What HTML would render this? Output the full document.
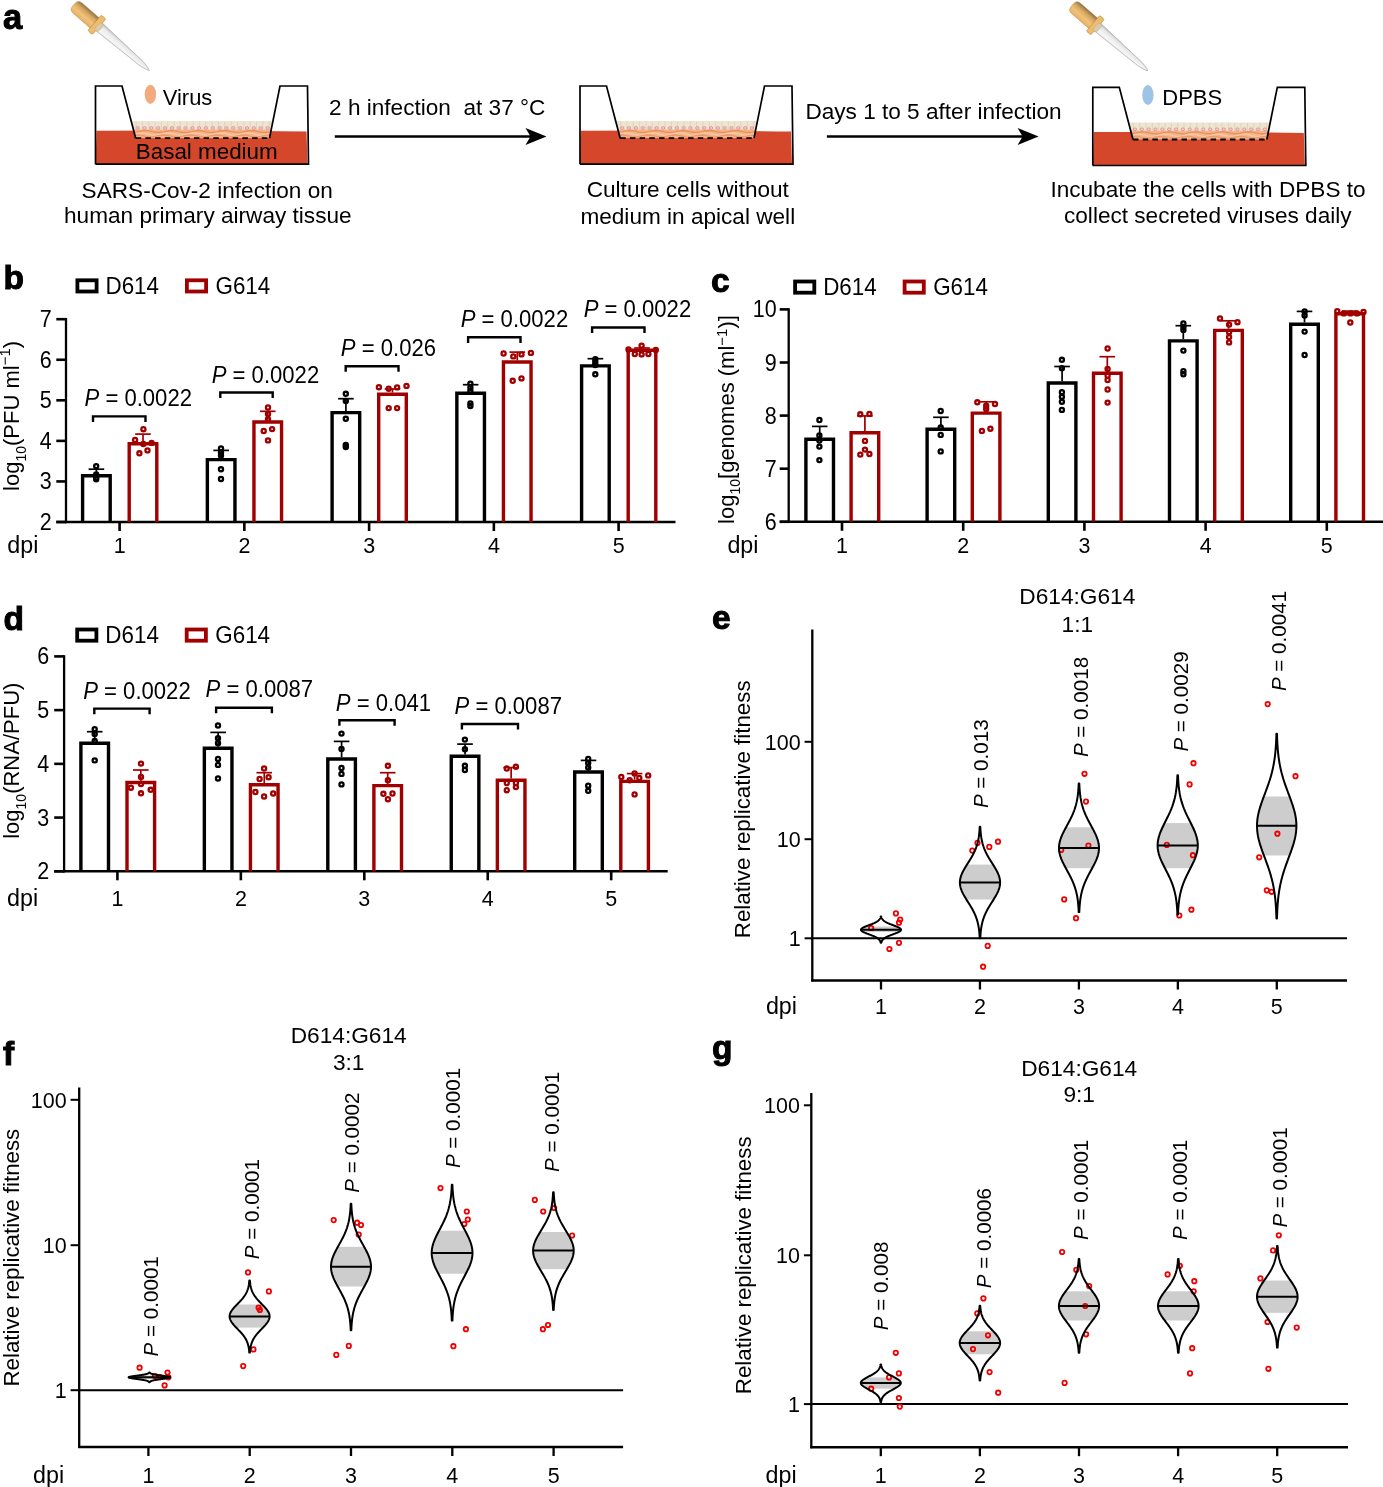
<!DOCTYPE html><html><head><meta charset="utf-8"><style>html,body{margin:0;padding:0;background:#fff;overflow:hidden}svg text{font-family:"Liberation Sans",sans-serif}</style></head><body><svg width="1383" height="1487" viewBox="0 0 1383 1487" style="display:block;will-change:transform" font-family='"Liberation Sans", sans-serif'>
<defs><linearGradient id="bulb" x1="0" y1="0" x2="0" y2="1"><stop offset="0" stop-color="#8e7048"/><stop offset="0.3" stop-color="#d4a660"/><stop offset="0.65" stop-color="#f2c278"/><stop offset="1" stop-color="#e4b066"/></linearGradient><linearGradient id="glass" x1="0" y1="0" x2="0" y2="1"><stop offset="0" stop-color="#bdbdbd"/><stop offset="0.3" stop-color="#e8e8e8"/><stop offset="0.7" stop-color="#f6f6f6"/><stop offset="1" stop-color="#ececec"/></linearGradient><linearGradient id="cells" x1="0" y1="0" x2="0" y2="1"><stop offset="0" stop-color="#efe7d6"/><stop offset="0.5" stop-color="#ece0c8"/><stop offset="0.62" stop-color="#f0a070"/><stop offset="0.8" stop-color="#eec0a0"/><stop offset="1" stop-color="#f08a55"/></linearGradient></defs>
<rect width="1383" height="1487" fill="#fff"/>
<text x="3.00" y="28.50" font-size="34.5" text-anchor="start" font-weight="bold" font-style="normal" fill="#000"  stroke="#000" stroke-width="1.0">a</text>
<g transform="translate(73.80,4.80) rotate(41.0)">
<path d="M32,-5.0 L90,-2.6 Q100,-0.8 100,0 Q100,0.8 90,2.6 L32,5.0 Z" fill="url(#glass)" stroke="#9a9a9a" stroke-width="0.6"/>
<path d="M5,-6.8 L29,-6.8 L29,6.8 L5,6.8 Q0,6.8 0,1.8 L0,-1.8 Q0,-6.8 5,-6.8 Z" fill="url(#bulb)" stroke="#b48a4a" stroke-width="0.5"/>
<path d="M27.5,-9.8 Q30.5,-11.2 33.5,-9.8 L33.5,9.8 Q30.5,11.2 27.5,9.8 Z" fill="#eebc6c" stroke="#b8893e" stroke-width="0.6"/>
<ellipse cx="33.6" cy="0.4" rx="2.6" ry="5.2" fill="#dccaa6" stroke="#b9a27a" stroke-width="0.4"/>
</g>
<g transform="translate(1072.30,5.20) rotate(41.0)">
<path d="M32,-5.0 L90,-2.6 Q100,-0.8 100,0 Q100,0.8 90,2.6 L32,5.0 Z" fill="url(#glass)" stroke="#9a9a9a" stroke-width="0.6"/>
<path d="M5,-6.8 L29,-6.8 L29,6.8 L5,6.8 Q0,6.8 0,1.8 L0,-1.8 Q0,-6.8 5,-6.8 Z" fill="url(#bulb)" stroke="#b48a4a" stroke-width="0.5"/>
<path d="M27.5,-9.8 Q30.5,-11.2 33.5,-9.8 L33.5,9.8 Q30.5,11.2 27.5,9.8 Z" fill="#eebc6c" stroke="#b8893e" stroke-width="0.6"/>
<ellipse cx="33.6" cy="0.4" rx="2.6" ry="5.2" fill="#dccaa6" stroke="#b9a27a" stroke-width="0.4"/>
</g>
<path d="M96.50,130.80 Q201.50,130.20 306.50,131.60 L307.50,164.20 L95.50,164.20 Z" fill="#d4472b"/>
<clipPath id="cl95"><path d="M131.19,121.00 L272.96,121.00 L269.50,138.20 L135.70,138.20 Z"/></clipPath>
<g clip-path="url(#cl95)">
<rect x="115.50" y="121.00" width="172.00" height="17.20" fill="#ede4d2"/>
<rect x="115.50" y="129.50" width="172.00" height="8.70" fill="#f3b48a"/>
<polyline points="125.50,131.50 129.30,132.28 133.10,132.47 136.90,131.93 140.70,131.06 144.50,130.52 148.30,130.73 152.10,131.52 155.90,132.29 159.70,132.47 163.50,131.91 167.30,131.04 171.10,130.52 174.90,130.74 178.70,131.53 182.50,132.30 186.30,132.47 190.10,131.90 193.90,131.03 197.70,130.52 201.50,130.75 205.30,131.55 209.10,132.31 212.90,132.46 216.70,131.88 220.50,131.01 224.30,130.51 228.10,130.76 231.90,131.57 235.70,132.32 239.50,132.46 243.30,131.87 247.10,131.00 250.90,130.51 254.70,130.77 258.50,131.58 262.30,132.33 266.10,132.45 269.90,131.85 273.70,130.98 277.50,130.51" fill="none" stroke="#ee8f55" stroke-width="1.3"/>
<polyline points="125.50,135.01 129.30,135.14 133.10,134.40 136.90,133.36 140.70,132.81 144.50,133.15 148.30,134.14 152.10,135.02 155.90,135.13 159.70,134.38 163.50,133.35 167.30,132.81 171.10,133.17 174.90,134.16 178.70,135.03 182.50,135.12 186.30,134.36 190.10,133.33 193.90,132.80 197.70,133.18 201.50,134.18 205.30,135.04 209.10,135.11 212.90,134.34 216.70,133.31 220.50,132.80 224.30,133.20 228.10,134.20 231.90,135.05 235.70,135.11 239.50,134.33 243.30,133.30 247.10,132.80 250.90,133.21 254.70,134.22 258.50,135.06 262.30,135.10 266.10,134.31 269.90,133.28 273.70,132.80 277.50,133.23" fill="none" stroke="#f5c9ae" stroke-width="1.3"/>
<polyline points="125.50,136.91 129.30,136.24 133.10,135.39 136.90,135.00 140.70,135.37 144.50,136.22 148.30,136.90 152.10,136.90 155.90,136.22 159.70,135.37 163.50,135.00 167.30,135.38 171.10,136.23 174.90,136.91 178.70,136.89 182.50,136.21 186.30,135.36 190.10,135.00 193.90,135.40 197.70,136.25 201.50,136.91 205.30,136.89 209.10,136.19 212.90,135.35 216.70,135.00 220.50,135.41 224.30,136.26 228.10,136.92 231.90,136.88 235.70,136.17 239.50,135.34 243.30,135.00 247.10,135.42 250.90,136.28 254.70,136.93 258.50,136.87 262.30,136.16 266.10,135.32 269.90,135.00 273.70,135.44 277.50,136.30" fill="none" stroke="#ef9a66" stroke-width="1.3"/>
<line x1="129.70" y1="121.50" x2="129.70" y2="129.50" stroke="#d6c9ae" stroke-width="0.6"/>
<line x1="136.04" y1="121.50" x2="136.04" y2="129.50" stroke="#d6c9ae" stroke-width="0.6"/>
<line x1="142.38" y1="121.50" x2="142.38" y2="129.50" stroke="#d6c9ae" stroke-width="0.6"/>
<line x1="148.72" y1="121.50" x2="148.72" y2="129.50" stroke="#d6c9ae" stroke-width="0.6"/>
<line x1="155.06" y1="121.50" x2="155.06" y2="129.50" stroke="#d6c9ae" stroke-width="0.6"/>
<line x1="161.40" y1="121.50" x2="161.40" y2="129.50" stroke="#d6c9ae" stroke-width="0.6"/>
<line x1="167.73" y1="121.50" x2="167.73" y2="129.50" stroke="#d6c9ae" stroke-width="0.6"/>
<line x1="174.07" y1="121.50" x2="174.07" y2="129.50" stroke="#d6c9ae" stroke-width="0.6"/>
<line x1="180.41" y1="121.50" x2="180.41" y2="129.50" stroke="#d6c9ae" stroke-width="0.6"/>
<line x1="186.75" y1="121.50" x2="186.75" y2="129.50" stroke="#d6c9ae" stroke-width="0.6"/>
<line x1="193.09" y1="121.50" x2="193.09" y2="129.50" stroke="#d6c9ae" stroke-width="0.6"/>
<line x1="199.43" y1="121.50" x2="199.43" y2="129.50" stroke="#d6c9ae" stroke-width="0.6"/>
<line x1="205.77" y1="121.50" x2="205.77" y2="129.50" stroke="#d6c9ae" stroke-width="0.6"/>
<line x1="212.11" y1="121.50" x2="212.11" y2="129.50" stroke="#d6c9ae" stroke-width="0.6"/>
<line x1="218.45" y1="121.50" x2="218.45" y2="129.50" stroke="#d6c9ae" stroke-width="0.6"/>
<line x1="224.79" y1="121.50" x2="224.79" y2="129.50" stroke="#d6c9ae" stroke-width="0.6"/>
<line x1="231.13" y1="121.50" x2="231.13" y2="129.50" stroke="#d6c9ae" stroke-width="0.6"/>
<line x1="237.47" y1="121.50" x2="237.47" y2="129.50" stroke="#d6c9ae" stroke-width="0.6"/>
<line x1="243.80" y1="121.50" x2="243.80" y2="129.50" stroke="#d6c9ae" stroke-width="0.6"/>
<line x1="250.14" y1="121.50" x2="250.14" y2="129.50" stroke="#d6c9ae" stroke-width="0.6"/>
<line x1="256.48" y1="121.50" x2="256.48" y2="129.50" stroke="#d6c9ae" stroke-width="0.6"/>
<line x1="262.82" y1="121.50" x2="262.82" y2="129.50" stroke="#d6c9ae" stroke-width="0.6"/>
<line x1="269.16" y1="121.50" x2="269.16" y2="129.50" stroke="#d6c9ae" stroke-width="0.6"/>
<line x1="275.50" y1="121.50" x2="275.50" y2="129.50" stroke="#d6c9ae" stroke-width="0.6"/>
<ellipse cx="137.70" cy="128.00" rx="1.7" ry="1.4" fill="#f0d0cc" stroke="#dd8088" stroke-width="0.7"/>
<ellipse cx="144.53" cy="128.00" rx="1.7" ry="1.4" fill="#f0d0cc" stroke="#dd8088" stroke-width="0.7"/>
<ellipse cx="151.36" cy="128.00" rx="1.7" ry="1.4" fill="#f0d0cc" stroke="#dd8088" stroke-width="0.7"/>
<ellipse cx="158.19" cy="128.00" rx="1.7" ry="1.4" fill="#f0d0cc" stroke="#dd8088" stroke-width="0.7"/>
<ellipse cx="165.03" cy="128.00" rx="1.7" ry="1.4" fill="#f0d0cc" stroke="#dd8088" stroke-width="0.7"/>
<ellipse cx="171.86" cy="128.00" rx="1.7" ry="1.4" fill="#f0d0cc" stroke="#dd8088" stroke-width="0.7"/>
<ellipse cx="178.69" cy="128.00" rx="1.7" ry="1.4" fill="#f0d0cc" stroke="#dd8088" stroke-width="0.7"/>
<ellipse cx="185.52" cy="128.00" rx="1.7" ry="1.4" fill="#f0d0cc" stroke="#dd8088" stroke-width="0.7"/>
<ellipse cx="192.35" cy="128.00" rx="1.7" ry="1.4" fill="#f0d0cc" stroke="#dd8088" stroke-width="0.7"/>
<ellipse cx="199.18" cy="128.00" rx="1.7" ry="1.4" fill="#f0d0cc" stroke="#dd8088" stroke-width="0.7"/>
<ellipse cx="206.02" cy="128.00" rx="1.7" ry="1.4" fill="#f0d0cc" stroke="#dd8088" stroke-width="0.7"/>
<ellipse cx="212.85" cy="128.00" rx="1.7" ry="1.4" fill="#f0d0cc" stroke="#dd8088" stroke-width="0.7"/>
<ellipse cx="219.68" cy="128.00" rx="1.7" ry="1.4" fill="#f0d0cc" stroke="#dd8088" stroke-width="0.7"/>
<ellipse cx="226.51" cy="128.00" rx="1.7" ry="1.4" fill="#f0d0cc" stroke="#dd8088" stroke-width="0.7"/>
<ellipse cx="233.34" cy="128.00" rx="1.7" ry="1.4" fill="#f0d0cc" stroke="#dd8088" stroke-width="0.7"/>
<ellipse cx="240.17" cy="128.00" rx="1.7" ry="1.4" fill="#f0d0cc" stroke="#dd8088" stroke-width="0.7"/>
<ellipse cx="247.01" cy="128.00" rx="1.7" ry="1.4" fill="#f0d0cc" stroke="#dd8088" stroke-width="0.7"/>
<ellipse cx="253.84" cy="128.00" rx="1.7" ry="1.4" fill="#f0d0cc" stroke="#dd8088" stroke-width="0.7"/>
<ellipse cx="260.67" cy="128.00" rx="1.7" ry="1.4" fill="#f0d0cc" stroke="#dd8088" stroke-width="0.7"/>
<ellipse cx="267.50" cy="128.00" rx="1.7" ry="1.4" fill="#f0d0cc" stroke="#dd8088" stroke-width="0.7"/>
</g>
<path d="M95.50,164.20 L95.50,86.00 L122.00,86.00 L135.70,138.20" fill="none" stroke="#000" stroke-width="1.7" stroke-linejoin="miter"/>
<path d="M269.50,138.20 L280.00,86.00 L307.50,86.00 L308.50,164.20 L95.50,164.20" fill="none" stroke="#000" stroke-width="1.7" stroke-linejoin="miter"/>
<line x1="135.70" y1="138.20" x2="269.50" y2="138.20" stroke="#000" stroke-width="1.8" stroke-dasharray="5.5,4.2"/>
<path d="M581.00,130.80 Q686.00,130.20 791.00,131.60 L792.00,164.20 L580.00,164.20 Z" fill="#d4472b"/>
<clipPath id="cl580"><path d="M615.69,121.00 L757.46,121.00 L754.00,138.20 L620.20,138.20 Z"/></clipPath>
<g clip-path="url(#cl580)">
<rect x="600.00" y="121.00" width="172.00" height="17.20" fill="#ede4d2"/>
<rect x="600.00" y="129.50" width="172.00" height="8.70" fill="#f3b48a"/>
<polyline points="610.00,131.50 613.80,132.28 617.60,132.47 621.40,131.93 625.20,131.06 629.00,130.52 632.80,130.73 636.60,131.52 640.40,132.29 644.20,132.47 648.00,131.91 651.80,131.04 655.60,130.52 659.40,130.74 663.20,131.53 667.00,132.30 670.80,132.47 674.60,131.90 678.40,131.03 682.20,130.52 686.00,130.75 689.80,131.55 693.60,132.31 697.40,132.46 701.20,131.88 705.00,131.01 708.80,130.51 712.60,130.76 716.40,131.57 720.20,132.32 724.00,132.46 727.80,131.87 731.60,131.00 735.40,130.51 739.20,130.77 743.00,131.58 746.80,132.33 750.60,132.45 754.40,131.85 758.20,130.98 762.00,130.51" fill="none" stroke="#ee8f55" stroke-width="1.3"/>
<polyline points="610.00,135.01 613.80,135.14 617.60,134.40 621.40,133.36 625.20,132.81 629.00,133.15 632.80,134.14 636.60,135.02 640.40,135.13 644.20,134.38 648.00,133.35 651.80,132.81 655.60,133.17 659.40,134.16 663.20,135.03 667.00,135.12 670.80,134.36 674.60,133.33 678.40,132.80 682.20,133.18 686.00,134.18 689.80,135.04 693.60,135.11 697.40,134.34 701.20,133.31 705.00,132.80 708.80,133.20 712.60,134.20 716.40,135.05 720.20,135.11 724.00,134.33 727.80,133.30 731.60,132.80 735.40,133.21 739.20,134.22 743.00,135.06 746.80,135.10 750.60,134.31 754.40,133.28 758.20,132.80 762.00,133.23" fill="none" stroke="#f5c9ae" stroke-width="1.3"/>
<polyline points="610.00,136.91 613.80,136.24 617.60,135.39 621.40,135.00 625.20,135.37 629.00,136.22 632.80,136.90 636.60,136.90 640.40,136.22 644.20,135.37 648.00,135.00 651.80,135.38 655.60,136.23 659.40,136.91 663.20,136.89 667.00,136.21 670.80,135.36 674.60,135.00 678.40,135.40 682.20,136.25 686.00,136.91 689.80,136.89 693.60,136.19 697.40,135.35 701.20,135.00 705.00,135.41 708.80,136.26 712.60,136.92 716.40,136.88 720.20,136.17 724.00,135.34 727.80,135.00 731.60,135.42 735.40,136.28 739.20,136.93 743.00,136.87 746.80,136.16 750.60,135.32 754.40,135.00 758.20,135.44 762.00,136.30" fill="none" stroke="#ef9a66" stroke-width="1.3"/>
<line x1="614.20" y1="121.50" x2="614.20" y2="129.50" stroke="#d6c9ae" stroke-width="0.6"/>
<line x1="620.54" y1="121.50" x2="620.54" y2="129.50" stroke="#d6c9ae" stroke-width="0.6"/>
<line x1="626.88" y1="121.50" x2="626.88" y2="129.50" stroke="#d6c9ae" stroke-width="0.6"/>
<line x1="633.22" y1="121.50" x2="633.22" y2="129.50" stroke="#d6c9ae" stroke-width="0.6"/>
<line x1="639.56" y1="121.50" x2="639.56" y2="129.50" stroke="#d6c9ae" stroke-width="0.6"/>
<line x1="645.90" y1="121.50" x2="645.90" y2="129.50" stroke="#d6c9ae" stroke-width="0.6"/>
<line x1="652.23" y1="121.50" x2="652.23" y2="129.50" stroke="#d6c9ae" stroke-width="0.6"/>
<line x1="658.57" y1="121.50" x2="658.57" y2="129.50" stroke="#d6c9ae" stroke-width="0.6"/>
<line x1="664.91" y1="121.50" x2="664.91" y2="129.50" stroke="#d6c9ae" stroke-width="0.6"/>
<line x1="671.25" y1="121.50" x2="671.25" y2="129.50" stroke="#d6c9ae" stroke-width="0.6"/>
<line x1="677.59" y1="121.50" x2="677.59" y2="129.50" stroke="#d6c9ae" stroke-width="0.6"/>
<line x1="683.93" y1="121.50" x2="683.93" y2="129.50" stroke="#d6c9ae" stroke-width="0.6"/>
<line x1="690.27" y1="121.50" x2="690.27" y2="129.50" stroke="#d6c9ae" stroke-width="0.6"/>
<line x1="696.61" y1="121.50" x2="696.61" y2="129.50" stroke="#d6c9ae" stroke-width="0.6"/>
<line x1="702.95" y1="121.50" x2="702.95" y2="129.50" stroke="#d6c9ae" stroke-width="0.6"/>
<line x1="709.29" y1="121.50" x2="709.29" y2="129.50" stroke="#d6c9ae" stroke-width="0.6"/>
<line x1="715.63" y1="121.50" x2="715.63" y2="129.50" stroke="#d6c9ae" stroke-width="0.6"/>
<line x1="721.97" y1="121.50" x2="721.97" y2="129.50" stroke="#d6c9ae" stroke-width="0.6"/>
<line x1="728.30" y1="121.50" x2="728.30" y2="129.50" stroke="#d6c9ae" stroke-width="0.6"/>
<line x1="734.64" y1="121.50" x2="734.64" y2="129.50" stroke="#d6c9ae" stroke-width="0.6"/>
<line x1="740.98" y1="121.50" x2="740.98" y2="129.50" stroke="#d6c9ae" stroke-width="0.6"/>
<line x1="747.32" y1="121.50" x2="747.32" y2="129.50" stroke="#d6c9ae" stroke-width="0.6"/>
<line x1="753.66" y1="121.50" x2="753.66" y2="129.50" stroke="#d6c9ae" stroke-width="0.6"/>
<line x1="760.00" y1="121.50" x2="760.00" y2="129.50" stroke="#d6c9ae" stroke-width="0.6"/>
<ellipse cx="622.20" cy="128.00" rx="1.7" ry="1.4" fill="#f0d0cc" stroke="#dd8088" stroke-width="0.7"/>
<ellipse cx="629.03" cy="128.00" rx="1.7" ry="1.4" fill="#f0d0cc" stroke="#dd8088" stroke-width="0.7"/>
<ellipse cx="635.86" cy="128.00" rx="1.7" ry="1.4" fill="#f0d0cc" stroke="#dd8088" stroke-width="0.7"/>
<ellipse cx="642.69" cy="128.00" rx="1.7" ry="1.4" fill="#f0d0cc" stroke="#dd8088" stroke-width="0.7"/>
<ellipse cx="649.53" cy="128.00" rx="1.7" ry="1.4" fill="#f0d0cc" stroke="#dd8088" stroke-width="0.7"/>
<ellipse cx="656.36" cy="128.00" rx="1.7" ry="1.4" fill="#f0d0cc" stroke="#dd8088" stroke-width="0.7"/>
<ellipse cx="663.19" cy="128.00" rx="1.7" ry="1.4" fill="#f0d0cc" stroke="#dd8088" stroke-width="0.7"/>
<ellipse cx="670.02" cy="128.00" rx="1.7" ry="1.4" fill="#f0d0cc" stroke="#dd8088" stroke-width="0.7"/>
<ellipse cx="676.85" cy="128.00" rx="1.7" ry="1.4" fill="#f0d0cc" stroke="#dd8088" stroke-width="0.7"/>
<ellipse cx="683.68" cy="128.00" rx="1.7" ry="1.4" fill="#f0d0cc" stroke="#dd8088" stroke-width="0.7"/>
<ellipse cx="690.52" cy="128.00" rx="1.7" ry="1.4" fill="#f0d0cc" stroke="#dd8088" stroke-width="0.7"/>
<ellipse cx="697.35" cy="128.00" rx="1.7" ry="1.4" fill="#f0d0cc" stroke="#dd8088" stroke-width="0.7"/>
<ellipse cx="704.18" cy="128.00" rx="1.7" ry="1.4" fill="#f0d0cc" stroke="#dd8088" stroke-width="0.7"/>
<ellipse cx="711.01" cy="128.00" rx="1.7" ry="1.4" fill="#f0d0cc" stroke="#dd8088" stroke-width="0.7"/>
<ellipse cx="717.84" cy="128.00" rx="1.7" ry="1.4" fill="#f0d0cc" stroke="#dd8088" stroke-width="0.7"/>
<ellipse cx="724.67" cy="128.00" rx="1.7" ry="1.4" fill="#f0d0cc" stroke="#dd8088" stroke-width="0.7"/>
<ellipse cx="731.51" cy="128.00" rx="1.7" ry="1.4" fill="#f0d0cc" stroke="#dd8088" stroke-width="0.7"/>
<ellipse cx="738.34" cy="128.00" rx="1.7" ry="1.4" fill="#f0d0cc" stroke="#dd8088" stroke-width="0.7"/>
<ellipse cx="745.17" cy="128.00" rx="1.7" ry="1.4" fill="#f0d0cc" stroke="#dd8088" stroke-width="0.7"/>
<ellipse cx="752.00" cy="128.00" rx="1.7" ry="1.4" fill="#f0d0cc" stroke="#dd8088" stroke-width="0.7"/>
</g>
<path d="M580.00,164.20 L580.00,86.00 L606.50,86.00 L620.20,138.20" fill="none" stroke="#000" stroke-width="1.7" stroke-linejoin="miter"/>
<path d="M754.00,138.20 L764.50,86.00 L792.00,86.00 L793.00,164.20 L580.00,164.20" fill="none" stroke="#000" stroke-width="1.7" stroke-linejoin="miter"/>
<line x1="620.20" y1="138.20" x2="754.00" y2="138.20" stroke="#000" stroke-width="1.8" stroke-dasharray="5.5,4.2"/>
<path d="M1093.80,132.10 Q1198.80,131.50 1303.80,132.90 L1304.80,165.50 L1092.80,165.50 Z" fill="#d4472b"/>
<clipPath id="cl1092"><path d="M1128.49,122.30 L1270.26,122.30 L1266.80,139.50 L1133.00,139.50 Z"/></clipPath>
<g clip-path="url(#cl1092)">
<rect x="1112.80" y="122.30" width="172.00" height="17.20" fill="#ede4d2"/>
<rect x="1112.80" y="130.80" width="172.00" height="8.70" fill="#f3b48a"/>
<polyline points="1122.80,132.80 1126.60,133.58 1130.40,133.77 1134.20,133.23 1138.00,132.36 1141.80,131.82 1145.60,132.03 1149.40,132.82 1153.20,133.59 1157.00,133.77 1160.80,133.21 1164.60,132.34 1168.40,131.82 1172.20,132.04 1176.00,132.83 1179.80,133.60 1183.60,133.77 1187.40,133.20 1191.20,132.33 1195.00,131.82 1198.80,132.05 1202.60,132.85 1206.40,133.61 1210.20,133.76 1214.00,133.18 1217.80,132.31 1221.60,131.81 1225.40,132.06 1229.20,132.87 1233.00,133.62 1236.80,133.76 1240.60,133.17 1244.40,132.30 1248.20,131.81 1252.00,132.07 1255.80,132.88 1259.60,133.63 1263.40,133.75 1267.20,133.15 1271.00,132.28 1274.80,131.81" fill="none" stroke="#ee8f55" stroke-width="1.3"/>
<polyline points="1122.80,136.31 1126.60,136.44 1130.40,135.70 1134.20,134.66 1138.00,134.11 1141.80,134.45 1145.60,135.44 1149.40,136.32 1153.20,136.43 1157.00,135.68 1160.80,134.65 1164.60,134.11 1168.40,134.47 1172.20,135.46 1176.00,136.33 1179.80,136.42 1183.60,135.66 1187.40,134.63 1191.20,134.10 1195.00,134.48 1198.80,135.48 1202.60,136.34 1206.40,136.41 1210.20,135.64 1214.00,134.61 1217.80,134.10 1221.60,134.50 1225.40,135.50 1229.20,136.35 1233.00,136.41 1236.80,135.63 1240.60,134.60 1244.40,134.10 1248.20,134.51 1252.00,135.52 1255.80,136.36 1259.60,136.40 1263.40,135.61 1267.20,134.58 1271.00,134.10 1274.80,134.53" fill="none" stroke="#f5c9ae" stroke-width="1.3"/>
<polyline points="1122.80,138.21 1126.60,137.54 1130.40,136.69 1134.20,136.30 1138.00,136.67 1141.80,137.52 1145.60,138.20 1149.40,138.20 1153.20,137.52 1157.00,136.67 1160.80,136.30 1164.60,136.68 1168.40,137.53 1172.20,138.21 1176.00,138.19 1179.80,137.51 1183.60,136.66 1187.40,136.30 1191.20,136.70 1195.00,137.55 1198.80,138.21 1202.60,138.19 1206.40,137.49 1210.20,136.65 1214.00,136.30 1217.80,136.71 1221.60,137.56 1225.40,138.22 1229.20,138.18 1233.00,137.47 1236.80,136.64 1240.60,136.30 1244.40,136.72 1248.20,137.58 1252.00,138.23 1255.80,138.17 1259.60,137.46 1263.40,136.62 1267.20,136.30 1271.00,136.74 1274.80,137.60" fill="none" stroke="#ef9a66" stroke-width="1.3"/>
<line x1="1127.00" y1="122.80" x2="1127.00" y2="130.80" stroke="#d6c9ae" stroke-width="0.6"/>
<line x1="1133.34" y1="122.80" x2="1133.34" y2="130.80" stroke="#d6c9ae" stroke-width="0.6"/>
<line x1="1139.68" y1="122.80" x2="1139.68" y2="130.80" stroke="#d6c9ae" stroke-width="0.6"/>
<line x1="1146.02" y1="122.80" x2="1146.02" y2="130.80" stroke="#d6c9ae" stroke-width="0.6"/>
<line x1="1152.36" y1="122.80" x2="1152.36" y2="130.80" stroke="#d6c9ae" stroke-width="0.6"/>
<line x1="1158.70" y1="122.80" x2="1158.70" y2="130.80" stroke="#d6c9ae" stroke-width="0.6"/>
<line x1="1165.03" y1="122.80" x2="1165.03" y2="130.80" stroke="#d6c9ae" stroke-width="0.6"/>
<line x1="1171.37" y1="122.80" x2="1171.37" y2="130.80" stroke="#d6c9ae" stroke-width="0.6"/>
<line x1="1177.71" y1="122.80" x2="1177.71" y2="130.80" stroke="#d6c9ae" stroke-width="0.6"/>
<line x1="1184.05" y1="122.80" x2="1184.05" y2="130.80" stroke="#d6c9ae" stroke-width="0.6"/>
<line x1="1190.39" y1="122.80" x2="1190.39" y2="130.80" stroke="#d6c9ae" stroke-width="0.6"/>
<line x1="1196.73" y1="122.80" x2="1196.73" y2="130.80" stroke="#d6c9ae" stroke-width="0.6"/>
<line x1="1203.07" y1="122.80" x2="1203.07" y2="130.80" stroke="#d6c9ae" stroke-width="0.6"/>
<line x1="1209.41" y1="122.80" x2="1209.41" y2="130.80" stroke="#d6c9ae" stroke-width="0.6"/>
<line x1="1215.75" y1="122.80" x2="1215.75" y2="130.80" stroke="#d6c9ae" stroke-width="0.6"/>
<line x1="1222.09" y1="122.80" x2="1222.09" y2="130.80" stroke="#d6c9ae" stroke-width="0.6"/>
<line x1="1228.43" y1="122.80" x2="1228.43" y2="130.80" stroke="#d6c9ae" stroke-width="0.6"/>
<line x1="1234.77" y1="122.80" x2="1234.77" y2="130.80" stroke="#d6c9ae" stroke-width="0.6"/>
<line x1="1241.10" y1="122.80" x2="1241.10" y2="130.80" stroke="#d6c9ae" stroke-width="0.6"/>
<line x1="1247.44" y1="122.80" x2="1247.44" y2="130.80" stroke="#d6c9ae" stroke-width="0.6"/>
<line x1="1253.78" y1="122.80" x2="1253.78" y2="130.80" stroke="#d6c9ae" stroke-width="0.6"/>
<line x1="1260.12" y1="122.80" x2="1260.12" y2="130.80" stroke="#d6c9ae" stroke-width="0.6"/>
<line x1="1266.46" y1="122.80" x2="1266.46" y2="130.80" stroke="#d6c9ae" stroke-width="0.6"/>
<line x1="1272.80" y1="122.80" x2="1272.80" y2="130.80" stroke="#d6c9ae" stroke-width="0.6"/>
<ellipse cx="1135.00" cy="129.30" rx="1.7" ry="1.4" fill="#f0d0cc" stroke="#dd8088" stroke-width="0.7"/>
<ellipse cx="1141.83" cy="129.30" rx="1.7" ry="1.4" fill="#f0d0cc" stroke="#dd8088" stroke-width="0.7"/>
<ellipse cx="1148.66" cy="129.30" rx="1.7" ry="1.4" fill="#f0d0cc" stroke="#dd8088" stroke-width="0.7"/>
<ellipse cx="1155.49" cy="129.30" rx="1.7" ry="1.4" fill="#f0d0cc" stroke="#dd8088" stroke-width="0.7"/>
<ellipse cx="1162.33" cy="129.30" rx="1.7" ry="1.4" fill="#f0d0cc" stroke="#dd8088" stroke-width="0.7"/>
<ellipse cx="1169.16" cy="129.30" rx="1.7" ry="1.4" fill="#f0d0cc" stroke="#dd8088" stroke-width="0.7"/>
<ellipse cx="1175.99" cy="129.30" rx="1.7" ry="1.4" fill="#f0d0cc" stroke="#dd8088" stroke-width="0.7"/>
<ellipse cx="1182.82" cy="129.30" rx="1.7" ry="1.4" fill="#f0d0cc" stroke="#dd8088" stroke-width="0.7"/>
<ellipse cx="1189.65" cy="129.30" rx="1.7" ry="1.4" fill="#f0d0cc" stroke="#dd8088" stroke-width="0.7"/>
<ellipse cx="1196.48" cy="129.30" rx="1.7" ry="1.4" fill="#f0d0cc" stroke="#dd8088" stroke-width="0.7"/>
<ellipse cx="1203.32" cy="129.30" rx="1.7" ry="1.4" fill="#f0d0cc" stroke="#dd8088" stroke-width="0.7"/>
<ellipse cx="1210.15" cy="129.30" rx="1.7" ry="1.4" fill="#f0d0cc" stroke="#dd8088" stroke-width="0.7"/>
<ellipse cx="1216.98" cy="129.30" rx="1.7" ry="1.4" fill="#f0d0cc" stroke="#dd8088" stroke-width="0.7"/>
<ellipse cx="1223.81" cy="129.30" rx="1.7" ry="1.4" fill="#f0d0cc" stroke="#dd8088" stroke-width="0.7"/>
<ellipse cx="1230.64" cy="129.30" rx="1.7" ry="1.4" fill="#f0d0cc" stroke="#dd8088" stroke-width="0.7"/>
<ellipse cx="1237.47" cy="129.30" rx="1.7" ry="1.4" fill="#f0d0cc" stroke="#dd8088" stroke-width="0.7"/>
<ellipse cx="1244.31" cy="129.30" rx="1.7" ry="1.4" fill="#f0d0cc" stroke="#dd8088" stroke-width="0.7"/>
<ellipse cx="1251.14" cy="129.30" rx="1.7" ry="1.4" fill="#f0d0cc" stroke="#dd8088" stroke-width="0.7"/>
<ellipse cx="1257.97" cy="129.30" rx="1.7" ry="1.4" fill="#f0d0cc" stroke="#dd8088" stroke-width="0.7"/>
<ellipse cx="1264.80" cy="129.30" rx="1.7" ry="1.4" fill="#f0d0cc" stroke="#dd8088" stroke-width="0.7"/>
</g>
<path d="M1092.80,165.50 L1092.80,87.30 L1119.30,87.30 L1133.00,139.50" fill="none" stroke="#000" stroke-width="1.7" stroke-linejoin="miter"/>
<path d="M1266.80,139.50 L1277.30,87.30 L1304.80,87.30 L1305.80,165.50 L1092.80,165.50" fill="none" stroke="#000" stroke-width="1.7" stroke-linejoin="miter"/>
<line x1="1133.00" y1="139.50" x2="1266.80" y2="139.50" stroke="#000" stroke-width="1.8" stroke-dasharray="5.5,4.2"/>
<ellipse cx="150.4" cy="94.3" rx="5.7" ry="9.6" fill="#f2ab7c"/>
<text x="162.80" y="104.60" font-size="21.9" text-anchor="start" font-weight="normal" font-style="normal" fill="#000" >Virus</text>
<text x="135.80" y="158.80" font-size="22.4" text-anchor="start" font-weight="normal" font-style="normal" fill="#000" >Basal medium</text>
<ellipse cx="1147.9" cy="95.0" rx="5.7" ry="9.9" fill="#9dc3e6"/>
<text x="1162.30" y="105.00" font-size="22.0" text-anchor="start" font-weight="normal" font-style="normal" fill="#000" >DPBS</text>
<text x="437.20" y="115.30" font-size="22.6" text-anchor="middle" font-weight="normal" font-style="normal" fill="#000" xml:space="preserve">2 h infection  at 37 °C</text>
<line x1="334.80" y1="136.50" x2="532.50" y2="136.50" stroke="#000" stroke-width="2.4" />
<path d="M546.50,136.50 L525.50,128.10 L530.50,136.50 L525.50,144.90 Z" fill="#000"/>
<text x="933.50" y="118.70" font-size="22.6" text-anchor="middle" font-weight="normal" font-style="normal" fill="#000" >Days 1 to 5 after infection</text>
<line x1="826.90" y1="136.50" x2="1024.60" y2="136.50" stroke="#000" stroke-width="2.4" />
<path d="M1038.60,136.50 L1017.60,128.10 L1022.60,136.50 L1017.60,144.90 Z" fill="#000"/>
<text x="207.20" y="197.70" font-size="22.6" text-anchor="middle" font-weight="normal" font-style="normal" fill="#000" >SARS-Cov-2 infection on</text>
<text x="207.80" y="222.90" font-size="22.6" text-anchor="middle" font-weight="normal" font-style="normal" fill="#000" >human primary airway tissue</text>
<text x="687.80" y="196.70" font-size="22.6" text-anchor="middle" font-weight="normal" font-style="normal" fill="#000" >Culture cells without</text>
<text x="687.80" y="224.20" font-size="22.6" text-anchor="middle" font-weight="normal" font-style="normal" fill="#000" >medium in apical well</text>
<text x="1208.00" y="196.70" font-size="22.6" text-anchor="middle" font-weight="normal" font-style="normal" fill="#000" >Incubate the cells with DPBS to</text>
<text x="1207.80" y="222.80" font-size="22.6" text-anchor="middle" font-weight="normal" font-style="normal" fill="#000" >collect secreted viruses daily</text>
<text x="3.50" y="288.60" font-size="33.5" text-anchor="start" font-weight="bold" font-style="normal" fill="#000"  stroke="#000" stroke-width="1.0">b</text>
<rect x="77.40" y="280.30" width="19.2" height="11.2" fill="none" stroke="#000" stroke-width="3.8"/>
<text transform="translate(105.50,293.90) scale(1,1.04)" font-size="22.4" text-anchor="start" font-weight="normal" font-style="normal" fill="#000" >D614</text>
<rect x="186.90" y="280.30" width="19.2" height="11.2" fill="none" stroke="#a00000" stroke-width="3.8"/>
<text transform="translate(215.50,293.90) scale(1,1.04)" font-size="22.4" text-anchor="start" font-weight="normal" font-style="normal" fill="#000" >G614</text>
<line x1="66.00" y1="318.00" x2="66.00" y2="523.20" stroke="#000" stroke-width="2.3" stroke-linecap="butt"/>
<line x1="56.30" y1="522.00" x2="66.00" y2="522.00" stroke="#000" stroke-width="2.6" />
<text transform="translate(51.60,530.00) scale(1,1.08)" font-size="21.5" text-anchor="end" font-weight="normal" font-style="normal" fill="#000" >2</text>
<line x1="56.30" y1="481.44" x2="66.00" y2="481.44" stroke="#000" stroke-width="2.6" />
<text transform="translate(51.60,489.44) scale(1,1.08)" font-size="21.5" text-anchor="end" font-weight="normal" font-style="normal" fill="#000" >3</text>
<line x1="56.30" y1="440.88" x2="66.00" y2="440.88" stroke="#000" stroke-width="2.6" />
<text transform="translate(51.60,448.88) scale(1,1.08)" font-size="21.5" text-anchor="end" font-weight="normal" font-style="normal" fill="#000" >4</text>
<line x1="56.30" y1="400.32" x2="66.00" y2="400.32" stroke="#000" stroke-width="2.6" />
<text transform="translate(51.60,408.32) scale(1,1.08)" font-size="21.5" text-anchor="end" font-weight="normal" font-style="normal" fill="#000" >5</text>
<line x1="56.30" y1="359.76" x2="66.00" y2="359.76" stroke="#000" stroke-width="2.6" />
<text transform="translate(51.60,367.76) scale(1,1.08)" font-size="21.5" text-anchor="end" font-weight="normal" font-style="normal" fill="#000" >6</text>
<line x1="56.30" y1="319.20" x2="66.00" y2="319.20" stroke="#000" stroke-width="2.6" />
<text transform="translate(51.60,327.20) scale(1,1.08)" font-size="21.5" text-anchor="end" font-weight="normal" font-style="normal" fill="#000" >7</text>
<line x1="56.30" y1="522.00" x2="675.50" y2="522.00" stroke="#000" stroke-width="2.6" />
<line x1="119.60" y1="522.00" x2="119.60" y2="531.00" stroke="#000" stroke-width="2.6" />
<text transform="translate(119.60,553.10) scale(1,1.04)" font-size="21.5" text-anchor="middle" font-weight="normal" font-style="normal" fill="#000" >1</text>
<line x1="244.35" y1="522.00" x2="244.35" y2="531.00" stroke="#000" stroke-width="2.6" />
<text transform="translate(244.35,553.10) scale(1,1.04)" font-size="21.5" text-anchor="middle" font-weight="normal" font-style="normal" fill="#000" >2</text>
<line x1="369.10" y1="522.00" x2="369.10" y2="531.00" stroke="#000" stroke-width="2.6" />
<text transform="translate(369.10,553.10) scale(1,1.04)" font-size="21.5" text-anchor="middle" font-weight="normal" font-style="normal" fill="#000" >3</text>
<line x1="493.85" y1="522.00" x2="493.85" y2="531.00" stroke="#000" stroke-width="2.6" />
<text transform="translate(493.85,553.10) scale(1,1.04)" font-size="21.5" text-anchor="middle" font-weight="normal" font-style="normal" fill="#000" >4</text>
<line x1="618.60" y1="522.00" x2="618.60" y2="531.00" stroke="#000" stroke-width="2.6" />
<text transform="translate(618.60,553.10) scale(1,1.04)" font-size="21.5" text-anchor="middle" font-weight="normal" font-style="normal" fill="#000" >5</text>
<text x="7.30" y="553.10" font-size="23.3" text-anchor="start" font-weight="normal" font-style="normal" fill="#000" >dpi</text>
<line x1="96.40" y1="474.00" x2="96.40" y2="469.20" stroke="#000" stroke-width="1.7" />
<line x1="88.60" y1="469.20" x2="104.20" y2="469.20" stroke="#000" stroke-width="1.7" />
<path d="M82.60,522.00 L82.60,475.70 L110.20,475.70 L110.20,522.00" fill="none" stroke="#000" stroke-width="3.4"/>
<circle cx="96.20" cy="466.10" r="2.05" fill="none" stroke="#000" stroke-width="2.3"/>
<circle cx="96.20" cy="474.50" r="2.05" fill="none" stroke="#000" stroke-width="2.3"/>
<circle cx="96.20" cy="477.50" r="2.05" fill="none" stroke="#000" stroke-width="2.3"/>
<circle cx="96.20" cy="479.20" r="2.05" fill="none" stroke="#000" stroke-width="2.3"/>
<line x1="143.00" y1="442.10" x2="143.00" y2="434.10" stroke="#a00000" stroke-width="1.7" />
<line x1="135.20" y1="434.10" x2="150.80" y2="434.10" stroke="#a00000" stroke-width="1.7" />
<path d="M129.20,522.00 L129.20,443.80 L156.80,443.80 L156.80,522.00" fill="none" stroke="#a00000" stroke-width="3.4"/>
<circle cx="143.40" cy="429.20" r="2.05" fill="none" stroke="#a00000" stroke-width="2.3"/>
<circle cx="135.10" cy="440.00" r="2.05" fill="none" stroke="#a00000" stroke-width="2.3"/>
<circle cx="143.30" cy="444.00" r="2.05" fill="none" stroke="#a00000" stroke-width="2.3"/>
<circle cx="151.60" cy="442.90" r="2.05" fill="none" stroke="#a00000" stroke-width="2.3"/>
<circle cx="147.50" cy="450.40" r="2.05" fill="none" stroke="#a00000" stroke-width="2.3"/>
<circle cx="139.40" cy="453.30" r="2.05" fill="none" stroke="#a00000" stroke-width="2.3"/>
<line x1="221.15" y1="457.90" x2="221.15" y2="450.40" stroke="#000" stroke-width="1.7" />
<line x1="213.35" y1="450.40" x2="228.95" y2="450.40" stroke="#000" stroke-width="1.7" />
<path d="M207.35,522.00 L207.35,459.60 L234.95,459.60 L234.95,522.00" fill="none" stroke="#000" stroke-width="3.4"/>
<circle cx="221.00" cy="448.50" r="2.05" fill="none" stroke="#000" stroke-width="2.3"/>
<circle cx="221.00" cy="452.50" r="2.05" fill="none" stroke="#000" stroke-width="2.3"/>
<circle cx="221.00" cy="455.40" r="2.05" fill="none" stroke="#000" stroke-width="2.3"/>
<circle cx="221.00" cy="469.20" r="2.05" fill="none" stroke="#000" stroke-width="2.3"/>
<circle cx="221.00" cy="479.00" r="2.05" fill="none" stroke="#000" stroke-width="2.3"/>
<line x1="267.75" y1="420.30" x2="267.75" y2="411.30" stroke="#a00000" stroke-width="1.7" />
<line x1="259.95" y1="411.30" x2="275.55" y2="411.30" stroke="#a00000" stroke-width="1.7" />
<path d="M253.95,522.00 L253.95,422.00 L281.55,422.00 L281.55,522.00" fill="none" stroke="#a00000" stroke-width="3.4"/>
<circle cx="268.00" cy="407.50" r="2.05" fill="none" stroke="#a00000" stroke-width="2.3"/>
<circle cx="268.00" cy="414.00" r="2.05" fill="none" stroke="#a00000" stroke-width="2.3"/>
<circle cx="268.00" cy="419.30" r="2.05" fill="none" stroke="#a00000" stroke-width="2.3"/>
<circle cx="263.70" cy="431.00" r="2.05" fill="none" stroke="#a00000" stroke-width="2.3"/>
<circle cx="272.10" cy="429.10" r="2.05" fill="none" stroke="#a00000" stroke-width="2.3"/>
<circle cx="268.00" cy="440.40" r="2.05" fill="none" stroke="#a00000" stroke-width="2.3"/>
<line x1="345.90" y1="410.90" x2="345.90" y2="398.70" stroke="#000" stroke-width="1.7" />
<line x1="338.10" y1="398.70" x2="353.70" y2="398.70" stroke="#000" stroke-width="1.7" />
<path d="M332.10,522.00 L332.10,412.60 L359.70,412.60 L359.70,522.00" fill="none" stroke="#000" stroke-width="3.4"/>
<circle cx="345.80" cy="393.80" r="2.05" fill="none" stroke="#000" stroke-width="2.3"/>
<circle cx="345.80" cy="400.90" r="2.05" fill="none" stroke="#000" stroke-width="2.3"/>
<circle cx="345.80" cy="418.80" r="2.05" fill="none" stroke="#000" stroke-width="2.3"/>
<circle cx="345.80" cy="447.00" r="2.05" fill="none" stroke="#000" stroke-width="2.3"/>
<circle cx="345.80" cy="445.00" r="2.05" fill="none" stroke="#000" stroke-width="2.3"/>
<line x1="392.50" y1="392.50" x2="392.50" y2="389.00" stroke="#a00000" stroke-width="1.7" />
<line x1="384.70" y1="389.00" x2="400.30" y2="389.00" stroke="#a00000" stroke-width="1.7" />
<path d="M378.70,522.00 L378.70,394.20 L406.30,394.20 L406.30,522.00" fill="none" stroke="#a00000" stroke-width="3.4"/>
<circle cx="378.90" cy="387.20" r="2.05" fill="none" stroke="#a00000" stroke-width="2.3"/>
<circle cx="388.70" cy="388.70" r="2.05" fill="none" stroke="#a00000" stroke-width="2.3"/>
<circle cx="397.10" cy="387.40" r="2.05" fill="none" stroke="#a00000" stroke-width="2.3"/>
<circle cx="406.50" cy="385.90" r="2.05" fill="none" stroke="#a00000" stroke-width="2.3"/>
<circle cx="388.70" cy="408.10" r="2.05" fill="none" stroke="#a00000" stroke-width="2.3"/>
<circle cx="397.10" cy="408.10" r="2.05" fill="none" stroke="#a00000" stroke-width="2.3"/>
<line x1="470.65" y1="391.50" x2="470.65" y2="384.70" stroke="#000" stroke-width="1.7" />
<line x1="462.85" y1="384.70" x2="478.45" y2="384.70" stroke="#000" stroke-width="1.7" />
<path d="M456.85,522.00 L456.85,393.20 L484.45,393.20 L484.45,522.00" fill="none" stroke="#000" stroke-width="3.4"/>
<circle cx="470.40" cy="383.70" r="2.05" fill="none" stroke="#000" stroke-width="2.3"/>
<circle cx="470.40" cy="387.60" r="2.05" fill="none" stroke="#000" stroke-width="2.3"/>
<circle cx="470.40" cy="391.00" r="2.05" fill="none" stroke="#000" stroke-width="2.3"/>
<circle cx="470.40" cy="403.50" r="2.05" fill="none" stroke="#000" stroke-width="2.3"/>
<circle cx="470.40" cy="406.00" r="2.05" fill="none" stroke="#000" stroke-width="2.3"/>
<line x1="517.25" y1="360.30" x2="517.25" y2="352.10" stroke="#a00000" stroke-width="1.7" />
<line x1="509.45" y1="352.10" x2="525.05" y2="352.10" stroke="#a00000" stroke-width="1.7" />
<path d="M503.45,522.00 L503.45,362.00 L531.05,362.00 L531.05,522.00" fill="none" stroke="#a00000" stroke-width="3.4"/>
<circle cx="503.60" cy="353.50" r="2.05" fill="none" stroke="#a00000" stroke-width="2.3"/>
<circle cx="513.30" cy="356.40" r="2.05" fill="none" stroke="#a00000" stroke-width="2.3"/>
<circle cx="521.50" cy="354.40" r="2.05" fill="none" stroke="#a00000" stroke-width="2.3"/>
<circle cx="530.90" cy="352.90" r="2.05" fill="none" stroke="#a00000" stroke-width="2.3"/>
<circle cx="512.70" cy="380.80" r="2.05" fill="none" stroke="#a00000" stroke-width="2.3"/>
<circle cx="521.50" cy="378.40" r="2.05" fill="none" stroke="#a00000" stroke-width="2.3"/>
<line x1="595.40" y1="364.20" x2="595.40" y2="358.70" stroke="#000" stroke-width="1.7" />
<line x1="587.60" y1="358.70" x2="603.20" y2="358.70" stroke="#000" stroke-width="1.7" />
<path d="M581.60,522.00 L581.60,365.90 L609.20,365.90 L609.20,522.00" fill="none" stroke="#000" stroke-width="3.4"/>
<circle cx="595.30" cy="359.30" r="2.05" fill="none" stroke="#000" stroke-width="2.3"/>
<circle cx="595.30" cy="362.20" r="2.05" fill="none" stroke="#000" stroke-width="2.3"/>
<circle cx="595.30" cy="365.00" r="2.05" fill="none" stroke="#000" stroke-width="2.3"/>
<circle cx="595.30" cy="374.30" r="2.05" fill="none" stroke="#000" stroke-width="2.3"/>
<line x1="642.00" y1="348.60" x2="642.00" y2="348.00" stroke="#a00000" stroke-width="1.7" />
<line x1="634.20" y1="348.00" x2="649.80" y2="348.00" stroke="#a00000" stroke-width="1.7" />
<path d="M628.20,522.00 L628.20,350.30 L655.80,350.30 L655.80,522.00" fill="none" stroke="#a00000" stroke-width="3.4"/>
<circle cx="628.50" cy="349.50" r="2.05" fill="none" stroke="#a00000" stroke-width="2.3"/>
<circle cx="641.60" cy="345.60" r="2.05" fill="none" stroke="#a00000" stroke-width="2.3"/>
<circle cx="634.80" cy="354.00" r="2.05" fill="none" stroke="#a00000" stroke-width="2.3"/>
<circle cx="641.60" cy="354.40" r="2.05" fill="none" stroke="#a00000" stroke-width="2.3"/>
<circle cx="648.40" cy="354.00" r="2.05" fill="none" stroke="#a00000" stroke-width="2.3"/>
<circle cx="655.80" cy="350.00" r="2.05" fill="none" stroke="#a00000" stroke-width="2.3"/>
<text transform="translate(84.50,405.80) scale(1,1.07)" font-size="22.1"><tspan font-style="italic">P</tspan> = 0.0022</text>
<path d="M93.00,422.00 L93.00,416.40 L145.50,416.40 L145.50,422.00" fill="none" stroke="#000" stroke-width="2.4"/>
<text transform="translate(211.70,382.50) scale(1,1.07)" font-size="22.1"><tspan font-style="italic">P</tspan> = 0.0022</text>
<path d="M220.30,398.10 L220.30,392.50 L272.70,392.50 L272.70,398.10" fill="none" stroke="#000" stroke-width="2.4"/>
<text transform="translate(340.80,356.10) scale(1,1.07)" font-size="22.1"><tspan font-style="italic">P</tspan> = 0.026</text>
<path d="M345.70,371.80 L345.70,366.20 L398.50,366.20 L398.50,371.80" fill="none" stroke="#000" stroke-width="2.4"/>
<text transform="translate(460.70,327.40) scale(1,1.07)" font-size="22.1"><tspan font-style="italic">P</tspan> = 0.0022</text>
<path d="M468.10,342.90 L468.10,337.30 L520.50,337.30 L520.50,342.90" fill="none" stroke="#000" stroke-width="2.4"/>
<text transform="translate(583.70,317.30) scale(1,1.07)" font-size="22.1"><tspan font-style="italic">P</tspan> = 0.0022</text>
<path d="M592.10,333.10 L592.10,327.50 L644.50,327.50 L644.50,333.10" fill="none" stroke="#000" stroke-width="2.4"/>
<text transform="translate(19.00,490.90) rotate(-90)" font-size="22.0">log<tspan font-size="14" dy="6.5">10</tspan><tspan dy="-6.5">(PFU ml<tspan font-size="15" dy="-9">−1</tspan><tspan dy="9">)</tspan></tspan></text>
<text x="711.00" y="292.30" font-size="33.5" text-anchor="start" font-weight="bold" font-style="normal" fill="#000"  stroke="#000" stroke-width="1.0">c</text>
<rect x="795.10" y="281.50" width="19.2" height="11.2" fill="none" stroke="#000" stroke-width="3.8"/>
<text transform="translate(823.20,295.10) scale(1,1.04)" font-size="22.4" text-anchor="start" font-weight="normal" font-style="normal" fill="#000" >D614</text>
<rect x="904.60" y="281.50" width="19.2" height="11.2" fill="none" stroke="#a00000" stroke-width="3.8"/>
<text transform="translate(933.20,295.10) scale(1,1.04)" font-size="22.4" text-anchor="start" font-weight="normal" font-style="normal" fill="#000" >G614</text>
<line x1="788.70" y1="308.20" x2="788.70" y2="523.00" stroke="#000" stroke-width="2.3" stroke-linecap="butt"/>
<line x1="779.70" y1="521.80" x2="788.70" y2="521.80" stroke="#000" stroke-width="2.6" />
<text transform="translate(776.70,529.80) scale(1,1.08)" font-size="21.5" text-anchor="end" font-weight="normal" font-style="normal" fill="#000" >6</text>
<line x1="779.70" y1="468.70" x2="788.70" y2="468.70" stroke="#000" stroke-width="2.6" />
<text transform="translate(776.70,476.70) scale(1,1.08)" font-size="21.5" text-anchor="end" font-weight="normal" font-style="normal" fill="#000" >7</text>
<line x1="779.70" y1="415.60" x2="788.70" y2="415.60" stroke="#000" stroke-width="2.6" />
<text transform="translate(776.70,423.60) scale(1,1.08)" font-size="21.5" text-anchor="end" font-weight="normal" font-style="normal" fill="#000" >8</text>
<line x1="779.70" y1="362.50" x2="788.70" y2="362.50" stroke="#000" stroke-width="2.6" />
<text transform="translate(776.70,370.50) scale(1,1.08)" font-size="21.5" text-anchor="end" font-weight="normal" font-style="normal" fill="#000" >9</text>
<line x1="779.70" y1="309.40" x2="788.70" y2="309.40" stroke="#000" stroke-width="2.6" />
<text transform="translate(776.70,317.40) scale(1,1.08)" font-size="21.5" text-anchor="end" font-weight="normal" font-style="normal" fill="#000" >10</text>
<line x1="779.70" y1="521.80" x2="1383.00" y2="521.80" stroke="#000" stroke-width="2.6" />
<line x1="842.00" y1="521.80" x2="842.00" y2="530.80" stroke="#000" stroke-width="2.6" />
<text transform="translate(842.00,552.80) scale(1,1.04)" font-size="21.5" text-anchor="middle" font-weight="normal" font-style="normal" fill="#000" >1</text>
<line x1="963.20" y1="521.80" x2="963.20" y2="530.80" stroke="#000" stroke-width="2.6" />
<text transform="translate(963.20,552.80) scale(1,1.04)" font-size="21.5" text-anchor="middle" font-weight="normal" font-style="normal" fill="#000" >2</text>
<line x1="1084.40" y1="521.80" x2="1084.40" y2="530.80" stroke="#000" stroke-width="2.6" />
<text transform="translate(1084.40,552.80) scale(1,1.04)" font-size="21.5" text-anchor="middle" font-weight="normal" font-style="normal" fill="#000" >3</text>
<line x1="1205.60" y1="521.80" x2="1205.60" y2="530.80" stroke="#000" stroke-width="2.6" />
<text transform="translate(1205.60,552.80) scale(1,1.04)" font-size="21.5" text-anchor="middle" font-weight="normal" font-style="normal" fill="#000" >4</text>
<line x1="1326.80" y1="521.80" x2="1326.80" y2="530.80" stroke="#000" stroke-width="2.6" />
<text transform="translate(1326.80,552.80) scale(1,1.04)" font-size="21.5" text-anchor="middle" font-weight="normal" font-style="normal" fill="#000" >5</text>
<text x="727.40" y="552.80" font-size="23.3" text-anchor="start" font-weight="normal" font-style="normal" fill="#000" >dpi</text>
<line x1="819.70" y1="437.50" x2="819.70" y2="426.40" stroke="#000" stroke-width="1.7" />
<line x1="811.90" y1="426.40" x2="827.50" y2="426.40" stroke="#000" stroke-width="1.7" />
<path d="M805.90,521.80 L805.90,439.20 L833.50,439.20 L833.50,521.80" fill="none" stroke="#000" stroke-width="3.4"/>
<circle cx="819.40" cy="420.00" r="2.05" fill="none" stroke="#000" stroke-width="2.3"/>
<circle cx="819.40" cy="435.50" r="2.05" fill="none" stroke="#000" stroke-width="2.3"/>
<circle cx="819.40" cy="440.50" r="2.05" fill="none" stroke="#000" stroke-width="2.3"/>
<circle cx="819.40" cy="446.60" r="2.05" fill="none" stroke="#000" stroke-width="2.3"/>
<circle cx="819.40" cy="460.10" r="2.05" fill="none" stroke="#000" stroke-width="2.3"/>
<line x1="864.90" y1="431.00" x2="864.90" y2="415.90" stroke="#a00000" stroke-width="1.7" />
<line x1="857.10" y1="415.90" x2="872.70" y2="415.90" stroke="#a00000" stroke-width="1.7" />
<path d="M851.10,521.80 L851.10,432.70 L878.70,432.70 L878.70,521.80" fill="none" stroke="#a00000" stroke-width="3.4"/>
<circle cx="860.30" cy="414.30" r="2.05" fill="none" stroke="#a00000" stroke-width="2.3"/>
<circle cx="869.40" cy="413.90" r="2.05" fill="none" stroke="#a00000" stroke-width="2.3"/>
<circle cx="865.00" cy="440.90" r="2.05" fill="none" stroke="#a00000" stroke-width="2.3"/>
<circle cx="865.00" cy="449.60" r="2.05" fill="none" stroke="#a00000" stroke-width="2.3"/>
<circle cx="860.30" cy="454.60" r="2.05" fill="none" stroke="#a00000" stroke-width="2.3"/>
<circle cx="869.40" cy="454.00" r="2.05" fill="none" stroke="#a00000" stroke-width="2.3"/>
<line x1="940.90" y1="427.50" x2="940.90" y2="417.30" stroke="#000" stroke-width="1.7" />
<line x1="933.10" y1="417.30" x2="948.70" y2="417.30" stroke="#000" stroke-width="1.7" />
<path d="M927.10,521.80 L927.10,429.20 L954.70,429.20 L954.70,521.80" fill="none" stroke="#000" stroke-width="3.4"/>
<circle cx="940.70" cy="411.00" r="2.05" fill="none" stroke="#000" stroke-width="2.3"/>
<circle cx="940.70" cy="427.50" r="2.05" fill="none" stroke="#000" stroke-width="2.3"/>
<circle cx="940.70" cy="434.90" r="2.05" fill="none" stroke="#000" stroke-width="2.3"/>
<circle cx="940.70" cy="451.40" r="2.05" fill="none" stroke="#000" stroke-width="2.3"/>
<line x1="986.10" y1="411.40" x2="986.10" y2="401.80" stroke="#a00000" stroke-width="1.7" />
<line x1="978.30" y1="401.80" x2="993.90" y2="401.80" stroke="#a00000" stroke-width="1.7" />
<path d="M972.30,521.80 L972.30,413.10 L999.90,413.10 L999.90,521.80" fill="none" stroke="#a00000" stroke-width="3.4"/>
<circle cx="977.30" cy="402.30" r="2.05" fill="none" stroke="#a00000" stroke-width="2.3"/>
<circle cx="986.20" cy="405.70" r="2.05" fill="none" stroke="#a00000" stroke-width="2.3"/>
<circle cx="995.00" cy="404.00" r="2.05" fill="none" stroke="#a00000" stroke-width="2.3"/>
<circle cx="986.20" cy="409.00" r="2.05" fill="none" stroke="#a00000" stroke-width="2.3"/>
<circle cx="981.90" cy="430.90" r="2.05" fill="none" stroke="#a00000" stroke-width="2.3"/>
<circle cx="990.40" cy="428.70" r="2.05" fill="none" stroke="#a00000" stroke-width="2.3"/>
<line x1="1062.10" y1="381.30" x2="1062.10" y2="366.50" stroke="#000" stroke-width="1.7" />
<line x1="1054.30" y1="366.50" x2="1069.90" y2="366.50" stroke="#000" stroke-width="1.7" />
<path d="M1048.30,521.80 L1048.30,383.00 L1075.90,383.00 L1075.90,521.80" fill="none" stroke="#000" stroke-width="3.4"/>
<circle cx="1061.90" cy="359.80" r="2.05" fill="none" stroke="#000" stroke-width="2.3"/>
<circle cx="1061.90" cy="368.20" r="2.05" fill="none" stroke="#000" stroke-width="2.3"/>
<circle cx="1061.90" cy="392.20" r="2.05" fill="none" stroke="#000" stroke-width="2.3"/>
<circle cx="1061.90" cy="396.80" r="2.05" fill="none" stroke="#000" stroke-width="2.3"/>
<circle cx="1061.90" cy="401.80" r="2.05" fill="none" stroke="#000" stroke-width="2.3"/>
<circle cx="1061.90" cy="409.90" r="2.05" fill="none" stroke="#000" stroke-width="2.3"/>
<line x1="1107.30" y1="371.50" x2="1107.30" y2="356.70" stroke="#a00000" stroke-width="1.7" />
<line x1="1099.50" y1="356.70" x2="1115.10" y2="356.70" stroke="#a00000" stroke-width="1.7" />
<path d="M1093.50,521.80 L1093.50,373.20 L1121.10,373.20 L1121.10,521.80" fill="none" stroke="#a00000" stroke-width="3.4"/>
<circle cx="1107.60" cy="348.50" r="2.05" fill="none" stroke="#a00000" stroke-width="2.3"/>
<circle cx="1107.60" cy="369.00" r="2.05" fill="none" stroke="#a00000" stroke-width="2.3"/>
<circle cx="1107.60" cy="375.70" r="2.05" fill="none" stroke="#a00000" stroke-width="2.3"/>
<circle cx="1107.60" cy="380.00" r="2.05" fill="none" stroke="#a00000" stroke-width="2.3"/>
<circle cx="1107.60" cy="389.50" r="2.05" fill="none" stroke="#a00000" stroke-width="2.3"/>
<circle cx="1107.60" cy="402.60" r="2.05" fill="none" stroke="#a00000" stroke-width="2.3"/>
<line x1="1183.30" y1="339.20" x2="1183.30" y2="325.70" stroke="#000" stroke-width="1.7" />
<line x1="1175.50" y1="325.70" x2="1191.10" y2="325.70" stroke="#000" stroke-width="1.7" />
<path d="M1169.50,521.80 L1169.50,340.90 L1197.10,340.90 L1197.10,521.80" fill="none" stroke="#000" stroke-width="3.4"/>
<circle cx="1183.40" cy="323.40" r="2.05" fill="none" stroke="#000" stroke-width="2.3"/>
<circle cx="1183.40" cy="326.90" r="2.05" fill="none" stroke="#000" stroke-width="2.3"/>
<circle cx="1183.40" cy="330.10" r="2.05" fill="none" stroke="#000" stroke-width="2.3"/>
<circle cx="1183.40" cy="350.60" r="2.05" fill="none" stroke="#000" stroke-width="2.3"/>
<circle cx="1183.40" cy="371.20" r="2.05" fill="none" stroke="#000" stroke-width="2.3"/>
<circle cx="1183.40" cy="374.30" r="2.05" fill="none" stroke="#000" stroke-width="2.3"/>
<line x1="1228.50" y1="328.70" x2="1228.50" y2="320.80" stroke="#a00000" stroke-width="1.7" />
<line x1="1220.70" y1="320.80" x2="1236.30" y2="320.80" stroke="#a00000" stroke-width="1.7" />
<path d="M1214.70,521.80 L1214.70,330.40 L1242.30,330.40 L1242.30,521.80" fill="none" stroke="#a00000" stroke-width="3.4"/>
<circle cx="1220.00" cy="318.50" r="2.05" fill="none" stroke="#a00000" stroke-width="2.3"/>
<circle cx="1229.10" cy="324.60" r="2.05" fill="none" stroke="#a00000" stroke-width="2.3"/>
<circle cx="1237.50" cy="322.20" r="2.05" fill="none" stroke="#a00000" stroke-width="2.3"/>
<circle cx="1229.10" cy="332.20" r="2.05" fill="none" stroke="#a00000" stroke-width="2.3"/>
<circle cx="1229.10" cy="337.10" r="2.05" fill="none" stroke="#a00000" stroke-width="2.3"/>
<circle cx="1229.10" cy="342.40" r="2.05" fill="none" stroke="#a00000" stroke-width="2.3"/>
<line x1="1304.50" y1="322.50" x2="1304.50" y2="311.40" stroke="#000" stroke-width="1.7" />
<line x1="1296.70" y1="311.40" x2="1312.30" y2="311.40" stroke="#000" stroke-width="1.7" />
<path d="M1290.70,521.80 L1290.70,324.20 L1318.30,324.20 L1318.30,521.80" fill="none" stroke="#000" stroke-width="3.4"/>
<circle cx="1304.60" cy="311.40" r="2.05" fill="none" stroke="#000" stroke-width="2.3"/>
<circle cx="1304.60" cy="315.50" r="2.05" fill="none" stroke="#000" stroke-width="2.3"/>
<circle cx="1304.60" cy="331.60" r="2.05" fill="none" stroke="#000" stroke-width="2.3"/>
<circle cx="1304.60" cy="355.00" r="2.05" fill="none" stroke="#000" stroke-width="2.3"/>
<line x1="1349.70" y1="312.00" x2="1349.70" y2="311.10" stroke="#a00000" stroke-width="1.7" />
<line x1="1341.90" y1="311.10" x2="1357.50" y2="311.10" stroke="#a00000" stroke-width="1.7" />
<path d="M1335.90,521.80 L1335.90,313.70 L1363.50,313.70 L1363.50,521.80" fill="none" stroke="#a00000" stroke-width="3.4"/>
<circle cx="1337.30" cy="311.10" r="2.05" fill="none" stroke="#a00000" stroke-width="2.3"/>
<circle cx="1343.80" cy="313.40" r="2.05" fill="none" stroke="#a00000" stroke-width="2.3"/>
<circle cx="1350.50" cy="313.40" r="2.05" fill="none" stroke="#a00000" stroke-width="2.3"/>
<circle cx="1357.00" cy="313.40" r="2.05" fill="none" stroke="#a00000" stroke-width="2.3"/>
<circle cx="1363.50" cy="312.00" r="2.05" fill="none" stroke="#a00000" stroke-width="2.3"/>
<circle cx="1350.30" cy="322.50" r="2.05" fill="none" stroke="#a00000" stroke-width="2.3"/>
<text transform="translate(733.50,523.90) rotate(-90)" font-size="22.0">log<tspan font-size="14" dy="6.5">10</tspan><tspan dy="-6.5">[genomes (ml<tspan font-size="15" dy="-7">−1</tspan><tspan dy="7">)]</tspan></tspan></text>
<text x="3.50" y="629.50" font-size="33.5" text-anchor="start" font-weight="bold" font-style="normal" fill="#000"  stroke="#000" stroke-width="1.0">d</text>
<rect x="77.20" y="629.50" width="19.2" height="11.2" fill="none" stroke="#000" stroke-width="3.8"/>
<text transform="translate(105.30,643.10) scale(1,1.04)" font-size="22.4" text-anchor="start" font-weight="normal" font-style="normal" fill="#000" >D614</text>
<rect x="186.70" y="629.50" width="19.2" height="11.2" fill="none" stroke="#a00000" stroke-width="3.8"/>
<text transform="translate(215.30,643.10) scale(1,1.04)" font-size="22.4" text-anchor="start" font-weight="normal" font-style="normal" fill="#000" >G614</text>
<line x1="64.10" y1="655.20" x2="64.10" y2="872.50" stroke="#000" stroke-width="2.3" stroke-linecap="butt"/>
<line x1="54.20" y1="871.30" x2="64.10" y2="871.30" stroke="#000" stroke-width="2.6" />
<text transform="translate(49.20,879.30) scale(1,1.08)" font-size="21.5" text-anchor="end" font-weight="normal" font-style="normal" fill="#000" >2</text>
<line x1="54.20" y1="817.57" x2="64.10" y2="817.57" stroke="#000" stroke-width="2.6" />
<text transform="translate(49.20,825.57) scale(1,1.08)" font-size="21.5" text-anchor="end" font-weight="normal" font-style="normal" fill="#000" >3</text>
<line x1="54.20" y1="763.85" x2="64.10" y2="763.85" stroke="#000" stroke-width="2.6" />
<text transform="translate(49.20,771.85) scale(1,1.08)" font-size="21.5" text-anchor="end" font-weight="normal" font-style="normal" fill="#000" >4</text>
<line x1="54.20" y1="710.12" x2="64.10" y2="710.12" stroke="#000" stroke-width="2.6" />
<text transform="translate(49.20,718.12) scale(1,1.08)" font-size="21.5" text-anchor="end" font-weight="normal" font-style="normal" fill="#000" >5</text>
<line x1="54.20" y1="656.40" x2="64.10" y2="656.40" stroke="#000" stroke-width="2.6" />
<text transform="translate(49.20,664.40) scale(1,1.08)" font-size="21.5" text-anchor="end" font-weight="normal" font-style="normal" fill="#000" >6</text>
<line x1="54.20" y1="871.30" x2="667.70" y2="871.30" stroke="#000" stroke-width="2.6" />
<line x1="117.40" y1="871.30" x2="117.40" y2="880.30" stroke="#000" stroke-width="2.6" />
<text transform="translate(117.40,905.70) scale(1,1.04)" font-size="21.5" text-anchor="middle" font-weight="normal" font-style="normal" fill="#000" >1</text>
<line x1="240.85" y1="871.30" x2="240.85" y2="880.30" stroke="#000" stroke-width="2.6" />
<text transform="translate(240.85,905.70) scale(1,1.04)" font-size="21.5" text-anchor="middle" font-weight="normal" font-style="normal" fill="#000" >2</text>
<line x1="364.30" y1="871.30" x2="364.30" y2="880.30" stroke="#000" stroke-width="2.6" />
<text transform="translate(364.30,905.70) scale(1,1.04)" font-size="21.5" text-anchor="middle" font-weight="normal" font-style="normal" fill="#000" >3</text>
<line x1="487.75" y1="871.30" x2="487.75" y2="880.30" stroke="#000" stroke-width="2.6" />
<text transform="translate(487.75,905.70) scale(1,1.04)" font-size="21.5" text-anchor="middle" font-weight="normal" font-style="normal" fill="#000" >4</text>
<line x1="611.20" y1="871.30" x2="611.20" y2="880.30" stroke="#000" stroke-width="2.6" />
<text transform="translate(611.20,905.70) scale(1,1.04)" font-size="21.5" text-anchor="middle" font-weight="normal" font-style="normal" fill="#000" >5</text>
<text x="7.00" y="905.70" font-size="23.3" text-anchor="start" font-weight="normal" font-style="normal" fill="#000" >dpi</text>
<line x1="94.70" y1="741.60" x2="94.70" y2="731.70" stroke="#000" stroke-width="1.7" />
<line x1="86.90" y1="731.70" x2="102.50" y2="731.70" stroke="#000" stroke-width="1.7" />
<path d="M80.90,871.30 L80.90,743.30 L108.50,743.30 L108.50,871.30" fill="none" stroke="#000" stroke-width="3.4"/>
<circle cx="94.70" cy="729.10" r="2.05" fill="none" stroke="#000" stroke-width="2.3"/>
<circle cx="94.70" cy="733.90" r="2.05" fill="none" stroke="#000" stroke-width="2.3"/>
<circle cx="94.70" cy="741.00" r="2.05" fill="none" stroke="#000" stroke-width="2.3"/>
<circle cx="94.70" cy="760.40" r="2.05" fill="none" stroke="#000" stroke-width="2.3"/>
<line x1="140.80" y1="780.80" x2="140.80" y2="770.00" stroke="#a00000" stroke-width="1.7" />
<line x1="133.00" y1="770.00" x2="148.60" y2="770.00" stroke="#a00000" stroke-width="1.7" />
<path d="M127.00,871.30 L127.00,782.50 L154.60,782.50 L154.60,871.30" fill="none" stroke="#a00000" stroke-width="3.4"/>
<circle cx="141.00" cy="763.60" r="2.05" fill="none" stroke="#a00000" stroke-width="2.3"/>
<circle cx="141.00" cy="776.90" r="2.05" fill="none" stroke="#a00000" stroke-width="2.3"/>
<circle cx="130.90" cy="787.70" r="2.05" fill="none" stroke="#a00000" stroke-width="2.3"/>
<circle cx="141.00" cy="793.30" r="2.05" fill="none" stroke="#a00000" stroke-width="2.3"/>
<circle cx="150.70" cy="789.80" r="2.05" fill="none" stroke="#a00000" stroke-width="2.3"/>
<circle cx="141.00" cy="784.00" r="2.05" fill="none" stroke="#a00000" stroke-width="2.3"/>
<line x1="218.15" y1="746.50" x2="218.15" y2="732.40" stroke="#000" stroke-width="1.7" />
<line x1="210.35" y1="732.40" x2="225.95" y2="732.40" stroke="#000" stroke-width="1.7" />
<path d="M204.35,871.30 L204.35,748.20 L231.95,748.20 L231.95,871.30" fill="none" stroke="#000" stroke-width="3.4"/>
<circle cx="218.00" cy="725.50" r="2.05" fill="none" stroke="#000" stroke-width="2.3"/>
<circle cx="218.00" cy="738.30" r="2.05" fill="none" stroke="#000" stroke-width="2.3"/>
<circle cx="218.00" cy="743.20" r="2.05" fill="none" stroke="#000" stroke-width="2.3"/>
<circle cx="218.00" cy="758.90" r="2.05" fill="none" stroke="#000" stroke-width="2.3"/>
<circle cx="218.00" cy="764.90" r="2.05" fill="none" stroke="#000" stroke-width="2.3"/>
<circle cx="218.00" cy="778.50" r="2.05" fill="none" stroke="#000" stroke-width="2.3"/>
<line x1="264.25" y1="783.00" x2="264.25" y2="772.70" stroke="#a00000" stroke-width="1.7" />
<line x1="256.45" y1="772.70" x2="272.05" y2="772.70" stroke="#a00000" stroke-width="1.7" />
<path d="M250.45,871.30 L250.45,784.70 L278.05,784.70 L278.05,871.30" fill="none" stroke="#a00000" stroke-width="3.4"/>
<circle cx="264.10" cy="768.50" r="2.05" fill="none" stroke="#a00000" stroke-width="2.3"/>
<circle cx="259.60" cy="779.00" r="2.05" fill="none" stroke="#a00000" stroke-width="2.3"/>
<circle cx="268.60" cy="777.20" r="2.05" fill="none" stroke="#a00000" stroke-width="2.3"/>
<circle cx="255.40" cy="792.00" r="2.05" fill="none" stroke="#a00000" stroke-width="2.3"/>
<circle cx="264.10" cy="796.50" r="2.05" fill="none" stroke="#a00000" stroke-width="2.3"/>
<circle cx="273.20" cy="793.50" r="2.05" fill="none" stroke="#a00000" stroke-width="2.3"/>
<line x1="341.60" y1="757.30" x2="341.60" y2="741.40" stroke="#000" stroke-width="1.7" />
<line x1="333.80" y1="741.40" x2="349.40" y2="741.40" stroke="#000" stroke-width="1.7" />
<path d="M327.80,871.30 L327.80,759.00 L355.40,759.00 L355.40,871.30" fill="none" stroke="#000" stroke-width="3.4"/>
<circle cx="341.50" cy="733.60" r="2.05" fill="none" stroke="#000" stroke-width="2.3"/>
<circle cx="341.50" cy="749.00" r="2.05" fill="none" stroke="#000" stroke-width="2.3"/>
<circle cx="341.50" cy="768.00" r="2.05" fill="none" stroke="#000" stroke-width="2.3"/>
<circle cx="341.50" cy="773.90" r="2.05" fill="none" stroke="#000" stroke-width="2.3"/>
<circle cx="341.50" cy="784.40" r="2.05" fill="none" stroke="#000" stroke-width="2.3"/>
<line x1="387.70" y1="783.90" x2="387.70" y2="772.70" stroke="#a00000" stroke-width="1.7" />
<line x1="379.90" y1="772.70" x2="395.50" y2="772.70" stroke="#a00000" stroke-width="1.7" />
<path d="M373.90,871.30 L373.90,785.60 L401.50,785.60 L401.50,871.30" fill="none" stroke="#a00000" stroke-width="3.4"/>
<circle cx="387.90" cy="765.80" r="2.05" fill="none" stroke="#a00000" stroke-width="2.3"/>
<circle cx="387.90" cy="780.30" r="2.05" fill="none" stroke="#a00000" stroke-width="2.3"/>
<circle cx="383.40" cy="793.80" r="2.05" fill="none" stroke="#a00000" stroke-width="2.3"/>
<circle cx="392.50" cy="793.50" r="2.05" fill="none" stroke="#a00000" stroke-width="2.3"/>
<circle cx="387.90" cy="799.20" r="2.05" fill="none" stroke="#a00000" stroke-width="2.3"/>
<line x1="465.05" y1="754.60" x2="465.05" y2="744.10" stroke="#000" stroke-width="1.7" />
<line x1="457.25" y1="744.10" x2="472.85" y2="744.10" stroke="#000" stroke-width="1.7" />
<path d="M451.25,871.30 L451.25,756.30 L478.85,756.30 L478.85,871.30" fill="none" stroke="#000" stroke-width="3.4"/>
<circle cx="464.90" cy="739.60" r="2.05" fill="none" stroke="#000" stroke-width="2.3"/>
<circle cx="464.90" cy="749.20" r="2.05" fill="none" stroke="#000" stroke-width="2.3"/>
<circle cx="464.90" cy="765.80" r="2.05" fill="none" stroke="#000" stroke-width="2.3"/>
<circle cx="464.90" cy="770.00" r="2.05" fill="none" stroke="#000" stroke-width="2.3"/>
<line x1="511.15" y1="778.50" x2="511.15" y2="767.60" stroke="#a00000" stroke-width="1.7" />
<line x1="503.35" y1="767.60" x2="518.95" y2="767.60" stroke="#a00000" stroke-width="1.7" />
<path d="M497.35,871.30 L497.35,780.20 L524.95,780.20 L524.95,871.30" fill="none" stroke="#a00000" stroke-width="3.4"/>
<circle cx="506.80" cy="768.50" r="2.05" fill="none" stroke="#a00000" stroke-width="2.3"/>
<circle cx="515.90" cy="766.70" r="2.05" fill="none" stroke="#a00000" stroke-width="2.3"/>
<circle cx="506.80" cy="783.00" r="2.05" fill="none" stroke="#a00000" stroke-width="2.3"/>
<circle cx="515.90" cy="783.00" r="2.05" fill="none" stroke="#a00000" stroke-width="2.3"/>
<circle cx="515.90" cy="787.10" r="2.05" fill="none" stroke="#a00000" stroke-width="2.3"/>
<circle cx="506.80" cy="790.20" r="2.05" fill="none" stroke="#a00000" stroke-width="2.3"/>
<line x1="588.50" y1="770.30" x2="588.50" y2="760.40" stroke="#000" stroke-width="1.7" />
<line x1="580.70" y1="760.40" x2="596.30" y2="760.40" stroke="#000" stroke-width="1.7" />
<path d="M574.70,871.30 L574.70,772.00 L602.30,772.00 L602.30,871.30" fill="none" stroke="#000" stroke-width="3.4"/>
<circle cx="588.20" cy="758.90" r="2.05" fill="none" stroke="#000" stroke-width="2.3"/>
<circle cx="588.20" cy="763.10" r="2.05" fill="none" stroke="#000" stroke-width="2.3"/>
<circle cx="588.20" cy="767.60" r="2.05" fill="none" stroke="#000" stroke-width="2.3"/>
<circle cx="588.20" cy="785.70" r="2.05" fill="none" stroke="#000" stroke-width="2.3"/>
<circle cx="588.20" cy="790.80" r="2.05" fill="none" stroke="#000" stroke-width="2.3"/>
<line x1="634.60" y1="779.70" x2="634.60" y2="773.60" stroke="#a00000" stroke-width="1.7" />
<line x1="626.80" y1="773.60" x2="642.40" y2="773.60" stroke="#a00000" stroke-width="1.7" />
<path d="M620.80,871.30 L620.80,781.40 L648.40,781.40 L648.40,871.30" fill="none" stroke="#a00000" stroke-width="3.4"/>
<circle cx="621.30" cy="777.00" r="2.05" fill="none" stroke="#a00000" stroke-width="2.3"/>
<circle cx="629.70" cy="780.30" r="2.05" fill="none" stroke="#a00000" stroke-width="2.3"/>
<circle cx="634.60" cy="773.40" r="2.05" fill="none" stroke="#a00000" stroke-width="2.3"/>
<circle cx="639.30" cy="777.90" r="2.05" fill="none" stroke="#a00000" stroke-width="2.3"/>
<circle cx="648.20" cy="775.40" r="2.05" fill="none" stroke="#a00000" stroke-width="2.3"/>
<circle cx="634.60" cy="794.40" r="2.05" fill="none" stroke="#a00000" stroke-width="2.3"/>
<text transform="translate(83.20,699.30) scale(1,1.07)" font-size="22.1"><tspan font-style="italic">P</tspan> = 0.0022</text>
<path d="M94.30,714.20 L94.30,708.60 L149.60,708.60 L149.60,714.20" fill="none" stroke="#000" stroke-width="2.4"/>
<text transform="translate(205.60,697.10) scale(1,1.07)" font-size="22.1"><tspan font-style="italic">P</tspan> = 0.0087</text>
<path d="M216.10,713.30 L216.10,707.70 L271.90,707.70 L271.90,713.30" fill="none" stroke="#000" stroke-width="2.4"/>
<text transform="translate(335.80,710.70) scale(1,1.07)" font-size="22.1"><tspan font-style="italic">P</tspan> = 0.041</text>
<path d="M339.40,725.80 L339.40,720.20 L394.60,720.20 L394.60,725.80" fill="none" stroke="#000" stroke-width="2.4"/>
<text transform="translate(454.50,713.90) scale(1,1.07)" font-size="22.1"><tspan font-style="italic">P</tspan> = 0.0087</text>
<path d="M461.90,729.60 L461.90,724.00 L518.00,724.00 L518.00,729.60" fill="none" stroke="#000" stroke-width="2.4"/>
<text transform="translate(19.40,838.80) rotate(-90)" font-size="22.0">log<tspan font-size="14" dy="6.5">10</tspan><tspan dy="-6.5">(RNA/PFU)</tspan></text>
<text x="712.00" y="629.40" font-size="33.5" text-anchor="start" font-weight="bold" font-style="normal" fill="#000"  stroke="#000" stroke-width="1.0">e</text>
<line x1="812.30" y1="629.60" x2="812.30" y2="981.50" stroke="#000" stroke-width="2.3" />
<line x1="811.30" y1="980.50" x2="1347.00" y2="980.50" stroke="#000" stroke-width="2.6" />
<line x1="812.30" y1="938.30" x2="1347.00" y2="938.30" stroke="#000" stroke-width="2.0" />
<line x1="804.60" y1="741.80" x2="812.30" y2="741.80" stroke="#000" stroke-width="2.0" />
<text transform="translate(800.60,749.90) scale(1,1.03)" font-size="21.5" text-anchor="end" font-weight="normal" font-style="normal" fill="#000" >100</text>
<line x1="804.60" y1="839.20" x2="812.30" y2="839.20" stroke="#000" stroke-width="2.0" />
<text transform="translate(800.60,847.30) scale(1,1.03)" font-size="21.5" text-anchor="end" font-weight="normal" font-style="normal" fill="#000" >10</text>
<line x1="804.60" y1="938.30" x2="812.30" y2="938.30" stroke="#000" stroke-width="2.0" />
<text transform="translate(800.60,946.40) scale(1,1.03)" font-size="21.5" text-anchor="end" font-weight="normal" font-style="normal" fill="#000" >1</text>
<line x1="881.00" y1="980.50" x2="881.00" y2="989.50" stroke="#000" stroke-width="2.3" />
<text transform="translate(881.00,1013.80) scale(1,1.04)" font-size="21.5" text-anchor="middle" font-weight="normal" font-style="normal" fill="#000" >1</text>
<line x1="979.95" y1="980.50" x2="979.95" y2="989.50" stroke="#000" stroke-width="2.3" />
<text transform="translate(979.95,1013.80) scale(1,1.04)" font-size="21.5" text-anchor="middle" font-weight="normal" font-style="normal" fill="#000" >2</text>
<line x1="1078.90" y1="980.50" x2="1078.90" y2="989.50" stroke="#000" stroke-width="2.3" />
<text transform="translate(1078.90,1013.80) scale(1,1.04)" font-size="21.5" text-anchor="middle" font-weight="normal" font-style="normal" fill="#000" >3</text>
<line x1="1177.85" y1="980.50" x2="1177.85" y2="989.50" stroke="#000" stroke-width="2.3" />
<text transform="translate(1177.85,1013.80) scale(1,1.04)" font-size="21.5" text-anchor="middle" font-weight="normal" font-style="normal" fill="#000" >4</text>
<line x1="1276.80" y1="980.50" x2="1276.80" y2="989.50" stroke="#000" stroke-width="2.3" />
<text transform="translate(1276.80,1013.80) scale(1,1.04)" font-size="21.5" text-anchor="middle" font-weight="normal" font-style="normal" fill="#000" >5</text>
<text x="765.90" y="1013.80" font-size="23.3" text-anchor="start" font-weight="normal" font-style="normal" fill="#000" >dpi</text>
<text transform="translate(750.00,938.20) rotate(-90)" font-size="22.3" text-anchor="start" >Relative replicative fitness</text>
<text x="1077.30" y="604.30" font-size="22.7" text-anchor="middle" font-weight="normal" font-style="normal" fill="#000" >D614:G614</text>
<text x="1077.30" y="631.60" font-size="22.7" text-anchor="middle" font-weight="normal" font-style="normal" fill="#000" >1:1</text>
<clipPath id="v8810_9165"><path d="M881.30,916.50 L881.37,916.83 L881.45,917.16 L881.54,917.49 L881.66,917.82 L881.79,918.14 L881.95,918.47 L882.13,918.80 L882.34,919.13 L882.57,919.46 L882.85,919.79 L883.15,920.12 L883.50,920.44 L883.88,920.77 L884.31,921.10 L884.78,921.43 L885.30,921.76 L885.87,922.09 L886.47,922.42 L887.13,922.75 L887.83,923.08 L888.56,923.40 L889.34,923.73 L890.14,924.06 L890.97,924.39 L891.83,924.72 L892.69,925.05 L893.56,925.38 L894.42,925.70 L895.28,926.03 L896.10,926.36 L896.89,926.69 L897.64,927.02 L898.34,927.35 L898.97,927.68 L899.53,928.01 L900.01,928.34 L900.40,928.66 L900.69,928.99 L900.89,929.32 L900.99,929.65 L901.00,929.80 L900.98,929.98 L900.87,930.31 L900.66,930.64 L900.34,930.96 L899.92,931.29 L899.41,931.62 L898.82,931.95 L898.16,932.28 L897.44,932.61 L896.66,932.94 L895.83,933.27 L894.98,933.60 L894.10,933.92 L893.21,934.25 L892.32,934.58 L891.44,934.91 L890.58,935.24 L889.74,935.57 L888.93,935.90 L888.16,936.22 L887.43,936.55 L886.74,936.88 L886.10,937.21 L885.50,937.54 L884.96,937.87 L884.46,938.20 L884.01,938.53 L883.60,938.86 L883.24,939.18 L882.91,939.51 L882.63,939.84 L882.38,940.17 L882.16,940.50 L881.97,940.83 L881.81,941.16 L881.67,941.48 L881.55,941.81 L881.45,942.14 L881.37,942.47 L881.30,942.80 L880.70,942.80 L880.63,942.47 L880.55,942.14 L880.45,941.81 L880.33,941.48 L880.19,941.16 L880.03,940.83 L879.84,940.50 L879.62,940.17 L879.37,939.84 L879.09,939.51 L878.76,939.18 L878.40,938.86 L877.99,938.53 L877.54,938.20 L877.04,937.87 L876.50,937.54 L875.90,937.21 L875.26,936.88 L874.57,936.55 L873.84,936.22 L873.07,935.90 L872.26,935.57 L871.42,935.24 L870.56,934.91 L869.68,934.58 L868.79,934.25 L867.90,933.92 L867.02,933.60 L866.17,933.27 L865.34,932.94 L864.56,932.61 L863.84,932.28 L863.18,931.95 L862.59,931.62 L862.08,931.29 L861.66,930.96 L861.34,930.64 L861.13,930.31 L861.02,929.98 L861.00,929.80 L861.01,929.65 L861.11,929.32 L861.31,928.99 L861.60,928.66 L861.99,928.34 L862.47,928.01 L863.03,927.68 L863.66,927.35 L864.36,927.02 L865.11,926.69 L865.90,926.36 L866.72,926.03 L867.58,925.70 L868.44,925.38 L869.31,925.05 L870.17,924.72 L871.03,924.39 L871.86,924.06 L872.66,923.73 L873.44,923.40 L874.17,923.08 L874.87,922.75 L875.53,922.42 L876.13,922.09 L876.70,921.76 L877.22,921.43 L877.69,921.10 L878.12,920.77 L878.50,920.44 L878.85,920.12 L879.15,919.79 L879.43,919.46 L879.66,919.13 L879.87,918.80 L880.05,918.47 L880.21,918.14 L880.34,917.82 L880.46,917.49 L880.55,917.16 L880.63,916.83 L880.70,916.50 Z"/></clipPath>
<rect x="859.00" y="926.50" width="44.00" height="5.50" fill="#cdcdcd" clip-path="url(#v8810_9165)"/>
<clipPath id="v9800_8268"><path d="M980.30,826.80 L980.37,828.19 L980.45,829.58 L980.55,830.98 L980.67,832.37 L980.80,833.76 L980.96,835.15 L981.15,836.55 L981.36,837.94 L981.61,839.33 L981.89,840.72 L982.20,842.12 L982.56,843.51 L982.96,844.90 L983.40,846.29 L983.89,847.69 L984.42,849.08 L985.01,850.47 L985.63,851.87 L986.31,853.26 L987.02,854.65 L987.78,856.04 L988.58,857.43 L989.40,858.83 L990.26,860.22 L991.13,861.61 L992.01,863.00 L992.89,864.40 L993.77,865.79 L994.62,867.18 L995.45,868.58 L996.25,869.97 L996.99,871.36 L997.67,872.75 L998.29,874.14 L998.82,875.54 L999.27,876.93 L999.63,878.32 L999.89,879.72 L1000.05,881.11 L1000.10,882.50 L1000.05,883.89 L999.89,885.28 L999.63,886.68 L999.27,888.07 L998.82,889.46 L998.29,890.86 L997.67,892.25 L996.99,893.64 L996.25,895.03 L995.45,896.42 L994.62,897.82 L993.77,899.21 L992.89,900.60 L992.01,902.00 L991.13,903.39 L990.26,904.78 L989.40,906.17 L988.58,907.57 L987.78,908.96 L987.02,910.35 L986.31,911.74 L985.63,913.13 L985.01,914.53 L984.42,915.92 L983.89,917.31 L983.40,918.71 L982.96,920.10 L982.56,921.49 L982.20,922.88 L981.89,924.28 L981.61,925.67 L981.36,927.06 L981.15,928.45 L980.96,929.85 L980.80,931.24 L980.67,932.63 L980.55,934.02 L980.45,935.42 L980.37,936.81 L980.30,938.20 L979.70,938.20 L979.63,936.81 L979.55,935.42 L979.45,934.02 L979.33,932.63 L979.20,931.24 L979.04,929.85 L978.85,928.45 L978.64,927.06 L978.39,925.67 L978.11,924.28 L977.80,922.88 L977.44,921.49 L977.04,920.10 L976.60,918.71 L976.11,917.31 L975.58,915.92 L974.99,914.53 L974.37,913.13 L973.69,911.74 L972.98,910.35 L972.22,908.96 L971.42,907.57 L970.60,906.17 L969.74,904.78 L968.87,903.39 L967.99,902.00 L967.11,900.60 L966.23,899.21 L965.38,897.82 L964.55,896.42 L963.75,895.03 L963.01,893.64 L962.33,892.25 L961.71,890.86 L961.18,889.46 L960.73,888.07 L960.37,886.68 L960.11,885.28 L959.95,883.89 L959.90,882.50 L959.95,881.11 L960.11,879.72 L960.37,878.32 L960.73,876.93 L961.18,875.54 L961.71,874.14 L962.33,872.75 L963.01,871.36 L963.75,869.97 L964.55,868.58 L965.38,867.18 L966.23,865.79 L967.11,864.40 L967.99,863.00 L968.87,861.61 L969.74,860.22 L970.60,858.83 L971.42,857.43 L972.22,856.04 L972.98,854.65 L973.69,853.26 L974.37,851.87 L974.99,850.47 L975.58,849.08 L976.11,847.69 L976.60,846.29 L977.04,844.90 L977.44,843.51 L977.80,842.12 L978.11,840.72 L978.39,839.33 L978.64,837.94 L978.85,836.55 L979.04,835.15 L979.20,833.76 L979.33,832.37 L979.45,830.98 L979.55,829.58 L979.63,828.19 L979.70,826.80 Z"/></clipPath>
<rect x="957.90" y="864.60" width="44.20" height="34.90" fill="#cdcdcd" clip-path="url(#v9800_8268)"/>
<clipPath id="v10790_7835"><path d="M1079.30,783.50 L1079.37,785.11 L1079.45,786.72 L1079.55,788.32 L1079.66,789.93 L1079.80,791.54 L1079.96,793.14 L1080.14,794.75 L1080.35,796.36 L1080.59,797.97 L1080.87,799.58 L1081.18,801.18 L1081.53,802.79 L1081.93,804.40 L1082.36,806.00 L1082.85,807.61 L1083.37,809.22 L1083.95,810.83 L1084.57,812.43 L1085.24,814.04 L1085.94,815.65 L1086.69,817.26 L1087.48,818.87 L1088.30,820.47 L1089.14,822.08 L1090.00,823.69 L1090.88,825.29 L1091.75,826.90 L1092.62,828.51 L1093.48,830.12 L1094.30,831.73 L1095.09,833.33 L1095.83,834.94 L1096.52,836.55 L1097.13,838.15 L1097.67,839.76 L1098.13,841.37 L1098.50,842.98 L1098.77,844.59 L1098.93,846.19 L1099.00,847.80 L1099.00,848.00 L1098.96,849.41 L1098.81,851.01 L1098.57,852.62 L1098.22,854.23 L1097.78,855.84 L1097.25,857.45 L1096.65,859.05 L1095.97,860.66 L1095.24,862.27 L1094.45,863.88 L1093.63,865.48 L1092.77,867.09 L1091.90,868.70 L1091.02,870.31 L1090.14,871.91 L1089.27,873.52 L1088.42,875.13 L1087.59,876.74 L1086.80,878.34 L1086.04,879.95 L1085.32,881.56 L1084.64,883.16 L1084.01,884.77 L1083.43,886.38 L1082.89,887.99 L1082.40,889.60 L1081.96,891.20 L1081.56,892.81 L1081.20,894.42 L1080.89,896.02 L1080.61,897.63 L1080.36,899.24 L1080.15,900.85 L1079.96,902.46 L1079.80,904.06 L1079.67,905.67 L1079.55,907.28 L1079.45,908.88 L1079.37,910.49 L1079.30,912.10 L1078.70,912.10 L1078.63,910.49 L1078.55,908.88 L1078.45,907.28 L1078.33,905.67 L1078.20,904.06 L1078.04,902.46 L1077.85,900.85 L1077.64,899.24 L1077.39,897.63 L1077.11,896.02 L1076.80,894.42 L1076.44,892.81 L1076.04,891.20 L1075.60,889.60 L1075.11,887.99 L1074.57,886.38 L1073.99,884.77 L1073.36,883.16 L1072.68,881.56 L1071.96,879.95 L1071.20,878.34 L1070.41,876.74 L1069.58,875.13 L1068.73,873.52 L1067.86,871.91 L1066.98,870.31 L1066.10,868.70 L1065.23,867.09 L1064.37,865.48 L1063.55,863.88 L1062.76,862.27 L1062.03,860.66 L1061.35,859.05 L1060.75,857.45 L1060.22,855.84 L1059.78,854.23 L1059.43,852.62 L1059.19,851.01 L1059.04,849.41 L1059.00,848.00 L1059.00,847.80 L1059.07,846.19 L1059.23,844.59 L1059.50,842.98 L1059.87,841.37 L1060.33,839.76 L1060.87,838.15 L1061.48,836.55 L1062.17,834.94 L1062.91,833.33 L1063.70,831.73 L1064.52,830.12 L1065.38,828.51 L1066.25,826.90 L1067.12,825.29 L1068.00,823.69 L1068.86,822.08 L1069.70,820.47 L1070.52,818.87 L1071.31,817.26 L1072.06,815.65 L1072.76,814.04 L1073.43,812.43 L1074.05,810.83 L1074.63,809.22 L1075.15,807.61 L1075.64,806.00 L1076.07,804.40 L1076.47,802.79 L1076.82,801.18 L1077.13,799.58 L1077.41,797.97 L1077.65,796.36 L1077.86,794.75 L1078.04,793.14 L1078.20,791.54 L1078.34,789.93 L1078.45,788.32 L1078.55,786.72 L1078.63,785.11 L1078.70,783.50 Z"/></clipPath>
<rect x="1057.00" y="827.30" width="44.00" height="40.90" fill="#cdcdcd" clip-path="url(#v10790_7835)"/>
<clipPath id="v11777_7753"><path d="M1178.00,775.30 L1178.07,777.04 L1178.15,778.78 L1178.25,780.52 L1178.36,782.26 L1178.50,784.00 L1178.65,785.74 L1178.84,787.48 L1179.05,789.22 L1179.29,790.96 L1179.56,792.70 L1179.87,794.44 L1180.22,796.18 L1180.61,797.92 L1181.05,799.66 L1181.52,801.40 L1182.05,803.14 L1182.62,804.88 L1183.23,806.62 L1183.89,808.36 L1184.60,810.10 L1185.34,811.84 L1186.13,813.58 L1186.94,815.32 L1187.78,817.06 L1188.64,818.80 L1189.51,820.54 L1190.39,822.28 L1191.26,824.02 L1192.11,825.76 L1192.95,827.50 L1193.74,829.24 L1194.49,830.98 L1195.19,832.72 L1195.81,834.46 L1196.37,836.20 L1196.84,837.94 L1197.23,839.68 L1197.52,841.42 L1197.71,843.16 L1197.79,844.90 L1197.80,845.50 L1197.78,846.64 L1197.65,848.38 L1197.42,850.12 L1197.09,851.86 L1196.67,853.60 L1196.15,855.34 L1195.55,857.08 L1194.88,858.82 L1194.15,860.56 L1193.37,862.30 L1192.54,864.04 L1191.68,865.78 L1190.80,867.52 L1189.91,869.26 L1189.02,871.00 L1188.14,872.74 L1187.27,874.48 L1186.43,876.22 L1185.63,877.96 L1184.85,879.70 L1184.12,881.44 L1183.44,883.18 L1182.79,884.92 L1182.20,886.66 L1181.66,888.40 L1181.16,890.14 L1180.71,891.88 L1180.30,893.62 L1179.94,895.36 L1179.61,897.10 L1179.33,898.84 L1179.08,900.58 L1178.86,902.32 L1178.67,904.06 L1178.51,905.80 L1178.37,907.54 L1178.25,909.28 L1178.15,911.02 L1178.07,912.76 L1178.00,914.50 L1177.40,914.50 L1177.33,912.76 L1177.25,911.02 L1177.15,909.28 L1177.03,907.54 L1176.89,905.80 L1176.73,904.06 L1176.54,902.32 L1176.32,900.58 L1176.07,898.84 L1175.79,897.10 L1175.46,895.36 L1175.10,893.62 L1174.69,891.88 L1174.24,890.14 L1173.74,888.40 L1173.20,886.66 L1172.61,884.92 L1171.96,883.18 L1171.28,881.44 L1170.55,879.70 L1169.77,877.96 L1168.97,876.22 L1168.13,874.48 L1167.26,872.74 L1166.38,871.00 L1165.49,869.26 L1164.60,867.52 L1163.72,865.78 L1162.86,864.04 L1162.03,862.30 L1161.25,860.56 L1160.52,858.82 L1159.85,857.08 L1159.25,855.34 L1158.73,853.60 L1158.31,851.86 L1157.98,850.12 L1157.75,848.38 L1157.62,846.64 L1157.60,845.50 L1157.61,844.90 L1157.69,843.16 L1157.88,841.42 L1158.17,839.68 L1158.56,837.94 L1159.03,836.20 L1159.59,834.46 L1160.21,832.72 L1160.91,830.98 L1161.66,829.24 L1162.45,827.50 L1163.29,825.76 L1164.14,824.02 L1165.01,822.28 L1165.89,820.54 L1166.76,818.80 L1167.62,817.06 L1168.46,815.32 L1169.27,813.58 L1170.06,811.84 L1170.80,810.10 L1171.51,808.36 L1172.17,806.62 L1172.78,804.88 L1173.35,803.14 L1173.88,801.40 L1174.35,799.66 L1174.79,797.92 L1175.18,796.18 L1175.53,794.44 L1175.84,792.70 L1176.11,790.96 L1176.35,789.22 L1176.56,787.48 L1176.75,785.74 L1176.90,784.00 L1177.04,782.26 L1177.15,780.52 L1177.25,778.78 L1177.33,777.04 L1177.40,775.30 Z"/></clipPath>
<rect x="1155.60" y="823.10" width="44.20" height="45.10" fill="#cdcdcd" clip-path="url(#v11777_7753)"/>
<clipPath id="v12767_7338"><path d="M1276.99,733.80 L1277.06,736.11 L1277.14,738.42 L1277.24,740.73 L1277.36,743.03 L1277.49,745.34 L1277.65,747.65 L1277.83,749.96 L1278.04,752.27 L1278.28,754.58 L1278.56,756.89 L1278.87,759.20 L1279.23,761.50 L1279.62,763.81 L1280.06,766.12 L1280.54,768.43 L1281.07,770.74 L1281.64,773.05 L1282.27,775.36 L1282.93,777.67 L1283.64,779.97 L1284.39,782.28 L1285.17,784.59 L1285.99,786.90 L1286.83,789.21 L1287.69,791.52 L1288.56,793.83 L1289.42,796.14 L1290.28,798.44 L1291.12,800.75 L1291.94,803.06 L1292.71,805.37 L1293.43,807.68 L1294.10,809.99 L1294.69,812.30 L1295.21,814.61 L1295.64,816.91 L1295.98,819.22 L1296.22,821.53 L1296.36,823.84 L1296.40,825.80 L1296.40,826.15 L1296.33,828.46 L1296.16,830.77 L1295.90,833.08 L1295.53,835.38 L1295.08,837.69 L1294.55,840.00 L1293.94,842.31 L1293.27,844.62 L1292.53,846.93 L1291.76,849.24 L1290.94,851.55 L1290.10,853.86 L1289.25,856.16 L1288.38,858.47 L1287.52,860.78 L1286.68,863.09 L1285.85,865.40 L1285.04,867.71 L1284.27,870.02 L1283.53,872.33 L1282.83,874.63 L1282.18,876.94 L1281.57,879.25 L1281.00,881.56 L1280.48,883.87 L1280.01,886.18 L1279.58,888.49 L1279.19,890.79 L1278.85,893.10 L1278.54,895.41 L1278.27,897.72 L1278.03,900.03 L1277.82,902.34 L1277.64,904.65 L1277.48,906.96 L1277.35,909.26 L1277.24,911.57 L1277.14,913.88 L1277.06,916.19 L1276.99,918.50 L1276.41,918.50 L1276.34,916.19 L1276.26,913.88 L1276.16,911.57 L1276.05,909.26 L1275.92,906.96 L1275.76,904.65 L1275.58,902.34 L1275.37,900.03 L1275.13,897.72 L1274.86,895.41 L1274.55,893.10 L1274.21,890.79 L1273.82,888.49 L1273.39,886.18 L1272.92,883.87 L1272.40,881.56 L1271.83,879.25 L1271.22,876.94 L1270.57,874.63 L1269.87,872.33 L1269.13,870.02 L1268.36,867.71 L1267.55,865.40 L1266.72,863.09 L1265.88,860.78 L1265.02,858.47 L1264.15,856.16 L1263.30,853.86 L1262.46,851.55 L1261.64,849.24 L1260.87,846.93 L1260.13,844.62 L1259.46,842.31 L1258.85,840.00 L1258.32,837.69 L1257.87,835.38 L1257.50,833.08 L1257.24,830.77 L1257.07,828.46 L1257.00,826.15 L1257.00,825.80 L1257.04,823.84 L1257.18,821.53 L1257.42,819.22 L1257.76,816.91 L1258.19,814.61 L1258.71,812.30 L1259.30,809.99 L1259.97,807.68 L1260.69,805.37 L1261.46,803.06 L1262.28,800.75 L1263.12,798.44 L1263.98,796.14 L1264.84,793.83 L1265.71,791.52 L1266.57,789.21 L1267.41,786.90 L1268.23,784.59 L1269.01,782.28 L1269.76,779.97 L1270.47,777.67 L1271.13,775.36 L1271.76,773.05 L1272.33,770.74 L1272.86,768.43 L1273.34,766.12 L1273.78,763.81 L1274.17,761.50 L1274.53,759.20 L1274.84,756.89 L1275.12,754.58 L1275.36,752.27 L1275.57,749.96 L1275.75,747.65 L1275.91,745.34 L1276.04,743.03 L1276.16,740.73 L1276.26,738.42 L1276.34,736.11 L1276.41,733.80 Z"/></clipPath>
<rect x="1255.00" y="796.50" width="43.40" height="59.00" fill="#cdcdcd" clip-path="url(#v12767_7338)"/>
<circle cx="895.90" cy="913.40" r="2.2" fill="none" stroke="#f00000" stroke-width="1.8"/>
<circle cx="900.20" cy="919.60" r="2.2" fill="none" stroke="#f00000" stroke-width="1.8"/>
<circle cx="899.00" cy="922.70" r="2.2" fill="none" stroke="#f00000" stroke-width="1.8"/>
<circle cx="871.10" cy="928.00" r="2.2" fill="none" stroke="#f00000" stroke-width="1.8"/>
<circle cx="889.40" cy="949.00" r="2.2" fill="none" stroke="#f00000" stroke-width="1.8"/>
<circle cx="899.00" cy="942.80" r="2.2" fill="none" stroke="#f00000" stroke-width="1.8"/>
<circle cx="972.30" cy="850.60" r="2.2" fill="none" stroke="#f00000" stroke-width="1.8"/>
<circle cx="977.50" cy="842.90" r="2.2" fill="none" stroke="#f00000" stroke-width="1.8"/>
<circle cx="989.30" cy="846.90" r="2.2" fill="none" stroke="#f00000" stroke-width="1.8"/>
<circle cx="998.00" cy="841.70" r="2.2" fill="none" stroke="#f00000" stroke-width="1.8"/>
<circle cx="987.70" cy="945.90" r="2.2" fill="none" stroke="#f00000" stroke-width="1.8"/>
<circle cx="983.10" cy="966.70" r="2.2" fill="none" stroke="#f00000" stroke-width="1.8"/>
<circle cx="1084.50" cy="773.80" r="2.2" fill="none" stroke="#f00000" stroke-width="1.8"/>
<circle cx="1086.00" cy="801.60" r="2.2" fill="none" stroke="#f00000" stroke-width="1.8"/>
<circle cx="1088.40" cy="845.50" r="2.2" fill="none" stroke="#f00000" stroke-width="1.8"/>
<circle cx="1061.20" cy="850.00" r="2.2" fill="none" stroke="#f00000" stroke-width="1.8"/>
<circle cx="1064.20" cy="899.40" r="2.2" fill="none" stroke="#f00000" stroke-width="1.8"/>
<circle cx="1076.00" cy="918.20" r="2.2" fill="none" stroke="#f00000" stroke-width="1.8"/>
<circle cx="1193.50" cy="763.20" r="2.2" fill="none" stroke="#f00000" stroke-width="1.8"/>
<circle cx="1189.60" cy="784.40" r="2.2" fill="none" stroke="#f00000" stroke-width="1.8"/>
<circle cx="1166.80" cy="844.90" r="2.2" fill="none" stroke="#f00000" stroke-width="1.8"/>
<circle cx="1192.90" cy="855.20" r="2.2" fill="none" stroke="#f00000" stroke-width="1.8"/>
<circle cx="1191.40" cy="909.70" r="2.2" fill="none" stroke="#f00000" stroke-width="1.8"/>
<circle cx="1179.30" cy="915.50" r="2.2" fill="none" stroke="#f00000" stroke-width="1.8"/>
<circle cx="1267.70" cy="704.10" r="2.2" fill="none" stroke="#f00000" stroke-width="1.8"/>
<circle cx="1295.50" cy="776.20" r="2.2" fill="none" stroke="#f00000" stroke-width="1.8"/>
<circle cx="1277.40" cy="833.70" r="2.2" fill="none" stroke="#f00000" stroke-width="1.8"/>
<circle cx="1259.20" cy="857.30" r="2.2" fill="none" stroke="#f00000" stroke-width="1.8"/>
<circle cx="1266.80" cy="890.30" r="2.2" fill="none" stroke="#f00000" stroke-width="1.8"/>
<circle cx="1271.60" cy="891.80" r="2.2" fill="none" stroke="#f00000" stroke-width="1.8"/>
<path d="M881.30,916.50 L881.37,916.83 L881.45,917.16 L881.54,917.49 L881.66,917.82 L881.79,918.14 L881.95,918.47 L882.13,918.80 L882.34,919.13 L882.57,919.46 L882.85,919.79 L883.15,920.12 L883.50,920.44 L883.88,920.77 L884.31,921.10 L884.78,921.43 L885.30,921.76 L885.87,922.09 L886.47,922.42 L887.13,922.75 L887.83,923.08 L888.56,923.40 L889.34,923.73 L890.14,924.06 L890.97,924.39 L891.83,924.72 L892.69,925.05 L893.56,925.38 L894.42,925.70 L895.28,926.03 L896.10,926.36 L896.89,926.69 L897.64,927.02 L898.34,927.35 L898.97,927.68 L899.53,928.01 L900.01,928.34 L900.40,928.66 L900.69,928.99 L900.89,929.32 L900.99,929.65 L901.00,929.80 L900.98,929.98 L900.87,930.31 L900.66,930.64 L900.34,930.96 L899.92,931.29 L899.41,931.62 L898.82,931.95 L898.16,932.28 L897.44,932.61 L896.66,932.94 L895.83,933.27 L894.98,933.60 L894.10,933.92 L893.21,934.25 L892.32,934.58 L891.44,934.91 L890.58,935.24 L889.74,935.57 L888.93,935.90 L888.16,936.22 L887.43,936.55 L886.74,936.88 L886.10,937.21 L885.50,937.54 L884.96,937.87 L884.46,938.20 L884.01,938.53 L883.60,938.86 L883.24,939.18 L882.91,939.51 L882.63,939.84 L882.38,940.17 L882.16,940.50 L881.97,940.83 L881.81,941.16 L881.67,941.48 L881.55,941.81 L881.45,942.14 L881.37,942.47 L881.30,942.80 L880.70,942.80 L880.63,942.47 L880.55,942.14 L880.45,941.81 L880.33,941.48 L880.19,941.16 L880.03,940.83 L879.84,940.50 L879.62,940.17 L879.37,939.84 L879.09,939.51 L878.76,939.18 L878.40,938.86 L877.99,938.53 L877.54,938.20 L877.04,937.87 L876.50,937.54 L875.90,937.21 L875.26,936.88 L874.57,936.55 L873.84,936.22 L873.07,935.90 L872.26,935.57 L871.42,935.24 L870.56,934.91 L869.68,934.58 L868.79,934.25 L867.90,933.92 L867.02,933.60 L866.17,933.27 L865.34,932.94 L864.56,932.61 L863.84,932.28 L863.18,931.95 L862.59,931.62 L862.08,931.29 L861.66,930.96 L861.34,930.64 L861.13,930.31 L861.02,929.98 L861.00,929.80 L861.01,929.65 L861.11,929.32 L861.31,928.99 L861.60,928.66 L861.99,928.34 L862.47,928.01 L863.03,927.68 L863.66,927.35 L864.36,927.02 L865.11,926.69 L865.90,926.36 L866.72,926.03 L867.58,925.70 L868.44,925.38 L869.31,925.05 L870.17,924.72 L871.03,924.39 L871.86,924.06 L872.66,923.73 L873.44,923.40 L874.17,923.08 L874.87,922.75 L875.53,922.42 L876.13,922.09 L876.70,921.76 L877.22,921.43 L877.69,921.10 L878.12,920.77 L878.50,920.44 L878.85,920.12 L879.15,919.79 L879.43,919.46 L879.66,919.13 L879.87,918.80 L880.05,918.47 L880.21,918.14 L880.34,917.82 L880.46,917.49 L880.55,917.16 L880.63,916.83 L880.70,916.50 Z" fill="none" stroke="#000" stroke-width="2.0" stroke-linejoin="round"/>
<line x1="861.00" y1="929.80" x2="901.00" y2="929.80" stroke="#000" stroke-width="2.0" />
<path d="M980.30,826.80 L980.37,828.19 L980.45,829.58 L980.55,830.98 L980.67,832.37 L980.80,833.76 L980.96,835.15 L981.15,836.55 L981.36,837.94 L981.61,839.33 L981.89,840.72 L982.20,842.12 L982.56,843.51 L982.96,844.90 L983.40,846.29 L983.89,847.69 L984.42,849.08 L985.01,850.47 L985.63,851.87 L986.31,853.26 L987.02,854.65 L987.78,856.04 L988.58,857.43 L989.40,858.83 L990.26,860.22 L991.13,861.61 L992.01,863.00 L992.89,864.40 L993.77,865.79 L994.62,867.18 L995.45,868.58 L996.25,869.97 L996.99,871.36 L997.67,872.75 L998.29,874.14 L998.82,875.54 L999.27,876.93 L999.63,878.32 L999.89,879.72 L1000.05,881.11 L1000.10,882.50 L1000.05,883.89 L999.89,885.28 L999.63,886.68 L999.27,888.07 L998.82,889.46 L998.29,890.86 L997.67,892.25 L996.99,893.64 L996.25,895.03 L995.45,896.42 L994.62,897.82 L993.77,899.21 L992.89,900.60 L992.01,902.00 L991.13,903.39 L990.26,904.78 L989.40,906.17 L988.58,907.57 L987.78,908.96 L987.02,910.35 L986.31,911.74 L985.63,913.13 L985.01,914.53 L984.42,915.92 L983.89,917.31 L983.40,918.71 L982.96,920.10 L982.56,921.49 L982.20,922.88 L981.89,924.28 L981.61,925.67 L981.36,927.06 L981.15,928.45 L980.96,929.85 L980.80,931.24 L980.67,932.63 L980.55,934.02 L980.45,935.42 L980.37,936.81 L980.30,938.20 L979.70,938.20 L979.63,936.81 L979.55,935.42 L979.45,934.02 L979.33,932.63 L979.20,931.24 L979.04,929.85 L978.85,928.45 L978.64,927.06 L978.39,925.67 L978.11,924.28 L977.80,922.88 L977.44,921.49 L977.04,920.10 L976.60,918.71 L976.11,917.31 L975.58,915.92 L974.99,914.53 L974.37,913.13 L973.69,911.74 L972.98,910.35 L972.22,908.96 L971.42,907.57 L970.60,906.17 L969.74,904.78 L968.87,903.39 L967.99,902.00 L967.11,900.60 L966.23,899.21 L965.38,897.82 L964.55,896.42 L963.75,895.03 L963.01,893.64 L962.33,892.25 L961.71,890.86 L961.18,889.46 L960.73,888.07 L960.37,886.68 L960.11,885.28 L959.95,883.89 L959.90,882.50 L959.95,881.11 L960.11,879.72 L960.37,878.32 L960.73,876.93 L961.18,875.54 L961.71,874.14 L962.33,872.75 L963.01,871.36 L963.75,869.97 L964.55,868.58 L965.38,867.18 L966.23,865.79 L967.11,864.40 L967.99,863.00 L968.87,861.61 L969.74,860.22 L970.60,858.83 L971.42,857.43 L972.22,856.04 L972.98,854.65 L973.69,853.26 L974.37,851.87 L974.99,850.47 L975.58,849.08 L976.11,847.69 L976.60,846.29 L977.04,844.90 L977.44,843.51 L977.80,842.12 L978.11,840.72 L978.39,839.33 L978.64,837.94 L978.85,836.55 L979.04,835.15 L979.20,833.76 L979.33,832.37 L979.45,830.98 L979.55,829.58 L979.63,828.19 L979.70,826.80 Z" fill="none" stroke="#000" stroke-width="2.0" stroke-linejoin="round"/>
<line x1="959.90" y1="882.50" x2="1000.10" y2="882.50" stroke="#000" stroke-width="2.0" />
<path d="M1079.30,783.50 L1079.37,785.11 L1079.45,786.72 L1079.55,788.32 L1079.66,789.93 L1079.80,791.54 L1079.96,793.14 L1080.14,794.75 L1080.35,796.36 L1080.59,797.97 L1080.87,799.58 L1081.18,801.18 L1081.53,802.79 L1081.93,804.40 L1082.36,806.00 L1082.85,807.61 L1083.37,809.22 L1083.95,810.83 L1084.57,812.43 L1085.24,814.04 L1085.94,815.65 L1086.69,817.26 L1087.48,818.87 L1088.30,820.47 L1089.14,822.08 L1090.00,823.69 L1090.88,825.29 L1091.75,826.90 L1092.62,828.51 L1093.48,830.12 L1094.30,831.73 L1095.09,833.33 L1095.83,834.94 L1096.52,836.55 L1097.13,838.15 L1097.67,839.76 L1098.13,841.37 L1098.50,842.98 L1098.77,844.59 L1098.93,846.19 L1099.00,847.80 L1099.00,848.00 L1098.96,849.41 L1098.81,851.01 L1098.57,852.62 L1098.22,854.23 L1097.78,855.84 L1097.25,857.45 L1096.65,859.05 L1095.97,860.66 L1095.24,862.27 L1094.45,863.88 L1093.63,865.48 L1092.77,867.09 L1091.90,868.70 L1091.02,870.31 L1090.14,871.91 L1089.27,873.52 L1088.42,875.13 L1087.59,876.74 L1086.80,878.34 L1086.04,879.95 L1085.32,881.56 L1084.64,883.16 L1084.01,884.77 L1083.43,886.38 L1082.89,887.99 L1082.40,889.60 L1081.96,891.20 L1081.56,892.81 L1081.20,894.42 L1080.89,896.02 L1080.61,897.63 L1080.36,899.24 L1080.15,900.85 L1079.96,902.46 L1079.80,904.06 L1079.67,905.67 L1079.55,907.28 L1079.45,908.88 L1079.37,910.49 L1079.30,912.10 L1078.70,912.10 L1078.63,910.49 L1078.55,908.88 L1078.45,907.28 L1078.33,905.67 L1078.20,904.06 L1078.04,902.46 L1077.85,900.85 L1077.64,899.24 L1077.39,897.63 L1077.11,896.02 L1076.80,894.42 L1076.44,892.81 L1076.04,891.20 L1075.60,889.60 L1075.11,887.99 L1074.57,886.38 L1073.99,884.77 L1073.36,883.16 L1072.68,881.56 L1071.96,879.95 L1071.20,878.34 L1070.41,876.74 L1069.58,875.13 L1068.73,873.52 L1067.86,871.91 L1066.98,870.31 L1066.10,868.70 L1065.23,867.09 L1064.37,865.48 L1063.55,863.88 L1062.76,862.27 L1062.03,860.66 L1061.35,859.05 L1060.75,857.45 L1060.22,855.84 L1059.78,854.23 L1059.43,852.62 L1059.19,851.01 L1059.04,849.41 L1059.00,848.00 L1059.00,847.80 L1059.07,846.19 L1059.23,844.59 L1059.50,842.98 L1059.87,841.37 L1060.33,839.76 L1060.87,838.15 L1061.48,836.55 L1062.17,834.94 L1062.91,833.33 L1063.70,831.73 L1064.52,830.12 L1065.38,828.51 L1066.25,826.90 L1067.12,825.29 L1068.00,823.69 L1068.86,822.08 L1069.70,820.47 L1070.52,818.87 L1071.31,817.26 L1072.06,815.65 L1072.76,814.04 L1073.43,812.43 L1074.05,810.83 L1074.63,809.22 L1075.15,807.61 L1075.64,806.00 L1076.07,804.40 L1076.47,802.79 L1076.82,801.18 L1077.13,799.58 L1077.41,797.97 L1077.65,796.36 L1077.86,794.75 L1078.04,793.14 L1078.20,791.54 L1078.34,789.93 L1078.45,788.32 L1078.55,786.72 L1078.63,785.11 L1078.70,783.50 Z" fill="none" stroke="#000" stroke-width="2.0" stroke-linejoin="round"/>
<line x1="1059.00" y1="848.00" x2="1099.00" y2="848.00" stroke="#000" stroke-width="2.0" />
<path d="M1178.00,775.30 L1178.07,777.04 L1178.15,778.78 L1178.25,780.52 L1178.36,782.26 L1178.50,784.00 L1178.65,785.74 L1178.84,787.48 L1179.05,789.22 L1179.29,790.96 L1179.56,792.70 L1179.87,794.44 L1180.22,796.18 L1180.61,797.92 L1181.05,799.66 L1181.52,801.40 L1182.05,803.14 L1182.62,804.88 L1183.23,806.62 L1183.89,808.36 L1184.60,810.10 L1185.34,811.84 L1186.13,813.58 L1186.94,815.32 L1187.78,817.06 L1188.64,818.80 L1189.51,820.54 L1190.39,822.28 L1191.26,824.02 L1192.11,825.76 L1192.95,827.50 L1193.74,829.24 L1194.49,830.98 L1195.19,832.72 L1195.81,834.46 L1196.37,836.20 L1196.84,837.94 L1197.23,839.68 L1197.52,841.42 L1197.71,843.16 L1197.79,844.90 L1197.80,845.50 L1197.78,846.64 L1197.65,848.38 L1197.42,850.12 L1197.09,851.86 L1196.67,853.60 L1196.15,855.34 L1195.55,857.08 L1194.88,858.82 L1194.15,860.56 L1193.37,862.30 L1192.54,864.04 L1191.68,865.78 L1190.80,867.52 L1189.91,869.26 L1189.02,871.00 L1188.14,872.74 L1187.27,874.48 L1186.43,876.22 L1185.63,877.96 L1184.85,879.70 L1184.12,881.44 L1183.44,883.18 L1182.79,884.92 L1182.20,886.66 L1181.66,888.40 L1181.16,890.14 L1180.71,891.88 L1180.30,893.62 L1179.94,895.36 L1179.61,897.10 L1179.33,898.84 L1179.08,900.58 L1178.86,902.32 L1178.67,904.06 L1178.51,905.80 L1178.37,907.54 L1178.25,909.28 L1178.15,911.02 L1178.07,912.76 L1178.00,914.50 L1177.40,914.50 L1177.33,912.76 L1177.25,911.02 L1177.15,909.28 L1177.03,907.54 L1176.89,905.80 L1176.73,904.06 L1176.54,902.32 L1176.32,900.58 L1176.07,898.84 L1175.79,897.10 L1175.46,895.36 L1175.10,893.62 L1174.69,891.88 L1174.24,890.14 L1173.74,888.40 L1173.20,886.66 L1172.61,884.92 L1171.96,883.18 L1171.28,881.44 L1170.55,879.70 L1169.77,877.96 L1168.97,876.22 L1168.13,874.48 L1167.26,872.74 L1166.38,871.00 L1165.49,869.26 L1164.60,867.52 L1163.72,865.78 L1162.86,864.04 L1162.03,862.30 L1161.25,860.56 L1160.52,858.82 L1159.85,857.08 L1159.25,855.34 L1158.73,853.60 L1158.31,851.86 L1157.98,850.12 L1157.75,848.38 L1157.62,846.64 L1157.60,845.50 L1157.61,844.90 L1157.69,843.16 L1157.88,841.42 L1158.17,839.68 L1158.56,837.94 L1159.03,836.20 L1159.59,834.46 L1160.21,832.72 L1160.91,830.98 L1161.66,829.24 L1162.45,827.50 L1163.29,825.76 L1164.14,824.02 L1165.01,822.28 L1165.89,820.54 L1166.76,818.80 L1167.62,817.06 L1168.46,815.32 L1169.27,813.58 L1170.06,811.84 L1170.80,810.10 L1171.51,808.36 L1172.17,806.62 L1172.78,804.88 L1173.35,803.14 L1173.88,801.40 L1174.35,799.66 L1174.79,797.92 L1175.18,796.18 L1175.53,794.44 L1175.84,792.70 L1176.11,790.96 L1176.35,789.22 L1176.56,787.48 L1176.75,785.74 L1176.90,784.00 L1177.04,782.26 L1177.15,780.52 L1177.25,778.78 L1177.33,777.04 L1177.40,775.30 Z" fill="none" stroke="#000" stroke-width="2.0" stroke-linejoin="round"/>
<line x1="1157.60" y1="845.50" x2="1197.80" y2="845.50" stroke="#000" stroke-width="2.0" />
<path d="M1276.99,733.80 L1277.06,736.11 L1277.14,738.42 L1277.24,740.73 L1277.36,743.03 L1277.49,745.34 L1277.65,747.65 L1277.83,749.96 L1278.04,752.27 L1278.28,754.58 L1278.56,756.89 L1278.87,759.20 L1279.23,761.50 L1279.62,763.81 L1280.06,766.12 L1280.54,768.43 L1281.07,770.74 L1281.64,773.05 L1282.27,775.36 L1282.93,777.67 L1283.64,779.97 L1284.39,782.28 L1285.17,784.59 L1285.99,786.90 L1286.83,789.21 L1287.69,791.52 L1288.56,793.83 L1289.42,796.14 L1290.28,798.44 L1291.12,800.75 L1291.94,803.06 L1292.71,805.37 L1293.43,807.68 L1294.10,809.99 L1294.69,812.30 L1295.21,814.61 L1295.64,816.91 L1295.98,819.22 L1296.22,821.53 L1296.36,823.84 L1296.40,825.80 L1296.40,826.15 L1296.33,828.46 L1296.16,830.77 L1295.90,833.08 L1295.53,835.38 L1295.08,837.69 L1294.55,840.00 L1293.94,842.31 L1293.27,844.62 L1292.53,846.93 L1291.76,849.24 L1290.94,851.55 L1290.10,853.86 L1289.25,856.16 L1288.38,858.47 L1287.52,860.78 L1286.68,863.09 L1285.85,865.40 L1285.04,867.71 L1284.27,870.02 L1283.53,872.33 L1282.83,874.63 L1282.18,876.94 L1281.57,879.25 L1281.00,881.56 L1280.48,883.87 L1280.01,886.18 L1279.58,888.49 L1279.19,890.79 L1278.85,893.10 L1278.54,895.41 L1278.27,897.72 L1278.03,900.03 L1277.82,902.34 L1277.64,904.65 L1277.48,906.96 L1277.35,909.26 L1277.24,911.57 L1277.14,913.88 L1277.06,916.19 L1276.99,918.50 L1276.41,918.50 L1276.34,916.19 L1276.26,913.88 L1276.16,911.57 L1276.05,909.26 L1275.92,906.96 L1275.76,904.65 L1275.58,902.34 L1275.37,900.03 L1275.13,897.72 L1274.86,895.41 L1274.55,893.10 L1274.21,890.79 L1273.82,888.49 L1273.39,886.18 L1272.92,883.87 L1272.40,881.56 L1271.83,879.25 L1271.22,876.94 L1270.57,874.63 L1269.87,872.33 L1269.13,870.02 L1268.36,867.71 L1267.55,865.40 L1266.72,863.09 L1265.88,860.78 L1265.02,858.47 L1264.15,856.16 L1263.30,853.86 L1262.46,851.55 L1261.64,849.24 L1260.87,846.93 L1260.13,844.62 L1259.46,842.31 L1258.85,840.00 L1258.32,837.69 L1257.87,835.38 L1257.50,833.08 L1257.24,830.77 L1257.07,828.46 L1257.00,826.15 L1257.00,825.80 L1257.04,823.84 L1257.18,821.53 L1257.42,819.22 L1257.76,816.91 L1258.19,814.61 L1258.71,812.30 L1259.30,809.99 L1259.97,807.68 L1260.69,805.37 L1261.46,803.06 L1262.28,800.75 L1263.12,798.44 L1263.98,796.14 L1264.84,793.83 L1265.71,791.52 L1266.57,789.21 L1267.41,786.90 L1268.23,784.59 L1269.01,782.28 L1269.76,779.97 L1270.47,777.67 L1271.13,775.36 L1271.76,773.05 L1272.33,770.74 L1272.86,768.43 L1273.34,766.12 L1273.78,763.81 L1274.17,761.50 L1274.53,759.20 L1274.84,756.89 L1275.12,754.58 L1275.36,752.27 L1275.57,749.96 L1275.75,747.65 L1275.91,745.34 L1276.04,743.03 L1276.16,740.73 L1276.26,738.42 L1276.34,736.11 L1276.41,733.80 Z" fill="none" stroke="#000" stroke-width="2.0" stroke-linejoin="round"/>
<line x1="1257.00" y1="825.80" x2="1296.40" y2="825.80" stroke="#000" stroke-width="2.0" />
<text transform="translate(988.30,808.10) rotate(-90)" font-size="20.6"><tspan font-style="italic">P</tspan> = 0.013</text>
<text transform="translate(1087.80,757.10) rotate(-90)" font-size="20.6"><tspan font-style="italic">P</tspan> = 0.0018</text>
<text transform="translate(1187.70,751.60) rotate(-90)" font-size="20.6"><tspan font-style="italic">P</tspan> = 0.0029</text>
<text transform="translate(1286.10,691.10) rotate(-90)" font-size="20.6"><tspan font-style="italic">P</tspan> = 0.0041</text>
<text x="3.00" y="1064.50" font-size="33.5" text-anchor="start" font-weight="bold" font-style="normal" fill="#000"  stroke="#000" stroke-width="1.0">f</text>
<line x1="79.20" y1="1087.60" x2="79.20" y2="1448.00" stroke="#000" stroke-width="2.3" />
<line x1="78.20" y1="1447.00" x2="623.10" y2="1447.00" stroke="#000" stroke-width="2.6" />
<line x1="79.20" y1="1390.20" x2="623.10" y2="1390.20" stroke="#000" stroke-width="2.0" />
<line x1="70.60" y1="1099.80" x2="79.20" y2="1099.80" stroke="#000" stroke-width="2.0" />
<text transform="translate(66.60,1107.90) scale(1,1.03)" font-size="21.5" text-anchor="end" font-weight="normal" font-style="normal" fill="#000" >100</text>
<line x1="70.60" y1="1245.20" x2="79.20" y2="1245.20" stroke="#000" stroke-width="2.0" />
<text transform="translate(66.60,1253.30) scale(1,1.03)" font-size="21.5" text-anchor="end" font-weight="normal" font-style="normal" fill="#000" >10</text>
<line x1="70.60" y1="1390.20" x2="79.20" y2="1390.20" stroke="#000" stroke-width="2.0" />
<text transform="translate(66.60,1398.30) scale(1,1.03)" font-size="21.5" text-anchor="end" font-weight="normal" font-style="normal" fill="#000" >1</text>
<line x1="148.40" y1="1447.00" x2="148.40" y2="1456.00" stroke="#000" stroke-width="2.3" />
<text transform="translate(148.40,1483.00) scale(1,1.04)" font-size="21.5" text-anchor="middle" font-weight="normal" font-style="normal" fill="#000" >1</text>
<line x1="249.70" y1="1447.00" x2="249.70" y2="1456.00" stroke="#000" stroke-width="2.3" />
<text transform="translate(249.70,1483.00) scale(1,1.04)" font-size="21.5" text-anchor="middle" font-weight="normal" font-style="normal" fill="#000" >2</text>
<line x1="351.00" y1="1447.00" x2="351.00" y2="1456.00" stroke="#000" stroke-width="2.3" />
<text transform="translate(351.00,1483.00) scale(1,1.04)" font-size="21.5" text-anchor="middle" font-weight="normal" font-style="normal" fill="#000" >3</text>
<line x1="452.30" y1="1447.00" x2="452.30" y2="1456.00" stroke="#000" stroke-width="2.3" />
<text transform="translate(452.30,1483.00) scale(1,1.04)" font-size="21.5" text-anchor="middle" font-weight="normal" font-style="normal" fill="#000" >4</text>
<line x1="553.60" y1="1447.00" x2="553.60" y2="1456.00" stroke="#000" stroke-width="2.3" />
<text transform="translate(553.60,1483.00) scale(1,1.04)" font-size="21.5" text-anchor="middle" font-weight="normal" font-style="normal" fill="#000" >5</text>
<text x="33.10" y="1483.00" font-size="23.3" text-anchor="start" font-weight="normal" font-style="normal" fill="#000" >dpi</text>
<text transform="translate(18.60,1386.50) rotate(-90)" font-size="22.3" text-anchor="start" >Relative replicative fitness</text>
<text x="348.70" y="1042.80" font-size="22.7" text-anchor="middle" font-weight="normal" font-style="normal" fill="#000" >D614:G614</text>
<text x="348.70" y="1069.50" font-size="22.7" text-anchor="middle" font-weight="normal" font-style="normal" fill="#000" >3:1</text>
<clipPath id="v1494_13725"><path d="M149.71,1372.50 L149.78,1372.62 L149.87,1372.74 L149.97,1372.86 L150.10,1372.98 L150.24,1373.11 L150.41,1373.23 L150.60,1373.35 L150.83,1373.47 L151.09,1373.59 L151.39,1373.71 L151.72,1373.83 L152.10,1373.95 L152.52,1374.08 L152.99,1374.20 L153.51,1374.32 L154.07,1374.44 L154.69,1374.56 L155.36,1374.68 L156.07,1374.80 L156.83,1374.92 L157.63,1375.05 L158.47,1375.17 L159.34,1375.29 L160.24,1375.41 L161.15,1375.53 L162.07,1375.65 L163.00,1375.77 L163.91,1375.89 L164.80,1376.02 L165.65,1376.14 L166.47,1376.26 L167.22,1376.38 L167.91,1376.50 L168.53,1376.62 L169.06,1376.74 L169.49,1376.87 L169.83,1376.99 L170.06,1377.11 L170.18,1377.23 L170.20,1377.30 L170.19,1377.35 L170.09,1377.47 L169.89,1377.59 L169.59,1377.71 L169.18,1377.84 L168.69,1377.96 L168.11,1378.08 L167.46,1378.20 L166.74,1378.32 L165.96,1378.44 L165.13,1378.56 L164.27,1378.68 L163.39,1378.81 L162.49,1378.93 L161.58,1379.05 L160.68,1379.17 L159.80,1379.29 L158.93,1379.41 L158.09,1379.53 L157.28,1379.65 L156.51,1379.78 L155.79,1379.90 L155.11,1380.02 L154.47,1380.14 L153.88,1380.26 L153.34,1380.38 L152.85,1380.50 L152.40,1380.62 L152.00,1380.75 L151.64,1380.87 L151.32,1380.99 L151.04,1381.11 L150.79,1381.23 L150.57,1381.35 L150.39,1381.47 L150.22,1381.59 L150.08,1381.72 L149.97,1381.84 L149.87,1381.96 L149.78,1382.08 L149.71,1382.20 L149.09,1382.20 L149.02,1382.08 L148.93,1381.96 L148.83,1381.84 L148.72,1381.72 L148.58,1381.59 L148.41,1381.47 L148.23,1381.35 L148.01,1381.23 L147.76,1381.11 L147.48,1380.99 L147.16,1380.87 L146.80,1380.75 L146.40,1380.62 L145.95,1380.50 L145.46,1380.38 L144.92,1380.26 L144.33,1380.14 L143.69,1380.02 L143.01,1379.90 L142.29,1379.78 L141.52,1379.65 L140.71,1379.53 L139.87,1379.41 L139.00,1379.29 L138.12,1379.17 L137.22,1379.05 L136.31,1378.93 L135.41,1378.81 L134.53,1378.68 L133.67,1378.56 L132.84,1378.44 L132.06,1378.32 L131.34,1378.20 L130.69,1378.08 L130.11,1377.96 L129.62,1377.84 L129.21,1377.71 L128.91,1377.59 L128.71,1377.47 L128.61,1377.35 L128.60,1377.30 L128.62,1377.23 L128.74,1377.11 L128.97,1376.99 L129.31,1376.87 L129.74,1376.74 L130.27,1376.62 L130.89,1376.50 L131.58,1376.38 L132.33,1376.26 L133.15,1376.14 L134.00,1376.02 L134.89,1375.89 L135.80,1375.77 L136.73,1375.65 L137.65,1375.53 L138.56,1375.41 L139.46,1375.29 L140.33,1375.17 L141.17,1375.05 L141.97,1374.92 L142.73,1374.80 L143.44,1374.68 L144.11,1374.56 L144.73,1374.44 L145.29,1374.32 L145.81,1374.20 L146.28,1374.08 L146.70,1373.95 L147.08,1373.83 L147.41,1373.71 L147.71,1373.59 L147.97,1373.47 L148.20,1373.35 L148.39,1373.23 L148.56,1373.11 L148.70,1372.98 L148.83,1372.86 L148.93,1372.74 L149.02,1372.62 L149.09,1372.50 Z"/></clipPath>
<rect x="126.60" y="1375.50" width="45.60" height="3.50" fill="#cdcdcd" clip-path="url(#v1494_13725)"/>
<clipPath id="v2496_12805"><path d="M249.90,1280.50 L249.97,1281.40 L250.05,1282.30 L250.15,1283.20 L250.27,1284.11 L250.40,1285.01 L250.56,1285.91 L250.75,1286.81 L250.96,1287.71 L251.21,1288.61 L251.49,1289.51 L251.81,1290.41 L252.17,1291.32 L252.57,1292.22 L253.01,1293.12 L253.50,1294.02 L254.04,1294.92 L254.62,1295.82 L255.25,1296.72 L255.93,1297.62 L256.65,1298.53 L257.41,1299.43 L258.21,1300.33 L259.04,1301.23 L259.89,1302.13 L260.76,1303.03 L261.64,1303.93 L262.53,1304.83 L263.40,1305.73 L264.25,1306.64 L265.08,1307.54 L265.86,1308.44 L266.60,1309.34 L267.27,1310.24 L267.88,1311.14 L268.40,1312.04 L268.84,1312.94 L269.18,1313.85 L269.42,1314.75 L269.56,1315.65 L269.60,1316.40 L269.60,1316.55 L269.53,1317.45 L269.36,1318.35 L269.08,1319.25 L268.72,1320.15 L268.26,1321.06 L267.71,1321.96 L267.09,1322.86 L266.41,1323.76 L265.67,1324.66 L264.88,1325.56 L264.05,1326.46 L263.20,1327.37 L262.33,1328.27 L261.45,1329.17 L260.58,1330.07 L259.72,1330.97 L258.88,1331.87 L258.06,1332.77 L257.28,1333.67 L256.53,1334.57 L255.82,1335.48 L255.16,1336.38 L254.54,1337.28 L253.96,1338.18 L253.44,1339.08 L252.96,1339.98 L252.52,1340.88 L252.13,1341.78 L251.78,1342.69 L251.47,1343.59 L251.19,1344.49 L250.95,1345.39 L250.74,1346.29 L250.55,1347.19 L250.40,1348.09 L250.26,1348.99 L250.15,1349.90 L250.05,1350.80 L249.97,1351.70 L249.90,1352.60 L249.30,1352.60 L249.23,1351.70 L249.15,1350.80 L249.05,1349.90 L248.94,1348.99 L248.80,1348.09 L248.65,1347.19 L248.46,1346.29 L248.25,1345.39 L248.01,1344.49 L247.73,1343.59 L247.42,1342.69 L247.07,1341.78 L246.68,1340.88 L246.24,1339.98 L245.76,1339.08 L245.24,1338.18 L244.66,1337.28 L244.04,1336.38 L243.38,1335.48 L242.67,1334.57 L241.92,1333.67 L241.14,1332.77 L240.32,1331.87 L239.48,1330.97 L238.62,1330.07 L237.75,1329.17 L236.87,1328.27 L236.00,1327.37 L235.15,1326.46 L234.32,1325.56 L233.53,1324.66 L232.79,1323.76 L232.11,1322.86 L231.49,1321.96 L230.94,1321.06 L230.48,1320.15 L230.12,1319.25 L229.84,1318.35 L229.67,1317.45 L229.60,1316.55 L229.60,1316.40 L229.64,1315.65 L229.78,1314.75 L230.02,1313.85 L230.36,1312.94 L230.80,1312.04 L231.32,1311.14 L231.93,1310.24 L232.60,1309.34 L233.34,1308.44 L234.12,1307.54 L234.95,1306.64 L235.80,1305.73 L236.67,1304.83 L237.56,1303.93 L238.44,1303.03 L239.31,1302.13 L240.16,1301.23 L240.99,1300.33 L241.79,1299.43 L242.55,1298.53 L243.27,1297.62 L243.95,1296.72 L244.58,1295.82 L245.16,1294.92 L245.70,1294.02 L246.19,1293.12 L246.63,1292.22 L247.03,1291.32 L247.39,1290.41 L247.71,1289.51 L247.99,1288.61 L248.24,1287.71 L248.45,1286.81 L248.64,1285.91 L248.80,1285.01 L248.93,1284.11 L249.05,1283.20 L249.15,1282.30 L249.23,1281.40 L249.30,1280.50 Z"/></clipPath>
<rect x="227.60" y="1304.50" width="44.00" height="23.10" fill="#cdcdcd" clip-path="url(#v2496_12805)"/>
<clipPath id="v3510_12038"><path d="M351.30,1203.80 L351.37,1205.38 L351.45,1206.96 L351.55,1208.54 L351.67,1210.12 L351.80,1211.70 L351.96,1213.28 L352.15,1214.86 L352.36,1216.44 L352.61,1218.02 L352.89,1219.60 L353.21,1221.18 L353.57,1222.76 L353.97,1224.34 L354.42,1225.92 L354.91,1227.50 L355.44,1229.08 L356.03,1230.66 L356.66,1232.24 L357.34,1233.82 L358.06,1235.40 L358.82,1236.98 L359.62,1238.56 L360.45,1240.14 L361.30,1241.72 L362.18,1243.30 L363.06,1244.88 L363.94,1246.46 L364.81,1248.04 L365.67,1249.62 L366.49,1251.20 L367.28,1252.78 L368.01,1254.36 L368.68,1255.94 L369.29,1257.52 L369.81,1259.10 L370.24,1260.68 L370.59,1262.26 L370.83,1263.84 L370.97,1265.42 L371.00,1266.70 L371.00,1267.00 L370.93,1268.58 L370.75,1270.16 L370.48,1271.74 L370.11,1273.32 L369.65,1274.90 L369.10,1276.48 L368.48,1278.06 L367.80,1279.64 L367.05,1281.22 L366.26,1282.80 L365.44,1284.38 L364.58,1285.96 L363.72,1287.54 L362.84,1289.12 L361.97,1290.70 L361.11,1292.28 L360.27,1293.86 L359.45,1295.44 L358.67,1297.02 L357.92,1298.60 L357.21,1300.18 L356.55,1301.76 L355.93,1303.34 L355.36,1304.92 L354.83,1306.50 L354.35,1308.08 L353.92,1309.66 L353.53,1311.24 L353.18,1312.82 L352.86,1314.40 L352.59,1315.98 L352.35,1317.56 L352.14,1319.14 L351.95,1320.72 L351.80,1322.30 L351.66,1323.88 L351.55,1325.46 L351.45,1327.04 L351.37,1328.62 L351.30,1330.20 L350.70,1330.20 L350.63,1328.62 L350.55,1327.04 L350.45,1325.46 L350.34,1323.88 L350.20,1322.30 L350.05,1320.72 L349.86,1319.14 L349.65,1317.56 L349.41,1315.98 L349.14,1314.40 L348.82,1312.82 L348.47,1311.24 L348.08,1309.66 L347.65,1308.08 L347.17,1306.50 L346.64,1304.92 L346.07,1303.34 L345.45,1301.76 L344.79,1300.18 L344.08,1298.60 L343.33,1297.02 L342.55,1295.44 L341.73,1293.86 L340.89,1292.28 L340.03,1290.70 L339.16,1289.12 L338.28,1287.54 L337.42,1285.96 L336.56,1284.38 L335.74,1282.80 L334.95,1281.22 L334.20,1279.64 L333.52,1278.06 L332.90,1276.48 L332.35,1274.90 L331.89,1273.32 L331.52,1271.74 L331.25,1270.16 L331.07,1268.58 L331.00,1267.00 L331.00,1266.70 L331.03,1265.42 L331.17,1263.84 L331.41,1262.26 L331.76,1260.68 L332.19,1259.10 L332.71,1257.52 L333.32,1255.94 L333.99,1254.36 L334.72,1252.78 L335.51,1251.20 L336.33,1249.62 L337.19,1248.04 L338.06,1246.46 L338.94,1244.88 L339.82,1243.30 L340.70,1241.72 L341.55,1240.14 L342.38,1238.56 L343.18,1236.98 L343.94,1235.40 L344.66,1233.82 L345.34,1232.24 L345.97,1230.66 L346.56,1229.08 L347.09,1227.50 L347.58,1225.92 L348.03,1224.34 L348.43,1222.76 L348.79,1221.18 L349.11,1219.60 L349.39,1218.02 L349.64,1216.44 L349.85,1214.86 L350.04,1213.28 L350.20,1211.70 L350.33,1210.12 L350.45,1208.54 L350.55,1206.96 L350.63,1205.38 L350.70,1203.80 Z"/></clipPath>
<rect x="329.00" y="1246.80" width="44.00" height="39.70" fill="#cdcdcd" clip-path="url(#v3510_12038)"/>
<clipPath id="v4521_11848"><path d="M452.40,1184.80 L452.47,1186.50 L452.56,1188.19 L452.66,1189.89 L452.78,1191.59 L452.91,1193.29 L453.07,1194.98 L453.26,1196.68 L453.48,1198.38 L453.73,1200.08 L454.01,1201.77 L454.33,1203.47 L454.69,1205.17 L455.09,1206.87 L455.53,1208.57 L456.02,1210.26 L456.56,1211.96 L457.15,1213.66 L457.78,1215.36 L458.46,1217.05 L459.19,1218.75 L459.95,1220.45 L460.75,1222.14 L461.59,1223.84 L462.45,1225.54 L463.33,1227.24 L464.22,1228.93 L465.11,1230.63 L466.00,1232.33 L466.87,1234.03 L467.71,1235.72 L468.52,1237.42 L469.27,1239.12 L469.97,1240.82 L470.60,1242.51 L471.15,1244.21 L471.62,1245.91 L471.99,1247.61 L472.26,1249.30 L472.43,1251.00 L472.50,1252.70 L472.50,1252.90 L472.46,1254.40 L472.31,1256.10 L472.06,1257.79 L471.70,1259.49 L471.25,1261.19 L470.72,1262.88 L470.10,1264.58 L469.41,1266.28 L468.66,1267.98 L467.86,1269.67 L467.02,1271.37 L466.15,1273.07 L465.26,1274.77 L464.36,1276.46 L463.46,1278.16 L462.57,1279.86 L461.70,1281.56 L460.86,1283.25 L460.05,1284.95 L459.27,1286.65 L458.54,1288.35 L457.85,1290.04 L457.21,1291.74 L456.62,1293.44 L456.07,1295.14 L455.57,1296.84 L455.12,1298.53 L454.71,1300.23 L454.35,1301.93 L454.02,1303.62 L453.74,1305.32 L453.49,1307.02 L453.27,1308.72 L453.08,1310.41 L452.92,1312.11 L452.78,1313.81 L452.66,1315.51 L452.56,1317.20 L452.47,1318.90 L452.40,1320.60 L451.80,1320.60 L451.73,1318.90 L451.64,1317.20 L451.54,1315.51 L451.42,1313.81 L451.28,1312.11 L451.12,1310.41 L450.93,1308.72 L450.71,1307.02 L450.46,1305.32 L450.18,1303.62 L449.85,1301.93 L449.49,1300.23 L449.08,1298.53 L448.63,1296.84 L448.13,1295.14 L447.58,1293.44 L446.99,1291.74 L446.35,1290.04 L445.66,1288.35 L444.93,1286.65 L444.15,1284.95 L443.34,1283.25 L442.50,1281.56 L441.63,1279.86 L440.74,1278.16 L439.84,1276.46 L438.94,1274.77 L438.05,1273.07 L437.18,1271.37 L436.34,1269.67 L435.54,1267.98 L434.79,1266.28 L434.10,1264.58 L433.48,1262.88 L432.95,1261.19 L432.50,1259.49 L432.14,1257.79 L431.89,1256.10 L431.74,1254.40 L431.70,1252.90 L431.70,1252.70 L431.77,1251.00 L431.94,1249.30 L432.21,1247.61 L432.58,1245.91 L433.05,1244.21 L433.60,1242.51 L434.23,1240.82 L434.93,1239.12 L435.68,1237.42 L436.49,1235.72 L437.33,1234.03 L438.20,1232.33 L439.09,1230.63 L439.98,1228.93 L440.87,1227.24 L441.75,1225.54 L442.61,1223.84 L443.45,1222.14 L444.25,1220.45 L445.01,1218.75 L445.74,1217.05 L446.42,1215.36 L447.05,1213.66 L447.64,1211.96 L448.18,1210.26 L448.67,1208.57 L449.11,1206.87 L449.51,1205.17 L449.87,1203.47 L450.19,1201.77 L450.47,1200.08 L450.72,1198.38 L450.94,1196.68 L451.13,1194.98 L451.29,1193.29 L451.42,1191.59 L451.54,1189.89 L451.64,1188.19 L451.73,1186.50 L451.80,1184.80 Z"/></clipPath>
<rect x="429.70" y="1230.70" width="44.80" height="43.00" fill="#cdcdcd" clip-path="url(#v4521_11848)"/>
<clipPath id="v5534_11922"><path d="M553.70,1192.20 L553.77,1193.67 L553.86,1195.14 L553.96,1196.62 L554.08,1198.09 L554.22,1199.56 L554.38,1201.04 L554.57,1202.51 L554.79,1203.98 L555.04,1205.45 L555.33,1206.92 L555.66,1208.40 L556.03,1209.87 L556.44,1211.34 L556.89,1212.82 L557.39,1214.29 L557.95,1215.76 L558.54,1217.23 L559.19,1218.70 L559.89,1220.18 L560.62,1221.65 L561.40,1223.12 L562.22,1224.60 L563.07,1226.07 L563.94,1227.54 L564.83,1229.01 L565.73,1230.49 L566.63,1231.96 L567.51,1233.43 L568.38,1234.90 L569.22,1236.38 L570.01,1237.85 L570.75,1239.32 L571.43,1240.79 L572.03,1242.27 L572.55,1243.74 L572.99,1245.21 L573.32,1246.68 L573.55,1248.15 L573.68,1249.63 L573.70,1250.60 L573.69,1251.10 L573.61,1252.57 L573.41,1254.05 L573.12,1255.52 L572.74,1256.99 L572.26,1258.46 L571.70,1259.93 L571.06,1261.41 L570.36,1262.88 L569.60,1264.35 L568.80,1265.83 L567.96,1267.30 L567.10,1268.77 L566.22,1270.24 L565.33,1271.71 L564.45,1273.19 L563.58,1274.66 L562.73,1276.13 L561.91,1277.61 L561.12,1279.08 L560.37,1280.55 L559.66,1282.02 L558.99,1283.49 L558.37,1284.97 L557.79,1286.44 L557.26,1287.91 L556.78,1289.38 L556.34,1290.86 L555.95,1292.33 L555.60,1293.80 L555.28,1295.28 L555.00,1296.75 L554.76,1298.22 L554.55,1299.69 L554.36,1301.16 L554.21,1302.64 L554.07,1304.11 L553.95,1305.58 L553.85,1307.06 L553.77,1308.53 L553.70,1310.00 L553.10,1310.00 L553.03,1308.53 L552.95,1307.06 L552.85,1305.58 L552.73,1304.11 L552.59,1302.64 L552.44,1301.16 L552.25,1299.69 L552.04,1298.22 L551.80,1296.75 L551.52,1295.28 L551.20,1293.80 L550.85,1292.33 L550.46,1290.86 L550.02,1289.38 L549.54,1287.91 L549.01,1286.44 L548.43,1284.97 L547.81,1283.49 L547.14,1282.02 L546.43,1280.55 L545.68,1279.08 L544.89,1277.61 L544.07,1276.13 L543.22,1274.66 L542.35,1273.19 L541.47,1271.71 L540.58,1270.24 L539.70,1268.77 L538.84,1267.30 L538.00,1265.83 L537.20,1264.35 L536.44,1262.88 L535.74,1261.41 L535.10,1259.93 L534.54,1258.46 L534.06,1256.99 L533.68,1255.52 L533.39,1254.05 L533.19,1252.57 L533.11,1251.10 L533.10,1250.60 L533.12,1249.63 L533.25,1248.15 L533.48,1246.68 L533.81,1245.21 L534.25,1243.74 L534.77,1242.27 L535.37,1240.79 L536.05,1239.32 L536.79,1237.85 L537.58,1236.38 L538.42,1234.90 L539.29,1233.43 L540.17,1231.96 L541.07,1230.49 L541.97,1229.01 L542.86,1227.54 L543.73,1226.07 L544.58,1224.60 L545.40,1223.12 L546.18,1221.65 L546.91,1220.18 L547.61,1218.70 L548.26,1217.23 L548.85,1215.76 L549.41,1214.29 L549.91,1212.82 L550.36,1211.34 L550.77,1209.87 L551.14,1208.40 L551.47,1206.92 L551.76,1205.45 L552.01,1203.98 L552.23,1202.51 L552.42,1201.04 L552.58,1199.56 L552.72,1198.09 L552.84,1196.62 L552.94,1195.14 L553.03,1193.67 L553.10,1192.20 Z"/></clipPath>
<rect x="531.10" y="1232.00" width="44.60" height="37.20" fill="#cdcdcd" clip-path="url(#v5534_11922)"/>
<circle cx="139.60" cy="1367.70" r="2.2" fill="none" stroke="#f00000" stroke-width="1.8"/>
<circle cx="167.50" cy="1372.50" r="2.2" fill="none" stroke="#f00000" stroke-width="1.8"/>
<circle cx="168.40" cy="1377.30" r="2.2" fill="none" stroke="#f00000" stroke-width="1.8"/>
<circle cx="164.60" cy="1385.40" r="2.2" fill="none" stroke="#f00000" stroke-width="1.8"/>
<circle cx="160.00" cy="1377.00" r="2.2" fill="none" stroke="#f00000" stroke-width="1.8"/>
<circle cx="155.00" cy="1376.00" r="2.2" fill="none" stroke="#f00000" stroke-width="1.8"/>
<circle cx="248.00" cy="1272.40" r="2.2" fill="none" stroke="#f00000" stroke-width="1.8"/>
<circle cx="268.90" cy="1291.40" r="2.2" fill="none" stroke="#f00000" stroke-width="1.8"/>
<circle cx="258.60" cy="1307.70" r="2.2" fill="none" stroke="#f00000" stroke-width="1.8"/>
<circle cx="259.90" cy="1310.00" r="2.2" fill="none" stroke="#f00000" stroke-width="1.8"/>
<circle cx="253.40" cy="1349.40" r="2.2" fill="none" stroke="#f00000" stroke-width="1.8"/>
<circle cx="243.20" cy="1366.10" r="2.2" fill="none" stroke="#f00000" stroke-width="1.8"/>
<circle cx="333.70" cy="1220.10" r="2.2" fill="none" stroke="#f00000" stroke-width="1.8"/>
<circle cx="357.10" cy="1222.70" r="2.2" fill="none" stroke="#f00000" stroke-width="1.8"/>
<circle cx="361.00" cy="1225.00" r="2.2" fill="none" stroke="#f00000" stroke-width="1.8"/>
<circle cx="358.70" cy="1234.60" r="2.2" fill="none" stroke="#f00000" stroke-width="1.8"/>
<circle cx="348.80" cy="1345.90" r="2.2" fill="none" stroke="#f00000" stroke-width="1.8"/>
<circle cx="336.30" cy="1354.90" r="2.2" fill="none" stroke="#f00000" stroke-width="1.8"/>
<circle cx="440.50" cy="1188.10" r="2.2" fill="none" stroke="#f00000" stroke-width="1.8"/>
<circle cx="466.80" cy="1211.50" r="2.2" fill="none" stroke="#f00000" stroke-width="1.8"/>
<circle cx="467.80" cy="1219.50" r="2.2" fill="none" stroke="#f00000" stroke-width="1.8"/>
<circle cx="464.30" cy="1224.00" r="2.2" fill="none" stroke="#f00000" stroke-width="1.8"/>
<circle cx="465.90" cy="1329.20" r="2.2" fill="none" stroke="#f00000" stroke-width="1.8"/>
<circle cx="453.40" cy="1346.20" r="2.2" fill="none" stroke="#f00000" stroke-width="1.8"/>
<circle cx="534.80" cy="1199.90" r="2.2" fill="none" stroke="#f00000" stroke-width="1.8"/>
<circle cx="543.20" cy="1211.50" r="2.2" fill="none" stroke="#f00000" stroke-width="1.8"/>
<circle cx="554.10" cy="1208.00" r="2.2" fill="none" stroke="#f00000" stroke-width="1.8"/>
<circle cx="572.10" cy="1235.50" r="2.2" fill="none" stroke="#f00000" stroke-width="1.8"/>
<circle cx="548.00" cy="1325.00" r="2.2" fill="none" stroke="#f00000" stroke-width="1.8"/>
<circle cx="542.90" cy="1329.20" r="2.2" fill="none" stroke="#f00000" stroke-width="1.8"/>
<path d="M149.71,1372.50 L149.78,1372.62 L149.87,1372.74 L149.97,1372.86 L150.10,1372.98 L150.24,1373.11 L150.41,1373.23 L150.60,1373.35 L150.83,1373.47 L151.09,1373.59 L151.39,1373.71 L151.72,1373.83 L152.10,1373.95 L152.52,1374.08 L152.99,1374.20 L153.51,1374.32 L154.07,1374.44 L154.69,1374.56 L155.36,1374.68 L156.07,1374.80 L156.83,1374.92 L157.63,1375.05 L158.47,1375.17 L159.34,1375.29 L160.24,1375.41 L161.15,1375.53 L162.07,1375.65 L163.00,1375.77 L163.91,1375.89 L164.80,1376.02 L165.65,1376.14 L166.47,1376.26 L167.22,1376.38 L167.91,1376.50 L168.53,1376.62 L169.06,1376.74 L169.49,1376.87 L169.83,1376.99 L170.06,1377.11 L170.18,1377.23 L170.20,1377.30 L170.19,1377.35 L170.09,1377.47 L169.89,1377.59 L169.59,1377.71 L169.18,1377.84 L168.69,1377.96 L168.11,1378.08 L167.46,1378.20 L166.74,1378.32 L165.96,1378.44 L165.13,1378.56 L164.27,1378.68 L163.39,1378.81 L162.49,1378.93 L161.58,1379.05 L160.68,1379.17 L159.80,1379.29 L158.93,1379.41 L158.09,1379.53 L157.28,1379.65 L156.51,1379.78 L155.79,1379.90 L155.11,1380.02 L154.47,1380.14 L153.88,1380.26 L153.34,1380.38 L152.85,1380.50 L152.40,1380.62 L152.00,1380.75 L151.64,1380.87 L151.32,1380.99 L151.04,1381.11 L150.79,1381.23 L150.57,1381.35 L150.39,1381.47 L150.22,1381.59 L150.08,1381.72 L149.97,1381.84 L149.87,1381.96 L149.78,1382.08 L149.71,1382.20 L149.09,1382.20 L149.02,1382.08 L148.93,1381.96 L148.83,1381.84 L148.72,1381.72 L148.58,1381.59 L148.41,1381.47 L148.23,1381.35 L148.01,1381.23 L147.76,1381.11 L147.48,1380.99 L147.16,1380.87 L146.80,1380.75 L146.40,1380.62 L145.95,1380.50 L145.46,1380.38 L144.92,1380.26 L144.33,1380.14 L143.69,1380.02 L143.01,1379.90 L142.29,1379.78 L141.52,1379.65 L140.71,1379.53 L139.87,1379.41 L139.00,1379.29 L138.12,1379.17 L137.22,1379.05 L136.31,1378.93 L135.41,1378.81 L134.53,1378.68 L133.67,1378.56 L132.84,1378.44 L132.06,1378.32 L131.34,1378.20 L130.69,1378.08 L130.11,1377.96 L129.62,1377.84 L129.21,1377.71 L128.91,1377.59 L128.71,1377.47 L128.61,1377.35 L128.60,1377.30 L128.62,1377.23 L128.74,1377.11 L128.97,1376.99 L129.31,1376.87 L129.74,1376.74 L130.27,1376.62 L130.89,1376.50 L131.58,1376.38 L132.33,1376.26 L133.15,1376.14 L134.00,1376.02 L134.89,1375.89 L135.80,1375.77 L136.73,1375.65 L137.65,1375.53 L138.56,1375.41 L139.46,1375.29 L140.33,1375.17 L141.17,1375.05 L141.97,1374.92 L142.73,1374.80 L143.44,1374.68 L144.11,1374.56 L144.73,1374.44 L145.29,1374.32 L145.81,1374.20 L146.28,1374.08 L146.70,1373.95 L147.08,1373.83 L147.41,1373.71 L147.71,1373.59 L147.97,1373.47 L148.20,1373.35 L148.39,1373.23 L148.56,1373.11 L148.70,1372.98 L148.83,1372.86 L148.93,1372.74 L149.02,1372.62 L149.09,1372.50 Z" fill="none" stroke="#000" stroke-width="2.0" stroke-linejoin="round"/>
<line x1="128.60" y1="1377.30" x2="170.20" y2="1377.30" stroke="#000" stroke-width="2.0" />
<path d="M249.90,1280.50 L249.97,1281.40 L250.05,1282.30 L250.15,1283.20 L250.27,1284.11 L250.40,1285.01 L250.56,1285.91 L250.75,1286.81 L250.96,1287.71 L251.21,1288.61 L251.49,1289.51 L251.81,1290.41 L252.17,1291.32 L252.57,1292.22 L253.01,1293.12 L253.50,1294.02 L254.04,1294.92 L254.62,1295.82 L255.25,1296.72 L255.93,1297.62 L256.65,1298.53 L257.41,1299.43 L258.21,1300.33 L259.04,1301.23 L259.89,1302.13 L260.76,1303.03 L261.64,1303.93 L262.53,1304.83 L263.40,1305.73 L264.25,1306.64 L265.08,1307.54 L265.86,1308.44 L266.60,1309.34 L267.27,1310.24 L267.88,1311.14 L268.40,1312.04 L268.84,1312.94 L269.18,1313.85 L269.42,1314.75 L269.56,1315.65 L269.60,1316.40 L269.60,1316.55 L269.53,1317.45 L269.36,1318.35 L269.08,1319.25 L268.72,1320.15 L268.26,1321.06 L267.71,1321.96 L267.09,1322.86 L266.41,1323.76 L265.67,1324.66 L264.88,1325.56 L264.05,1326.46 L263.20,1327.37 L262.33,1328.27 L261.45,1329.17 L260.58,1330.07 L259.72,1330.97 L258.88,1331.87 L258.06,1332.77 L257.28,1333.67 L256.53,1334.57 L255.82,1335.48 L255.16,1336.38 L254.54,1337.28 L253.96,1338.18 L253.44,1339.08 L252.96,1339.98 L252.52,1340.88 L252.13,1341.78 L251.78,1342.69 L251.47,1343.59 L251.19,1344.49 L250.95,1345.39 L250.74,1346.29 L250.55,1347.19 L250.40,1348.09 L250.26,1348.99 L250.15,1349.90 L250.05,1350.80 L249.97,1351.70 L249.90,1352.60 L249.30,1352.60 L249.23,1351.70 L249.15,1350.80 L249.05,1349.90 L248.94,1348.99 L248.80,1348.09 L248.65,1347.19 L248.46,1346.29 L248.25,1345.39 L248.01,1344.49 L247.73,1343.59 L247.42,1342.69 L247.07,1341.78 L246.68,1340.88 L246.24,1339.98 L245.76,1339.08 L245.24,1338.18 L244.66,1337.28 L244.04,1336.38 L243.38,1335.48 L242.67,1334.57 L241.92,1333.67 L241.14,1332.77 L240.32,1331.87 L239.48,1330.97 L238.62,1330.07 L237.75,1329.17 L236.87,1328.27 L236.00,1327.37 L235.15,1326.46 L234.32,1325.56 L233.53,1324.66 L232.79,1323.76 L232.11,1322.86 L231.49,1321.96 L230.94,1321.06 L230.48,1320.15 L230.12,1319.25 L229.84,1318.35 L229.67,1317.45 L229.60,1316.55 L229.60,1316.40 L229.64,1315.65 L229.78,1314.75 L230.02,1313.85 L230.36,1312.94 L230.80,1312.04 L231.32,1311.14 L231.93,1310.24 L232.60,1309.34 L233.34,1308.44 L234.12,1307.54 L234.95,1306.64 L235.80,1305.73 L236.67,1304.83 L237.56,1303.93 L238.44,1303.03 L239.31,1302.13 L240.16,1301.23 L240.99,1300.33 L241.79,1299.43 L242.55,1298.53 L243.27,1297.62 L243.95,1296.72 L244.58,1295.82 L245.16,1294.92 L245.70,1294.02 L246.19,1293.12 L246.63,1292.22 L247.03,1291.32 L247.39,1290.41 L247.71,1289.51 L247.99,1288.61 L248.24,1287.71 L248.45,1286.81 L248.64,1285.91 L248.80,1285.01 L248.93,1284.11 L249.05,1283.20 L249.15,1282.30 L249.23,1281.40 L249.30,1280.50 Z" fill="none" stroke="#000" stroke-width="2.0" stroke-linejoin="round"/>
<line x1="229.60" y1="1316.40" x2="269.60" y2="1316.40" stroke="#000" stroke-width="2.0" />
<path d="M351.30,1203.80 L351.37,1205.38 L351.45,1206.96 L351.55,1208.54 L351.67,1210.12 L351.80,1211.70 L351.96,1213.28 L352.15,1214.86 L352.36,1216.44 L352.61,1218.02 L352.89,1219.60 L353.21,1221.18 L353.57,1222.76 L353.97,1224.34 L354.42,1225.92 L354.91,1227.50 L355.44,1229.08 L356.03,1230.66 L356.66,1232.24 L357.34,1233.82 L358.06,1235.40 L358.82,1236.98 L359.62,1238.56 L360.45,1240.14 L361.30,1241.72 L362.18,1243.30 L363.06,1244.88 L363.94,1246.46 L364.81,1248.04 L365.67,1249.62 L366.49,1251.20 L367.28,1252.78 L368.01,1254.36 L368.68,1255.94 L369.29,1257.52 L369.81,1259.10 L370.24,1260.68 L370.59,1262.26 L370.83,1263.84 L370.97,1265.42 L371.00,1266.70 L371.00,1267.00 L370.93,1268.58 L370.75,1270.16 L370.48,1271.74 L370.11,1273.32 L369.65,1274.90 L369.10,1276.48 L368.48,1278.06 L367.80,1279.64 L367.05,1281.22 L366.26,1282.80 L365.44,1284.38 L364.58,1285.96 L363.72,1287.54 L362.84,1289.12 L361.97,1290.70 L361.11,1292.28 L360.27,1293.86 L359.45,1295.44 L358.67,1297.02 L357.92,1298.60 L357.21,1300.18 L356.55,1301.76 L355.93,1303.34 L355.36,1304.92 L354.83,1306.50 L354.35,1308.08 L353.92,1309.66 L353.53,1311.24 L353.18,1312.82 L352.86,1314.40 L352.59,1315.98 L352.35,1317.56 L352.14,1319.14 L351.95,1320.72 L351.80,1322.30 L351.66,1323.88 L351.55,1325.46 L351.45,1327.04 L351.37,1328.62 L351.30,1330.20 L350.70,1330.20 L350.63,1328.62 L350.55,1327.04 L350.45,1325.46 L350.34,1323.88 L350.20,1322.30 L350.05,1320.72 L349.86,1319.14 L349.65,1317.56 L349.41,1315.98 L349.14,1314.40 L348.82,1312.82 L348.47,1311.24 L348.08,1309.66 L347.65,1308.08 L347.17,1306.50 L346.64,1304.92 L346.07,1303.34 L345.45,1301.76 L344.79,1300.18 L344.08,1298.60 L343.33,1297.02 L342.55,1295.44 L341.73,1293.86 L340.89,1292.28 L340.03,1290.70 L339.16,1289.12 L338.28,1287.54 L337.42,1285.96 L336.56,1284.38 L335.74,1282.80 L334.95,1281.22 L334.20,1279.64 L333.52,1278.06 L332.90,1276.48 L332.35,1274.90 L331.89,1273.32 L331.52,1271.74 L331.25,1270.16 L331.07,1268.58 L331.00,1267.00 L331.00,1266.70 L331.03,1265.42 L331.17,1263.84 L331.41,1262.26 L331.76,1260.68 L332.19,1259.10 L332.71,1257.52 L333.32,1255.94 L333.99,1254.36 L334.72,1252.78 L335.51,1251.20 L336.33,1249.62 L337.19,1248.04 L338.06,1246.46 L338.94,1244.88 L339.82,1243.30 L340.70,1241.72 L341.55,1240.14 L342.38,1238.56 L343.18,1236.98 L343.94,1235.40 L344.66,1233.82 L345.34,1232.24 L345.97,1230.66 L346.56,1229.08 L347.09,1227.50 L347.58,1225.92 L348.03,1224.34 L348.43,1222.76 L348.79,1221.18 L349.11,1219.60 L349.39,1218.02 L349.64,1216.44 L349.85,1214.86 L350.04,1213.28 L350.20,1211.70 L350.33,1210.12 L350.45,1208.54 L350.55,1206.96 L350.63,1205.38 L350.70,1203.80 Z" fill="none" stroke="#000" stroke-width="2.0" stroke-linejoin="round"/>
<line x1="331.00" y1="1266.70" x2="371.00" y2="1266.70" stroke="#000" stroke-width="2.0" />
<path d="M452.40,1184.80 L452.47,1186.50 L452.56,1188.19 L452.66,1189.89 L452.78,1191.59 L452.91,1193.29 L453.07,1194.98 L453.26,1196.68 L453.48,1198.38 L453.73,1200.08 L454.01,1201.77 L454.33,1203.47 L454.69,1205.17 L455.09,1206.87 L455.53,1208.57 L456.02,1210.26 L456.56,1211.96 L457.15,1213.66 L457.78,1215.36 L458.46,1217.05 L459.19,1218.75 L459.95,1220.45 L460.75,1222.14 L461.59,1223.84 L462.45,1225.54 L463.33,1227.24 L464.22,1228.93 L465.11,1230.63 L466.00,1232.33 L466.87,1234.03 L467.71,1235.72 L468.52,1237.42 L469.27,1239.12 L469.97,1240.82 L470.60,1242.51 L471.15,1244.21 L471.62,1245.91 L471.99,1247.61 L472.26,1249.30 L472.43,1251.00 L472.50,1252.70 L472.50,1252.90 L472.46,1254.40 L472.31,1256.10 L472.06,1257.79 L471.70,1259.49 L471.25,1261.19 L470.72,1262.88 L470.10,1264.58 L469.41,1266.28 L468.66,1267.98 L467.86,1269.67 L467.02,1271.37 L466.15,1273.07 L465.26,1274.77 L464.36,1276.46 L463.46,1278.16 L462.57,1279.86 L461.70,1281.56 L460.86,1283.25 L460.05,1284.95 L459.27,1286.65 L458.54,1288.35 L457.85,1290.04 L457.21,1291.74 L456.62,1293.44 L456.07,1295.14 L455.57,1296.84 L455.12,1298.53 L454.71,1300.23 L454.35,1301.93 L454.02,1303.62 L453.74,1305.32 L453.49,1307.02 L453.27,1308.72 L453.08,1310.41 L452.92,1312.11 L452.78,1313.81 L452.66,1315.51 L452.56,1317.20 L452.47,1318.90 L452.40,1320.60 L451.80,1320.60 L451.73,1318.90 L451.64,1317.20 L451.54,1315.51 L451.42,1313.81 L451.28,1312.11 L451.12,1310.41 L450.93,1308.72 L450.71,1307.02 L450.46,1305.32 L450.18,1303.62 L449.85,1301.93 L449.49,1300.23 L449.08,1298.53 L448.63,1296.84 L448.13,1295.14 L447.58,1293.44 L446.99,1291.74 L446.35,1290.04 L445.66,1288.35 L444.93,1286.65 L444.15,1284.95 L443.34,1283.25 L442.50,1281.56 L441.63,1279.86 L440.74,1278.16 L439.84,1276.46 L438.94,1274.77 L438.05,1273.07 L437.18,1271.37 L436.34,1269.67 L435.54,1267.98 L434.79,1266.28 L434.10,1264.58 L433.48,1262.88 L432.95,1261.19 L432.50,1259.49 L432.14,1257.79 L431.89,1256.10 L431.74,1254.40 L431.70,1252.90 L431.70,1252.70 L431.77,1251.00 L431.94,1249.30 L432.21,1247.61 L432.58,1245.91 L433.05,1244.21 L433.60,1242.51 L434.23,1240.82 L434.93,1239.12 L435.68,1237.42 L436.49,1235.72 L437.33,1234.03 L438.20,1232.33 L439.09,1230.63 L439.98,1228.93 L440.87,1227.24 L441.75,1225.54 L442.61,1223.84 L443.45,1222.14 L444.25,1220.45 L445.01,1218.75 L445.74,1217.05 L446.42,1215.36 L447.05,1213.66 L447.64,1211.96 L448.18,1210.26 L448.67,1208.57 L449.11,1206.87 L449.51,1205.17 L449.87,1203.47 L450.19,1201.77 L450.47,1200.08 L450.72,1198.38 L450.94,1196.68 L451.13,1194.98 L451.29,1193.29 L451.42,1191.59 L451.54,1189.89 L451.64,1188.19 L451.73,1186.50 L451.80,1184.80 Z" fill="none" stroke="#000" stroke-width="2.0" stroke-linejoin="round"/>
<line x1="431.70" y1="1252.90" x2="472.50" y2="1252.90" stroke="#000" stroke-width="2.0" />
<path d="M553.70,1192.20 L553.77,1193.67 L553.86,1195.14 L553.96,1196.62 L554.08,1198.09 L554.22,1199.56 L554.38,1201.04 L554.57,1202.51 L554.79,1203.98 L555.04,1205.45 L555.33,1206.92 L555.66,1208.40 L556.03,1209.87 L556.44,1211.34 L556.89,1212.82 L557.39,1214.29 L557.95,1215.76 L558.54,1217.23 L559.19,1218.70 L559.89,1220.18 L560.62,1221.65 L561.40,1223.12 L562.22,1224.60 L563.07,1226.07 L563.94,1227.54 L564.83,1229.01 L565.73,1230.49 L566.63,1231.96 L567.51,1233.43 L568.38,1234.90 L569.22,1236.38 L570.01,1237.85 L570.75,1239.32 L571.43,1240.79 L572.03,1242.27 L572.55,1243.74 L572.99,1245.21 L573.32,1246.68 L573.55,1248.15 L573.68,1249.63 L573.70,1250.60 L573.69,1251.10 L573.61,1252.57 L573.41,1254.05 L573.12,1255.52 L572.74,1256.99 L572.26,1258.46 L571.70,1259.93 L571.06,1261.41 L570.36,1262.88 L569.60,1264.35 L568.80,1265.83 L567.96,1267.30 L567.10,1268.77 L566.22,1270.24 L565.33,1271.71 L564.45,1273.19 L563.58,1274.66 L562.73,1276.13 L561.91,1277.61 L561.12,1279.08 L560.37,1280.55 L559.66,1282.02 L558.99,1283.49 L558.37,1284.97 L557.79,1286.44 L557.26,1287.91 L556.78,1289.38 L556.34,1290.86 L555.95,1292.33 L555.60,1293.80 L555.28,1295.28 L555.00,1296.75 L554.76,1298.22 L554.55,1299.69 L554.36,1301.16 L554.21,1302.64 L554.07,1304.11 L553.95,1305.58 L553.85,1307.06 L553.77,1308.53 L553.70,1310.00 L553.10,1310.00 L553.03,1308.53 L552.95,1307.06 L552.85,1305.58 L552.73,1304.11 L552.59,1302.64 L552.44,1301.16 L552.25,1299.69 L552.04,1298.22 L551.80,1296.75 L551.52,1295.28 L551.20,1293.80 L550.85,1292.33 L550.46,1290.86 L550.02,1289.38 L549.54,1287.91 L549.01,1286.44 L548.43,1284.97 L547.81,1283.49 L547.14,1282.02 L546.43,1280.55 L545.68,1279.08 L544.89,1277.61 L544.07,1276.13 L543.22,1274.66 L542.35,1273.19 L541.47,1271.71 L540.58,1270.24 L539.70,1268.77 L538.84,1267.30 L538.00,1265.83 L537.20,1264.35 L536.44,1262.88 L535.74,1261.41 L535.10,1259.93 L534.54,1258.46 L534.06,1256.99 L533.68,1255.52 L533.39,1254.05 L533.19,1252.57 L533.11,1251.10 L533.10,1250.60 L533.12,1249.63 L533.25,1248.15 L533.48,1246.68 L533.81,1245.21 L534.25,1243.74 L534.77,1242.27 L535.37,1240.79 L536.05,1239.32 L536.79,1237.85 L537.58,1236.38 L538.42,1234.90 L539.29,1233.43 L540.17,1231.96 L541.07,1230.49 L541.97,1229.01 L542.86,1227.54 L543.73,1226.07 L544.58,1224.60 L545.40,1223.12 L546.18,1221.65 L546.91,1220.18 L547.61,1218.70 L548.26,1217.23 L548.85,1215.76 L549.41,1214.29 L549.91,1212.82 L550.36,1211.34 L550.77,1209.87 L551.14,1208.40 L551.47,1206.92 L551.76,1205.45 L552.01,1203.98 L552.23,1202.51 L552.42,1201.04 L552.58,1199.56 L552.72,1198.09 L552.84,1196.62 L552.94,1195.14 L553.03,1193.67 L553.10,1192.20 Z" fill="none" stroke="#000" stroke-width="2.0" stroke-linejoin="round"/>
<line x1="533.10" y1="1250.60" x2="573.70" y2="1250.60" stroke="#000" stroke-width="2.0" />
<text transform="translate(158.10,1356.40) rotate(-90)" font-size="20.6"><tspan font-style="italic">P</tspan> = 0.0001</text>
<text transform="translate(258.50,1259.20) rotate(-90)" font-size="20.6"><tspan font-style="italic">P</tspan> = 0.0001</text>
<text transform="translate(359.30,1192.80) rotate(-90)" font-size="20.6"><tspan font-style="italic">P</tspan> = 0.0002</text>
<text transform="translate(459.70,1168.10) rotate(-90)" font-size="20.6"><tspan font-style="italic">P</tspan> = 0.0001</text>
<text transform="translate(559.20,1171.90) rotate(-90)" font-size="20.6"><tspan font-style="italic">P</tspan> = 0.0001</text>
<text x="712.00" y="1059.00" font-size="33.5" text-anchor="start" font-weight="bold" font-style="normal" fill="#000"  stroke="#000" stroke-width="1.0">g</text>
<line x1="811.30" y1="1093.00" x2="811.30" y2="1448.20" stroke="#000" stroke-width="2.3" />
<line x1="810.30" y1="1447.20" x2="1348.00" y2="1447.20" stroke="#000" stroke-width="2.6" />
<line x1="811.30" y1="1404.10" x2="1348.00" y2="1404.10" stroke="#000" stroke-width="2.0" />
<line x1="803.90" y1="1105.30" x2="811.30" y2="1105.30" stroke="#000" stroke-width="2.0" />
<text transform="translate(799.90,1113.40) scale(1,1.03)" font-size="21.5" text-anchor="end" font-weight="normal" font-style="normal" fill="#000" >100</text>
<line x1="803.90" y1="1255.30" x2="811.30" y2="1255.30" stroke="#000" stroke-width="2.0" />
<text transform="translate(799.90,1263.40) scale(1,1.03)" font-size="21.5" text-anchor="end" font-weight="normal" font-style="normal" fill="#000" >10</text>
<line x1="803.90" y1="1404.10" x2="811.30" y2="1404.10" stroke="#000" stroke-width="2.0" />
<text transform="translate(799.90,1412.20) scale(1,1.03)" font-size="21.5" text-anchor="end" font-weight="normal" font-style="normal" fill="#000" >1</text>
<line x1="880.80" y1="1447.20" x2="880.80" y2="1456.20" stroke="#000" stroke-width="2.3" />
<text transform="translate(880.80,1483.30) scale(1,1.04)" font-size="21.5" text-anchor="middle" font-weight="normal" font-style="normal" fill="#000" >1</text>
<line x1="979.90" y1="1447.20" x2="979.90" y2="1456.20" stroke="#000" stroke-width="2.3" />
<text transform="translate(979.90,1483.30) scale(1,1.04)" font-size="21.5" text-anchor="middle" font-weight="normal" font-style="normal" fill="#000" >2</text>
<line x1="1079.00" y1="1447.20" x2="1079.00" y2="1456.20" stroke="#000" stroke-width="2.3" />
<text transform="translate(1079.00,1483.30) scale(1,1.04)" font-size="21.5" text-anchor="middle" font-weight="normal" font-style="normal" fill="#000" >3</text>
<line x1="1178.10" y1="1447.20" x2="1178.10" y2="1456.20" stroke="#000" stroke-width="2.3" />
<text transform="translate(1178.10,1483.30) scale(1,1.04)" font-size="21.5" text-anchor="middle" font-weight="normal" font-style="normal" fill="#000" >4</text>
<line x1="1277.20" y1="1447.20" x2="1277.20" y2="1456.20" stroke="#000" stroke-width="2.3" />
<text transform="translate(1277.20,1483.30) scale(1,1.04)" font-size="21.5" text-anchor="middle" font-weight="normal" font-style="normal" fill="#000" >5</text>
<text x="765.50" y="1483.30" font-size="23.3" text-anchor="start" font-weight="normal" font-style="normal" fill="#000" >dpi</text>
<text transform="translate(750.50,1394.20) rotate(-90)" font-size="22.3" text-anchor="start" >Relative replicative fitness</text>
<text x="1079.20" y="1076.20" font-size="22.7" text-anchor="middle" font-weight="normal" font-style="normal" fill="#000" >D614:G614</text>
<text x="1079.20" y="1102.10" font-size="22.7" text-anchor="middle" font-weight="normal" font-style="normal" fill="#000" >9:1</text>
<clipPath id="v8808_13645"><path d="M881.10,1364.50 L881.17,1364.97 L881.25,1365.44 L881.35,1365.91 L881.47,1366.38 L881.61,1366.84 L881.78,1367.31 L881.97,1367.78 L882.19,1368.25 L882.45,1368.72 L882.74,1369.19 L883.06,1369.66 L883.43,1370.12 L883.85,1370.59 L884.31,1371.06 L884.82,1371.53 L885.37,1372.00 L885.98,1372.47 L886.63,1372.94 L887.33,1373.41 L888.07,1373.88 L888.86,1374.34 L889.68,1374.81 L890.53,1375.28 L891.40,1375.75 L892.29,1376.22 L893.18,1376.69 L894.08,1377.16 L894.96,1377.62 L895.81,1378.09 L896.63,1378.56 L897.41,1379.03 L898.13,1379.50 L898.78,1379.97 L899.35,1380.44 L899.84,1380.91 L900.23,1381.38 L900.52,1381.84 L900.71,1382.31 L900.80,1382.78 L900.80,1382.90 L900.77,1383.25 L900.65,1383.72 L900.42,1384.19 L900.10,1384.66 L899.69,1385.12 L899.20,1385.59 L898.62,1386.06 L897.98,1386.53 L897.28,1387.00 L896.52,1387.47 L895.73,1387.94 L894.90,1388.41 L894.05,1388.88 L893.19,1389.34 L892.33,1389.81 L891.47,1390.28 L890.63,1390.75 L889.81,1391.22 L889.01,1391.69 L888.25,1392.16 L887.52,1392.62 L886.84,1393.09 L886.19,1393.56 L885.59,1394.03 L885.04,1394.50 L884.53,1394.97 L884.07,1395.44 L883.65,1395.91 L883.27,1396.38 L882.93,1396.84 L882.62,1397.31 L882.36,1397.78 L882.12,1398.25 L881.92,1398.72 L881.74,1399.19 L881.59,1399.66 L881.45,1400.12 L881.34,1400.59 L881.25,1401.06 L881.17,1401.53 L881.10,1402.00 L880.50,1402.00 L880.43,1401.53 L880.35,1401.06 L880.26,1400.59 L880.15,1400.12 L880.01,1399.66 L879.86,1399.19 L879.68,1398.72 L879.48,1398.25 L879.24,1397.78 L878.98,1397.31 L878.67,1396.84 L878.33,1396.38 L877.95,1395.91 L877.53,1395.44 L877.07,1394.97 L876.56,1394.50 L876.01,1394.03 L875.41,1393.56 L874.76,1393.09 L874.08,1392.62 L873.35,1392.16 L872.59,1391.69 L871.79,1391.22 L870.97,1390.75 L870.13,1390.28 L869.27,1389.81 L868.41,1389.34 L867.55,1388.88 L866.70,1388.41 L865.87,1387.94 L865.08,1387.47 L864.32,1387.00 L863.62,1386.53 L862.98,1386.06 L862.40,1385.59 L861.91,1385.12 L861.50,1384.66 L861.18,1384.19 L860.95,1383.72 L860.83,1383.25 L860.80,1382.90 L860.80,1382.78 L860.89,1382.31 L861.08,1381.84 L861.37,1381.38 L861.76,1380.91 L862.25,1380.44 L862.82,1379.97 L863.47,1379.50 L864.19,1379.03 L864.97,1378.56 L865.79,1378.09 L866.64,1377.62 L867.52,1377.16 L868.42,1376.69 L869.31,1376.22 L870.20,1375.75 L871.07,1375.28 L871.92,1374.81 L872.74,1374.34 L873.53,1373.88 L874.27,1373.41 L874.97,1372.94 L875.62,1372.47 L876.23,1372.00 L876.78,1371.53 L877.29,1371.06 L877.75,1370.59 L878.17,1370.12 L878.54,1369.66 L878.86,1369.19 L879.15,1368.72 L879.41,1368.25 L879.63,1367.78 L879.82,1367.31 L879.99,1366.84 L880.13,1366.38 L880.25,1365.91 L880.35,1365.44 L880.43,1364.97 L880.50,1364.50 Z"/></clipPath>
<rect x="858.80" y="1377.40" width="44.00" height="11.30" fill="#cdcdcd" clip-path="url(#v8808_13645)"/>
<clipPath id="v9799_13057"><path d="M980.20,1305.70 L980.27,1306.63 L980.35,1307.57 L980.45,1308.50 L980.57,1309.43 L980.71,1310.37 L980.87,1311.30 L981.06,1312.24 L981.28,1313.17 L981.53,1314.10 L981.81,1315.04 L982.13,1315.97 L982.49,1316.90 L982.90,1317.84 L983.34,1318.77 L983.84,1319.71 L984.38,1320.64 L984.97,1321.57 L985.61,1322.51 L986.29,1323.44 L987.02,1324.38 L987.79,1325.31 L988.59,1326.24 L989.43,1327.18 L990.29,1328.11 L991.17,1329.04 L992.06,1329.98 L992.95,1330.91 L993.83,1331.85 L994.70,1332.78 L995.53,1333.71 L996.32,1334.65 L997.06,1335.58 L997.75,1336.51 L998.36,1337.45 L998.88,1338.38 L999.33,1339.32 L999.67,1340.25 L999.92,1341.18 L1000.06,1342.12 L1000.10,1342.90 L1000.10,1343.05 L1000.03,1343.98 L999.86,1344.92 L999.58,1345.85 L999.21,1346.79 L998.75,1347.72 L998.20,1348.65 L997.57,1349.59 L996.88,1350.52 L996.13,1351.45 L995.33,1352.39 L994.50,1353.32 L993.64,1354.26 L992.76,1355.19 L991.88,1356.12 L990.99,1357.06 L990.12,1357.99 L989.27,1358.92 L988.45,1359.86 L987.66,1360.79 L986.90,1361.73 L986.19,1362.66 L985.51,1363.59 L984.89,1364.53 L984.31,1365.46 L983.78,1366.39 L983.29,1367.33 L982.85,1368.26 L982.46,1369.20 L982.10,1370.13 L981.79,1371.06 L981.51,1372.00 L981.26,1372.93 L981.05,1373.86 L980.86,1374.80 L980.70,1375.73 L980.57,1376.67 L980.45,1377.60 L980.35,1378.53 L980.27,1379.47 L980.20,1380.40 L979.60,1380.40 L979.53,1379.47 L979.45,1378.53 L979.35,1377.60 L979.23,1376.67 L979.10,1375.73 L978.94,1374.80 L978.75,1373.86 L978.54,1372.93 L978.29,1372.00 L978.01,1371.06 L977.70,1370.13 L977.34,1369.20 L976.95,1368.26 L976.51,1367.33 L976.02,1366.39 L975.49,1365.46 L974.91,1364.53 L974.29,1363.59 L973.61,1362.66 L972.90,1361.73 L972.14,1360.79 L971.35,1359.86 L970.53,1358.92 L969.68,1357.99 L968.81,1357.06 L967.92,1356.12 L967.04,1355.19 L966.16,1354.26 L965.30,1353.32 L964.47,1352.39 L963.67,1351.45 L962.92,1350.52 L962.23,1349.59 L961.60,1348.65 L961.05,1347.72 L960.59,1346.79 L960.22,1345.85 L959.94,1344.92 L959.77,1343.98 L959.70,1343.05 L959.70,1342.90 L959.74,1342.12 L959.88,1341.18 L960.13,1340.25 L960.47,1339.32 L960.92,1338.38 L961.44,1337.45 L962.05,1336.51 L962.74,1335.58 L963.48,1334.65 L964.27,1333.71 L965.10,1332.78 L965.97,1331.85 L966.85,1330.91 L967.74,1329.98 L968.63,1329.04 L969.51,1328.11 L970.37,1327.18 L971.21,1326.24 L972.01,1325.31 L972.78,1324.38 L973.51,1323.44 L974.19,1322.51 L974.83,1321.57 L975.42,1320.64 L975.96,1319.71 L976.46,1318.77 L976.90,1317.84 L977.31,1316.90 L977.67,1315.97 L977.99,1315.04 L978.27,1314.10 L978.52,1313.17 L978.74,1312.24 L978.93,1311.30 L979.09,1310.37 L979.23,1309.43 L979.35,1308.50 L979.45,1307.57 L979.53,1306.63 L979.60,1305.70 Z"/></clipPath>
<rect x="957.70" y="1331.30" width="44.40" height="23.00" fill="#cdcdcd" clip-path="url(#v9799_13057)"/>
<clipPath id="v10790_12590"><path d="M1079.30,1259.00 L1079.37,1260.17 L1079.45,1261.35 L1079.55,1262.52 L1079.67,1263.69 L1079.80,1264.86 L1079.96,1266.04 L1080.15,1267.21 L1080.36,1268.38 L1080.60,1269.55 L1080.88,1270.72 L1081.20,1271.90 L1081.55,1273.07 L1081.95,1274.24 L1082.39,1275.41 L1082.87,1276.59 L1083.40,1277.76 L1083.98,1278.93 L1084.61,1280.11 L1085.28,1281.28 L1085.99,1282.45 L1086.75,1283.62 L1087.54,1284.80 L1088.36,1285.97 L1089.21,1287.14 L1090.08,1288.31 L1090.96,1289.48 L1091.84,1290.66 L1092.72,1291.83 L1093.57,1293.00 L1094.40,1294.17 L1095.20,1295.35 L1095.94,1296.52 L1096.63,1297.69 L1097.24,1298.87 L1097.78,1300.04 L1098.24,1301.21 L1098.61,1302.38 L1098.87,1303.56 L1099.04,1304.73 L1099.10,1305.90 L1099.10,1306.00 L1099.06,1307.07 L1098.91,1308.24 L1098.65,1309.42 L1098.30,1310.59 L1097.86,1311.76 L1097.33,1312.93 L1096.72,1314.11 L1096.04,1315.28 L1095.30,1316.45 L1094.51,1317.62 L1093.68,1318.80 L1092.82,1319.97 L1091.94,1321.14 L1091.06,1322.32 L1090.17,1323.49 L1089.30,1324.66 L1088.45,1325.83 L1087.62,1327.00 L1086.82,1328.18 L1086.06,1329.35 L1085.34,1330.52 L1084.66,1331.69 L1084.03,1332.87 L1083.44,1334.04 L1082.91,1335.21 L1082.42,1336.38 L1081.97,1337.56 L1081.57,1338.73 L1081.21,1339.90 L1080.89,1341.08 L1080.61,1342.25 L1080.37,1343.42 L1080.15,1344.59 L1079.97,1345.76 L1079.81,1346.94 L1079.67,1348.11 L1079.55,1349.28 L1079.45,1350.45 L1079.37,1351.63 L1079.30,1352.80 L1078.70,1352.80 L1078.63,1351.63 L1078.55,1350.45 L1078.45,1349.28 L1078.33,1348.11 L1078.19,1346.94 L1078.03,1345.76 L1077.85,1344.59 L1077.63,1343.42 L1077.39,1342.25 L1077.11,1341.08 L1076.79,1339.90 L1076.43,1338.73 L1076.03,1337.56 L1075.58,1336.38 L1075.09,1335.21 L1074.56,1334.04 L1073.97,1332.87 L1073.34,1331.69 L1072.66,1330.52 L1071.94,1329.35 L1071.18,1328.18 L1070.38,1327.00 L1069.55,1325.83 L1068.70,1324.66 L1067.83,1323.49 L1066.94,1322.32 L1066.06,1321.14 L1065.18,1319.97 L1064.32,1318.80 L1063.49,1317.62 L1062.70,1316.45 L1061.96,1315.28 L1061.28,1314.11 L1060.67,1312.93 L1060.14,1311.76 L1059.70,1310.59 L1059.35,1309.42 L1059.09,1308.24 L1058.94,1307.07 L1058.90,1306.00 L1058.90,1305.90 L1058.96,1304.73 L1059.13,1303.56 L1059.39,1302.38 L1059.76,1301.21 L1060.22,1300.04 L1060.76,1298.87 L1061.37,1297.69 L1062.06,1296.52 L1062.80,1295.35 L1063.60,1294.17 L1064.43,1293.00 L1065.28,1291.83 L1066.16,1290.66 L1067.04,1289.48 L1067.92,1288.31 L1068.79,1287.14 L1069.64,1285.97 L1070.46,1284.80 L1071.25,1283.62 L1072.01,1282.45 L1072.72,1281.28 L1073.39,1280.11 L1074.02,1278.93 L1074.60,1277.76 L1075.13,1276.59 L1075.61,1275.41 L1076.05,1274.24 L1076.45,1273.07 L1076.80,1271.90 L1077.12,1270.72 L1077.40,1269.55 L1077.64,1268.38 L1077.85,1267.21 L1078.04,1266.04 L1078.20,1264.86 L1078.33,1263.69 L1078.45,1262.52 L1078.55,1261.35 L1078.63,1260.17 L1078.70,1259.00 Z"/></clipPath>
<rect x="1056.90" y="1291.30" width="44.20" height="29.20" fill="#cdcdcd" clip-path="url(#v10790_12590)"/>
<clipPath id="v11783_12590"><path d="M1178.60,1259.00 L1178.67,1260.17 L1178.76,1261.35 L1178.86,1262.52 L1178.97,1263.69 L1179.11,1264.86 L1179.27,1266.04 L1179.46,1267.21 L1179.67,1268.38 L1179.92,1269.55 L1180.20,1270.72 L1180.52,1271.90 L1180.88,1273.07 L1181.28,1274.24 L1181.72,1275.41 L1182.21,1276.59 L1182.75,1277.76 L1183.33,1278.93 L1183.96,1280.11 L1184.64,1281.28 L1185.36,1282.45 L1186.13,1283.62 L1186.93,1284.80 L1187.76,1285.97 L1188.61,1287.14 L1189.49,1288.31 L1190.38,1289.48 L1191.27,1290.66 L1192.15,1291.83 L1193.02,1293.00 L1193.86,1294.17 L1194.66,1295.35 L1195.41,1296.52 L1196.10,1297.69 L1196.73,1298.87 L1197.27,1300.04 L1197.73,1301.21 L1198.10,1302.38 L1198.37,1303.56 L1198.54,1304.73 L1198.60,1305.90 L1198.60,1306.00 L1198.56,1307.07 L1198.40,1308.24 L1198.15,1309.42 L1197.80,1310.59 L1197.35,1311.76 L1196.81,1312.93 L1196.19,1314.11 L1195.51,1315.28 L1194.76,1316.45 L1193.96,1317.62 L1193.12,1318.80 L1192.26,1319.97 L1191.37,1321.14 L1190.48,1322.32 L1189.59,1323.49 L1188.70,1324.66 L1187.84,1325.83 L1187.00,1327.00 L1186.20,1328.18 L1185.43,1329.35 L1184.70,1330.52 L1184.01,1331.69 L1183.38,1332.87 L1182.79,1334.04 L1182.24,1335.21 L1181.75,1336.38 L1181.30,1337.56 L1180.90,1338.73 L1180.53,1339.90 L1180.21,1341.08 L1179.93,1342.25 L1179.68,1343.42 L1179.46,1344.59 L1179.28,1345.76 L1179.11,1346.94 L1178.97,1348.11 L1178.86,1349.28 L1178.76,1350.45 L1178.67,1351.63 L1178.60,1352.80 L1178.00,1352.80 L1177.93,1351.63 L1177.84,1350.45 L1177.74,1349.28 L1177.63,1348.11 L1177.49,1346.94 L1177.32,1345.76 L1177.14,1344.59 L1176.92,1343.42 L1176.67,1342.25 L1176.39,1341.08 L1176.07,1339.90 L1175.70,1338.73 L1175.30,1337.56 L1174.85,1336.38 L1174.36,1335.21 L1173.81,1334.04 L1173.22,1332.87 L1172.59,1331.69 L1171.90,1330.52 L1171.17,1329.35 L1170.40,1328.18 L1169.60,1327.00 L1168.76,1325.83 L1167.90,1324.66 L1167.01,1323.49 L1166.12,1322.32 L1165.23,1321.14 L1164.34,1319.97 L1163.48,1318.80 L1162.64,1317.62 L1161.84,1316.45 L1161.09,1315.28 L1160.41,1314.11 L1159.79,1312.93 L1159.25,1311.76 L1158.80,1310.59 L1158.45,1309.42 L1158.20,1308.24 L1158.04,1307.07 L1158.00,1306.00 L1158.00,1305.90 L1158.06,1304.73 L1158.23,1303.56 L1158.50,1302.38 L1158.87,1301.21 L1159.33,1300.04 L1159.87,1298.87 L1160.50,1297.69 L1161.19,1296.52 L1161.94,1295.35 L1162.74,1294.17 L1163.58,1293.00 L1164.45,1291.83 L1165.33,1290.66 L1166.22,1289.48 L1167.11,1288.31 L1167.99,1287.14 L1168.84,1285.97 L1169.67,1284.80 L1170.47,1283.62 L1171.24,1282.45 L1171.96,1281.28 L1172.64,1280.11 L1173.27,1278.93 L1173.85,1277.76 L1174.39,1276.59 L1174.88,1275.41 L1175.32,1274.24 L1175.72,1273.07 L1176.08,1271.90 L1176.40,1270.72 L1176.68,1269.55 L1176.93,1268.38 L1177.14,1267.21 L1177.33,1266.04 L1177.49,1264.86 L1177.63,1263.69 L1177.74,1262.52 L1177.84,1261.35 L1177.93,1260.17 L1178.00,1259.00 Z"/></clipPath>
<rect x="1156.00" y="1291.30" width="44.60" height="29.20" fill="#cdcdcd" clip-path="url(#v11783_12590)"/>
<clipPath id="v12773_12461"><path d="M1277.60,1246.10 L1277.67,1247.37 L1277.76,1248.64 L1277.86,1249.91 L1277.97,1251.17 L1278.11,1252.44 L1278.27,1253.71 L1278.46,1254.98 L1278.68,1256.25 L1278.93,1257.52 L1279.21,1258.79 L1279.53,1260.06 L1279.89,1261.32 L1280.29,1262.59 L1280.74,1263.86 L1281.24,1265.13 L1281.78,1266.40 L1282.37,1267.67 L1283.00,1268.94 L1283.68,1270.21 L1284.41,1271.47 L1285.18,1272.74 L1285.98,1274.01 L1286.82,1275.28 L1287.68,1276.55 L1288.56,1277.82 L1289.45,1279.09 L1290.34,1280.36 L1291.23,1281.62 L1292.09,1282.89 L1292.93,1284.16 L1293.73,1285.43 L1294.48,1286.70 L1295.17,1287.97 L1295.79,1289.24 L1296.33,1290.51 L1296.78,1291.77 L1297.14,1293.04 L1297.40,1294.31 L1297.55,1295.58 L1297.60,1296.80 L1297.60,1296.85 L1297.54,1298.12 L1297.38,1299.39 L1297.11,1300.66 L1296.75,1301.92 L1296.29,1303.19 L1295.75,1304.46 L1295.13,1305.73 L1294.43,1307.00 L1293.68,1308.27 L1292.88,1309.54 L1292.05,1310.81 L1291.18,1312.07 L1290.30,1313.34 L1289.41,1314.61 L1288.52,1315.88 L1287.64,1317.15 L1286.78,1318.42 L1285.95,1319.69 L1285.14,1320.96 L1284.38,1322.22 L1283.66,1323.49 L1282.98,1324.76 L1282.34,1326.03 L1281.76,1327.30 L1281.22,1328.57 L1280.73,1329.84 L1280.28,1331.11 L1279.88,1332.38 L1279.52,1333.64 L1279.20,1334.91 L1278.92,1336.18 L1278.67,1337.45 L1278.46,1338.72 L1278.27,1339.99 L1278.11,1341.26 L1277.97,1342.52 L1277.86,1343.79 L1277.76,1345.06 L1277.67,1346.33 L1277.60,1347.60 L1277.00,1347.60 L1276.93,1346.33 L1276.84,1345.06 L1276.74,1343.79 L1276.63,1342.52 L1276.49,1341.26 L1276.33,1339.99 L1276.14,1338.72 L1275.93,1337.45 L1275.68,1336.18 L1275.40,1334.91 L1275.08,1333.64 L1274.72,1332.38 L1274.32,1331.11 L1273.87,1329.84 L1273.38,1328.57 L1272.84,1327.30 L1272.26,1326.03 L1271.62,1324.76 L1270.94,1323.49 L1270.22,1322.22 L1269.46,1320.96 L1268.65,1319.69 L1267.82,1318.42 L1266.96,1317.15 L1266.08,1315.88 L1265.19,1314.61 L1264.30,1313.34 L1263.42,1312.07 L1262.55,1310.81 L1261.72,1309.54 L1260.92,1308.27 L1260.17,1307.00 L1259.47,1305.73 L1258.85,1304.46 L1258.31,1303.19 L1257.85,1301.92 L1257.49,1300.66 L1257.22,1299.39 L1257.06,1298.12 L1257.00,1296.85 L1257.00,1296.80 L1257.05,1295.58 L1257.20,1294.31 L1257.46,1293.04 L1257.82,1291.77 L1258.27,1290.51 L1258.81,1289.24 L1259.43,1287.97 L1260.12,1286.70 L1260.87,1285.43 L1261.67,1284.16 L1262.51,1282.89 L1263.37,1281.62 L1264.26,1280.36 L1265.15,1279.09 L1266.04,1277.82 L1266.92,1276.55 L1267.78,1275.28 L1268.62,1274.01 L1269.42,1272.74 L1270.19,1271.47 L1270.92,1270.21 L1271.60,1268.94 L1272.23,1267.67 L1272.82,1266.40 L1273.36,1265.13 L1273.86,1263.86 L1274.31,1262.59 L1274.71,1261.32 L1275.07,1260.06 L1275.39,1258.79 L1275.67,1257.52 L1275.92,1256.25 L1276.14,1254.98 L1276.33,1253.71 L1276.49,1252.44 L1276.63,1251.17 L1276.74,1249.91 L1276.84,1248.64 L1276.93,1247.37 L1277.00,1246.10 Z"/></clipPath>
<rect x="1255.00" y="1280.50" width="44.60" height="32.30" fill="#cdcdcd" clip-path="url(#v12773_12461)"/>
<circle cx="895.80" cy="1352.80" r="2.2" fill="none" stroke="#f00000" stroke-width="1.8"/>
<circle cx="898.90" cy="1373.40" r="2.2" fill="none" stroke="#f00000" stroke-width="1.8"/>
<circle cx="889.10" cy="1377.40" r="2.2" fill="none" stroke="#f00000" stroke-width="1.8"/>
<circle cx="871.20" cy="1388.70" r="2.2" fill="none" stroke="#f00000" stroke-width="1.8"/>
<circle cx="898.90" cy="1398.00" r="2.2" fill="none" stroke="#f00000" stroke-width="1.8"/>
<circle cx="899.80" cy="1406.60" r="2.2" fill="none" stroke="#f00000" stroke-width="1.8"/>
<circle cx="983.40" cy="1298.40" r="2.2" fill="none" stroke="#f00000" stroke-width="1.8"/>
<circle cx="977.30" cy="1313.40" r="2.2" fill="none" stroke="#f00000" stroke-width="1.8"/>
<circle cx="988.00" cy="1335.30" r="2.2" fill="none" stroke="#f00000" stroke-width="1.8"/>
<circle cx="973.00" cy="1349.10" r="2.2" fill="none" stroke="#f00000" stroke-width="1.8"/>
<circle cx="989.60" cy="1372.10" r="2.2" fill="none" stroke="#f00000" stroke-width="1.8"/>
<circle cx="998.20" cy="1392.70" r="2.2" fill="none" stroke="#f00000" stroke-width="1.8"/>
<circle cx="1062.10" cy="1252.00" r="2.2" fill="none" stroke="#f00000" stroke-width="1.8"/>
<circle cx="1076.30" cy="1269.80" r="2.2" fill="none" stroke="#f00000" stroke-width="1.8"/>
<circle cx="1089.20" cy="1286.10" r="2.2" fill="none" stroke="#f00000" stroke-width="1.8"/>
<circle cx="1085.20" cy="1306.00" r="2.2" fill="none" stroke="#f00000" stroke-width="1.8"/>
<circle cx="1086.10" cy="1334.30" r="2.2" fill="none" stroke="#f00000" stroke-width="1.8"/>
<circle cx="1064.60" cy="1382.90" r="2.2" fill="none" stroke="#f00000" stroke-width="1.8"/>
<circle cx="1167.60" cy="1274.40" r="2.2" fill="none" stroke="#f00000" stroke-width="1.8"/>
<circle cx="1179.90" cy="1265.80" r="2.2" fill="none" stroke="#f00000" stroke-width="1.8"/>
<circle cx="1194.30" cy="1281.20" r="2.2" fill="none" stroke="#f00000" stroke-width="1.8"/>
<circle cx="1193.70" cy="1291.30" r="2.2" fill="none" stroke="#f00000" stroke-width="1.8"/>
<circle cx="1192.20" cy="1348.20" r="2.2" fill="none" stroke="#f00000" stroke-width="1.8"/>
<circle cx="1190.00" cy="1373.40" r="2.2" fill="none" stroke="#f00000" stroke-width="1.8"/>
<circle cx="1278.80" cy="1235.30" r="2.2" fill="none" stroke="#f00000" stroke-width="1.8"/>
<circle cx="1273.00" cy="1250.40" r="2.2" fill="none" stroke="#f00000" stroke-width="1.8"/>
<circle cx="1260.40" cy="1278.40" r="2.2" fill="none" stroke="#f00000" stroke-width="1.8"/>
<circle cx="1267.50" cy="1322.00" r="2.2" fill="none" stroke="#f00000" stroke-width="1.8"/>
<circle cx="1296.70" cy="1327.60" r="2.2" fill="none" stroke="#f00000" stroke-width="1.8"/>
<circle cx="1268.40" cy="1368.80" r="2.2" fill="none" stroke="#f00000" stroke-width="1.8"/>
<path d="M881.10,1364.50 L881.17,1364.97 L881.25,1365.44 L881.35,1365.91 L881.47,1366.38 L881.61,1366.84 L881.78,1367.31 L881.97,1367.78 L882.19,1368.25 L882.45,1368.72 L882.74,1369.19 L883.06,1369.66 L883.43,1370.12 L883.85,1370.59 L884.31,1371.06 L884.82,1371.53 L885.37,1372.00 L885.98,1372.47 L886.63,1372.94 L887.33,1373.41 L888.07,1373.88 L888.86,1374.34 L889.68,1374.81 L890.53,1375.28 L891.40,1375.75 L892.29,1376.22 L893.18,1376.69 L894.08,1377.16 L894.96,1377.62 L895.81,1378.09 L896.63,1378.56 L897.41,1379.03 L898.13,1379.50 L898.78,1379.97 L899.35,1380.44 L899.84,1380.91 L900.23,1381.38 L900.52,1381.84 L900.71,1382.31 L900.80,1382.78 L900.80,1382.90 L900.77,1383.25 L900.65,1383.72 L900.42,1384.19 L900.10,1384.66 L899.69,1385.12 L899.20,1385.59 L898.62,1386.06 L897.98,1386.53 L897.28,1387.00 L896.52,1387.47 L895.73,1387.94 L894.90,1388.41 L894.05,1388.88 L893.19,1389.34 L892.33,1389.81 L891.47,1390.28 L890.63,1390.75 L889.81,1391.22 L889.01,1391.69 L888.25,1392.16 L887.52,1392.62 L886.84,1393.09 L886.19,1393.56 L885.59,1394.03 L885.04,1394.50 L884.53,1394.97 L884.07,1395.44 L883.65,1395.91 L883.27,1396.38 L882.93,1396.84 L882.62,1397.31 L882.36,1397.78 L882.12,1398.25 L881.92,1398.72 L881.74,1399.19 L881.59,1399.66 L881.45,1400.12 L881.34,1400.59 L881.25,1401.06 L881.17,1401.53 L881.10,1402.00 L880.50,1402.00 L880.43,1401.53 L880.35,1401.06 L880.26,1400.59 L880.15,1400.12 L880.01,1399.66 L879.86,1399.19 L879.68,1398.72 L879.48,1398.25 L879.24,1397.78 L878.98,1397.31 L878.67,1396.84 L878.33,1396.38 L877.95,1395.91 L877.53,1395.44 L877.07,1394.97 L876.56,1394.50 L876.01,1394.03 L875.41,1393.56 L874.76,1393.09 L874.08,1392.62 L873.35,1392.16 L872.59,1391.69 L871.79,1391.22 L870.97,1390.75 L870.13,1390.28 L869.27,1389.81 L868.41,1389.34 L867.55,1388.88 L866.70,1388.41 L865.87,1387.94 L865.08,1387.47 L864.32,1387.00 L863.62,1386.53 L862.98,1386.06 L862.40,1385.59 L861.91,1385.12 L861.50,1384.66 L861.18,1384.19 L860.95,1383.72 L860.83,1383.25 L860.80,1382.90 L860.80,1382.78 L860.89,1382.31 L861.08,1381.84 L861.37,1381.38 L861.76,1380.91 L862.25,1380.44 L862.82,1379.97 L863.47,1379.50 L864.19,1379.03 L864.97,1378.56 L865.79,1378.09 L866.64,1377.62 L867.52,1377.16 L868.42,1376.69 L869.31,1376.22 L870.20,1375.75 L871.07,1375.28 L871.92,1374.81 L872.74,1374.34 L873.53,1373.88 L874.27,1373.41 L874.97,1372.94 L875.62,1372.47 L876.23,1372.00 L876.78,1371.53 L877.29,1371.06 L877.75,1370.59 L878.17,1370.12 L878.54,1369.66 L878.86,1369.19 L879.15,1368.72 L879.41,1368.25 L879.63,1367.78 L879.82,1367.31 L879.99,1366.84 L880.13,1366.38 L880.25,1365.91 L880.35,1365.44 L880.43,1364.97 L880.50,1364.50 Z" fill="none" stroke="#000" stroke-width="2.0" stroke-linejoin="round"/>
<line x1="860.80" y1="1382.90" x2="900.80" y2="1382.90" stroke="#000" stroke-width="2.0" />
<path d="M980.20,1305.70 L980.27,1306.63 L980.35,1307.57 L980.45,1308.50 L980.57,1309.43 L980.71,1310.37 L980.87,1311.30 L981.06,1312.24 L981.28,1313.17 L981.53,1314.10 L981.81,1315.04 L982.13,1315.97 L982.49,1316.90 L982.90,1317.84 L983.34,1318.77 L983.84,1319.71 L984.38,1320.64 L984.97,1321.57 L985.61,1322.51 L986.29,1323.44 L987.02,1324.38 L987.79,1325.31 L988.59,1326.24 L989.43,1327.18 L990.29,1328.11 L991.17,1329.04 L992.06,1329.98 L992.95,1330.91 L993.83,1331.85 L994.70,1332.78 L995.53,1333.71 L996.32,1334.65 L997.06,1335.58 L997.75,1336.51 L998.36,1337.45 L998.88,1338.38 L999.33,1339.32 L999.67,1340.25 L999.92,1341.18 L1000.06,1342.12 L1000.10,1342.90 L1000.10,1343.05 L1000.03,1343.98 L999.86,1344.92 L999.58,1345.85 L999.21,1346.79 L998.75,1347.72 L998.20,1348.65 L997.57,1349.59 L996.88,1350.52 L996.13,1351.45 L995.33,1352.39 L994.50,1353.32 L993.64,1354.26 L992.76,1355.19 L991.88,1356.12 L990.99,1357.06 L990.12,1357.99 L989.27,1358.92 L988.45,1359.86 L987.66,1360.79 L986.90,1361.73 L986.19,1362.66 L985.51,1363.59 L984.89,1364.53 L984.31,1365.46 L983.78,1366.39 L983.29,1367.33 L982.85,1368.26 L982.46,1369.20 L982.10,1370.13 L981.79,1371.06 L981.51,1372.00 L981.26,1372.93 L981.05,1373.86 L980.86,1374.80 L980.70,1375.73 L980.57,1376.67 L980.45,1377.60 L980.35,1378.53 L980.27,1379.47 L980.20,1380.40 L979.60,1380.40 L979.53,1379.47 L979.45,1378.53 L979.35,1377.60 L979.23,1376.67 L979.10,1375.73 L978.94,1374.80 L978.75,1373.86 L978.54,1372.93 L978.29,1372.00 L978.01,1371.06 L977.70,1370.13 L977.34,1369.20 L976.95,1368.26 L976.51,1367.33 L976.02,1366.39 L975.49,1365.46 L974.91,1364.53 L974.29,1363.59 L973.61,1362.66 L972.90,1361.73 L972.14,1360.79 L971.35,1359.86 L970.53,1358.92 L969.68,1357.99 L968.81,1357.06 L967.92,1356.12 L967.04,1355.19 L966.16,1354.26 L965.30,1353.32 L964.47,1352.39 L963.67,1351.45 L962.92,1350.52 L962.23,1349.59 L961.60,1348.65 L961.05,1347.72 L960.59,1346.79 L960.22,1345.85 L959.94,1344.92 L959.77,1343.98 L959.70,1343.05 L959.70,1342.90 L959.74,1342.12 L959.88,1341.18 L960.13,1340.25 L960.47,1339.32 L960.92,1338.38 L961.44,1337.45 L962.05,1336.51 L962.74,1335.58 L963.48,1334.65 L964.27,1333.71 L965.10,1332.78 L965.97,1331.85 L966.85,1330.91 L967.74,1329.98 L968.63,1329.04 L969.51,1328.11 L970.37,1327.18 L971.21,1326.24 L972.01,1325.31 L972.78,1324.38 L973.51,1323.44 L974.19,1322.51 L974.83,1321.57 L975.42,1320.64 L975.96,1319.71 L976.46,1318.77 L976.90,1317.84 L977.31,1316.90 L977.67,1315.97 L977.99,1315.04 L978.27,1314.10 L978.52,1313.17 L978.74,1312.24 L978.93,1311.30 L979.09,1310.37 L979.23,1309.43 L979.35,1308.50 L979.45,1307.57 L979.53,1306.63 L979.60,1305.70 Z" fill="none" stroke="#000" stroke-width="2.0" stroke-linejoin="round"/>
<line x1="959.70" y1="1342.90" x2="1000.10" y2="1342.90" stroke="#000" stroke-width="2.0" />
<path d="M1079.30,1259.00 L1079.37,1260.17 L1079.45,1261.35 L1079.55,1262.52 L1079.67,1263.69 L1079.80,1264.86 L1079.96,1266.04 L1080.15,1267.21 L1080.36,1268.38 L1080.60,1269.55 L1080.88,1270.72 L1081.20,1271.90 L1081.55,1273.07 L1081.95,1274.24 L1082.39,1275.41 L1082.87,1276.59 L1083.40,1277.76 L1083.98,1278.93 L1084.61,1280.11 L1085.28,1281.28 L1085.99,1282.45 L1086.75,1283.62 L1087.54,1284.80 L1088.36,1285.97 L1089.21,1287.14 L1090.08,1288.31 L1090.96,1289.48 L1091.84,1290.66 L1092.72,1291.83 L1093.57,1293.00 L1094.40,1294.17 L1095.20,1295.35 L1095.94,1296.52 L1096.63,1297.69 L1097.24,1298.87 L1097.78,1300.04 L1098.24,1301.21 L1098.61,1302.38 L1098.87,1303.56 L1099.04,1304.73 L1099.10,1305.90 L1099.10,1306.00 L1099.06,1307.07 L1098.91,1308.24 L1098.65,1309.42 L1098.30,1310.59 L1097.86,1311.76 L1097.33,1312.93 L1096.72,1314.11 L1096.04,1315.28 L1095.30,1316.45 L1094.51,1317.62 L1093.68,1318.80 L1092.82,1319.97 L1091.94,1321.14 L1091.06,1322.32 L1090.17,1323.49 L1089.30,1324.66 L1088.45,1325.83 L1087.62,1327.00 L1086.82,1328.18 L1086.06,1329.35 L1085.34,1330.52 L1084.66,1331.69 L1084.03,1332.87 L1083.44,1334.04 L1082.91,1335.21 L1082.42,1336.38 L1081.97,1337.56 L1081.57,1338.73 L1081.21,1339.90 L1080.89,1341.08 L1080.61,1342.25 L1080.37,1343.42 L1080.15,1344.59 L1079.97,1345.76 L1079.81,1346.94 L1079.67,1348.11 L1079.55,1349.28 L1079.45,1350.45 L1079.37,1351.63 L1079.30,1352.80 L1078.70,1352.80 L1078.63,1351.63 L1078.55,1350.45 L1078.45,1349.28 L1078.33,1348.11 L1078.19,1346.94 L1078.03,1345.76 L1077.85,1344.59 L1077.63,1343.42 L1077.39,1342.25 L1077.11,1341.08 L1076.79,1339.90 L1076.43,1338.73 L1076.03,1337.56 L1075.58,1336.38 L1075.09,1335.21 L1074.56,1334.04 L1073.97,1332.87 L1073.34,1331.69 L1072.66,1330.52 L1071.94,1329.35 L1071.18,1328.18 L1070.38,1327.00 L1069.55,1325.83 L1068.70,1324.66 L1067.83,1323.49 L1066.94,1322.32 L1066.06,1321.14 L1065.18,1319.97 L1064.32,1318.80 L1063.49,1317.62 L1062.70,1316.45 L1061.96,1315.28 L1061.28,1314.11 L1060.67,1312.93 L1060.14,1311.76 L1059.70,1310.59 L1059.35,1309.42 L1059.09,1308.24 L1058.94,1307.07 L1058.90,1306.00 L1058.90,1305.90 L1058.96,1304.73 L1059.13,1303.56 L1059.39,1302.38 L1059.76,1301.21 L1060.22,1300.04 L1060.76,1298.87 L1061.37,1297.69 L1062.06,1296.52 L1062.80,1295.35 L1063.60,1294.17 L1064.43,1293.00 L1065.28,1291.83 L1066.16,1290.66 L1067.04,1289.48 L1067.92,1288.31 L1068.79,1287.14 L1069.64,1285.97 L1070.46,1284.80 L1071.25,1283.62 L1072.01,1282.45 L1072.72,1281.28 L1073.39,1280.11 L1074.02,1278.93 L1074.60,1277.76 L1075.13,1276.59 L1075.61,1275.41 L1076.05,1274.24 L1076.45,1273.07 L1076.80,1271.90 L1077.12,1270.72 L1077.40,1269.55 L1077.64,1268.38 L1077.85,1267.21 L1078.04,1266.04 L1078.20,1264.86 L1078.33,1263.69 L1078.45,1262.52 L1078.55,1261.35 L1078.63,1260.17 L1078.70,1259.00 Z" fill="none" stroke="#000" stroke-width="2.0" stroke-linejoin="round"/>
<line x1="1058.90" y1="1306.00" x2="1099.10" y2="1306.00" stroke="#000" stroke-width="2.0" />
<path d="M1178.60,1259.00 L1178.67,1260.17 L1178.76,1261.35 L1178.86,1262.52 L1178.97,1263.69 L1179.11,1264.86 L1179.27,1266.04 L1179.46,1267.21 L1179.67,1268.38 L1179.92,1269.55 L1180.20,1270.72 L1180.52,1271.90 L1180.88,1273.07 L1181.28,1274.24 L1181.72,1275.41 L1182.21,1276.59 L1182.75,1277.76 L1183.33,1278.93 L1183.96,1280.11 L1184.64,1281.28 L1185.36,1282.45 L1186.13,1283.62 L1186.93,1284.80 L1187.76,1285.97 L1188.61,1287.14 L1189.49,1288.31 L1190.38,1289.48 L1191.27,1290.66 L1192.15,1291.83 L1193.02,1293.00 L1193.86,1294.17 L1194.66,1295.35 L1195.41,1296.52 L1196.10,1297.69 L1196.73,1298.87 L1197.27,1300.04 L1197.73,1301.21 L1198.10,1302.38 L1198.37,1303.56 L1198.54,1304.73 L1198.60,1305.90 L1198.60,1306.00 L1198.56,1307.07 L1198.40,1308.24 L1198.15,1309.42 L1197.80,1310.59 L1197.35,1311.76 L1196.81,1312.93 L1196.19,1314.11 L1195.51,1315.28 L1194.76,1316.45 L1193.96,1317.62 L1193.12,1318.80 L1192.26,1319.97 L1191.37,1321.14 L1190.48,1322.32 L1189.59,1323.49 L1188.70,1324.66 L1187.84,1325.83 L1187.00,1327.00 L1186.20,1328.18 L1185.43,1329.35 L1184.70,1330.52 L1184.01,1331.69 L1183.38,1332.87 L1182.79,1334.04 L1182.24,1335.21 L1181.75,1336.38 L1181.30,1337.56 L1180.90,1338.73 L1180.53,1339.90 L1180.21,1341.08 L1179.93,1342.25 L1179.68,1343.42 L1179.46,1344.59 L1179.28,1345.76 L1179.11,1346.94 L1178.97,1348.11 L1178.86,1349.28 L1178.76,1350.45 L1178.67,1351.63 L1178.60,1352.80 L1178.00,1352.80 L1177.93,1351.63 L1177.84,1350.45 L1177.74,1349.28 L1177.63,1348.11 L1177.49,1346.94 L1177.32,1345.76 L1177.14,1344.59 L1176.92,1343.42 L1176.67,1342.25 L1176.39,1341.08 L1176.07,1339.90 L1175.70,1338.73 L1175.30,1337.56 L1174.85,1336.38 L1174.36,1335.21 L1173.81,1334.04 L1173.22,1332.87 L1172.59,1331.69 L1171.90,1330.52 L1171.17,1329.35 L1170.40,1328.18 L1169.60,1327.00 L1168.76,1325.83 L1167.90,1324.66 L1167.01,1323.49 L1166.12,1322.32 L1165.23,1321.14 L1164.34,1319.97 L1163.48,1318.80 L1162.64,1317.62 L1161.84,1316.45 L1161.09,1315.28 L1160.41,1314.11 L1159.79,1312.93 L1159.25,1311.76 L1158.80,1310.59 L1158.45,1309.42 L1158.20,1308.24 L1158.04,1307.07 L1158.00,1306.00 L1158.00,1305.90 L1158.06,1304.73 L1158.23,1303.56 L1158.50,1302.38 L1158.87,1301.21 L1159.33,1300.04 L1159.87,1298.87 L1160.50,1297.69 L1161.19,1296.52 L1161.94,1295.35 L1162.74,1294.17 L1163.58,1293.00 L1164.45,1291.83 L1165.33,1290.66 L1166.22,1289.48 L1167.11,1288.31 L1167.99,1287.14 L1168.84,1285.97 L1169.67,1284.80 L1170.47,1283.62 L1171.24,1282.45 L1171.96,1281.28 L1172.64,1280.11 L1173.27,1278.93 L1173.85,1277.76 L1174.39,1276.59 L1174.88,1275.41 L1175.32,1274.24 L1175.72,1273.07 L1176.08,1271.90 L1176.40,1270.72 L1176.68,1269.55 L1176.93,1268.38 L1177.14,1267.21 L1177.33,1266.04 L1177.49,1264.86 L1177.63,1263.69 L1177.74,1262.52 L1177.84,1261.35 L1177.93,1260.17 L1178.00,1259.00 Z" fill="none" stroke="#000" stroke-width="2.0" stroke-linejoin="round"/>
<line x1="1158.00" y1="1306.00" x2="1198.60" y2="1306.00" stroke="#000" stroke-width="2.0" />
<path d="M1277.60,1246.10 L1277.67,1247.37 L1277.76,1248.64 L1277.86,1249.91 L1277.97,1251.17 L1278.11,1252.44 L1278.27,1253.71 L1278.46,1254.98 L1278.68,1256.25 L1278.93,1257.52 L1279.21,1258.79 L1279.53,1260.06 L1279.89,1261.32 L1280.29,1262.59 L1280.74,1263.86 L1281.24,1265.13 L1281.78,1266.40 L1282.37,1267.67 L1283.00,1268.94 L1283.68,1270.21 L1284.41,1271.47 L1285.18,1272.74 L1285.98,1274.01 L1286.82,1275.28 L1287.68,1276.55 L1288.56,1277.82 L1289.45,1279.09 L1290.34,1280.36 L1291.23,1281.62 L1292.09,1282.89 L1292.93,1284.16 L1293.73,1285.43 L1294.48,1286.70 L1295.17,1287.97 L1295.79,1289.24 L1296.33,1290.51 L1296.78,1291.77 L1297.14,1293.04 L1297.40,1294.31 L1297.55,1295.58 L1297.60,1296.80 L1297.60,1296.85 L1297.54,1298.12 L1297.38,1299.39 L1297.11,1300.66 L1296.75,1301.92 L1296.29,1303.19 L1295.75,1304.46 L1295.13,1305.73 L1294.43,1307.00 L1293.68,1308.27 L1292.88,1309.54 L1292.05,1310.81 L1291.18,1312.07 L1290.30,1313.34 L1289.41,1314.61 L1288.52,1315.88 L1287.64,1317.15 L1286.78,1318.42 L1285.95,1319.69 L1285.14,1320.96 L1284.38,1322.22 L1283.66,1323.49 L1282.98,1324.76 L1282.34,1326.03 L1281.76,1327.30 L1281.22,1328.57 L1280.73,1329.84 L1280.28,1331.11 L1279.88,1332.38 L1279.52,1333.64 L1279.20,1334.91 L1278.92,1336.18 L1278.67,1337.45 L1278.46,1338.72 L1278.27,1339.99 L1278.11,1341.26 L1277.97,1342.52 L1277.86,1343.79 L1277.76,1345.06 L1277.67,1346.33 L1277.60,1347.60 L1277.00,1347.60 L1276.93,1346.33 L1276.84,1345.06 L1276.74,1343.79 L1276.63,1342.52 L1276.49,1341.26 L1276.33,1339.99 L1276.14,1338.72 L1275.93,1337.45 L1275.68,1336.18 L1275.40,1334.91 L1275.08,1333.64 L1274.72,1332.38 L1274.32,1331.11 L1273.87,1329.84 L1273.38,1328.57 L1272.84,1327.30 L1272.26,1326.03 L1271.62,1324.76 L1270.94,1323.49 L1270.22,1322.22 L1269.46,1320.96 L1268.65,1319.69 L1267.82,1318.42 L1266.96,1317.15 L1266.08,1315.88 L1265.19,1314.61 L1264.30,1313.34 L1263.42,1312.07 L1262.55,1310.81 L1261.72,1309.54 L1260.92,1308.27 L1260.17,1307.00 L1259.47,1305.73 L1258.85,1304.46 L1258.31,1303.19 L1257.85,1301.92 L1257.49,1300.66 L1257.22,1299.39 L1257.06,1298.12 L1257.00,1296.85 L1257.00,1296.80 L1257.05,1295.58 L1257.20,1294.31 L1257.46,1293.04 L1257.82,1291.77 L1258.27,1290.51 L1258.81,1289.24 L1259.43,1287.97 L1260.12,1286.70 L1260.87,1285.43 L1261.67,1284.16 L1262.51,1282.89 L1263.37,1281.62 L1264.26,1280.36 L1265.15,1279.09 L1266.04,1277.82 L1266.92,1276.55 L1267.78,1275.28 L1268.62,1274.01 L1269.42,1272.74 L1270.19,1271.47 L1270.92,1270.21 L1271.60,1268.94 L1272.23,1267.67 L1272.82,1266.40 L1273.36,1265.13 L1273.86,1263.86 L1274.31,1262.59 L1274.71,1261.32 L1275.07,1260.06 L1275.39,1258.79 L1275.67,1257.52 L1275.92,1256.25 L1276.14,1254.98 L1276.33,1253.71 L1276.49,1252.44 L1276.63,1251.17 L1276.74,1249.91 L1276.84,1248.64 L1276.93,1247.37 L1277.00,1246.10 Z" fill="none" stroke="#000" stroke-width="2.0" stroke-linejoin="round"/>
<line x1="1257.00" y1="1296.80" x2="1297.60" y2="1296.80" stroke="#000" stroke-width="2.0" />
<text transform="translate(887.50,1330.30) rotate(-90)" font-size="20.6"><tspan font-style="italic">P</tspan> = 0.008</text>
<text transform="translate(991.40,1288.20) rotate(-90)" font-size="20.6"><tspan font-style="italic">P</tspan> = 0.0006</text>
<text transform="translate(1087.90,1239.90) rotate(-90)" font-size="20.6"><tspan font-style="italic">P</tspan> = 0.0001</text>
<text transform="translate(1186.90,1239.90) rotate(-90)" font-size="20.6"><tspan font-style="italic">P</tspan> = 0.0001</text>
<text transform="translate(1286.80,1227.60) rotate(-90)" font-size="20.6"><tspan font-style="italic">P</tspan> = 0.0001</text>
</svg></body></html>
